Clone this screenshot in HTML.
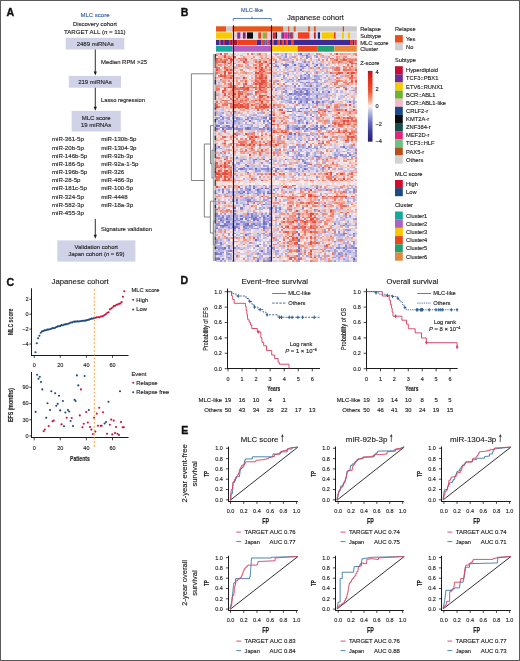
<!DOCTYPE html>
<html><head><meta charset="utf-8"><style>
html,body{margin:0;padding:0;background:#fff;}
svg{display:block;}
text{font-family:"Liberation Sans", sans-serif;stroke-width:0.13px;}
</style></head><body>
<svg width="520" height="661" viewBox="0 0 520 661">
<defs><filter id="gb" x="0" y="0" width="1" height="1"><feGaussianBlur stdDeviation="0.25"/></filter><filter id="hb" x="0" y="0" width="1" height="1"><feGaussianBlur stdDeviation="0.35"/></filter></defs>
<rect width="520" height="661" fill="#fff"/>
<g fill="#222222" filter="url(#gb)">
<text x="6.4" y="15.8" font-size="10.6" font-weight="bold" fill="#111" stroke="#111" style="stroke-width:0.35px">A</text>
<text x="180.8" y="15.6" font-size="10.6" font-weight="bold" fill="#111" stroke="#111" style="stroke-width:0.35px">B</text>
<text x="6.4" y="286.3" font-size="10.6" font-weight="bold" fill="#111" stroke="#111" style="stroke-width:0.35px">C</text>
<text x="180.4" y="283.5" font-size="10.6" font-weight="bold" fill="#111" stroke="#111" style="stroke-width:0.35px">D</text>
<text x="181.2" y="434.2" font-size="10.6" font-weight="bold" fill="#111" stroke="#111" style="stroke-width:0.35px">E</text>
<text x="95.00" y="16.56" font-size="6.0" text-anchor="middle" fill="#2f65a8" stroke="#2f65a8" textLength="29.2" lengthAdjust="spacingAndGlyphs">MLC score</text>
<text x="95.00" y="26.34" font-size="5.95" text-anchor="middle" stroke="#222222" textLength="44" lengthAdjust="spacingAndGlyphs">Discovery cohort</text>
<text x="94.8" y="33.50" font-size="6.1" text-anchor="middle" textLength="61.6" lengthAdjust="spacingAndGlyphs" fill="#222222" stroke="#222222">TARGET ALL (<tspan font-style="italic">n</tspan> = 111)</text>
<rect x="65.70" y="37.80" width="58.60" height="11.70" fill="#d0d2e8"/>
<text x="95.20" y="45.86" font-size="6.0" text-anchor="middle" stroke="#222222" textLength="37" lengthAdjust="spacingAndGlyphs">2489 miRNAs</text>
<line x1="95.30" y1="49.50" x2="95.30" y2="72.40" stroke="#1a1a1a" stroke-width="0.9"/>
<path d="M93.70,71.60 L96.90,71.60 L95.30,75.60 Z" stroke="none" stroke-width="1" fill="#1a1a1a"/>
<text x="101.00" y="64.44" font-size="5.95" stroke="#222222" textLength="46" lengthAdjust="spacingAndGlyphs">Median RPM &gt;25</text>
<rect x="68.80" y="75.90" width="52.20" height="11.80" fill="#d0d2e8"/>
<text x="95.00" y="83.96" font-size="6.0" text-anchor="middle" stroke="#222222">219 miRNAs</text>
<line x1="95.30" y1="87.70" x2="95.30" y2="107.60" stroke="#1a1a1a" stroke-width="0.9"/>
<path d="M93.70,106.80 L96.90,106.80 L95.30,110.80 Z" stroke="none" stroke-width="1" fill="#1a1a1a"/>
<text x="101.00" y="101.79" font-size="5.8" stroke="#222222" textLength="44" lengthAdjust="spacingAndGlyphs">Lasso regression</text>
<rect x="71.60" y="110.80" width="49.20" height="20.70" fill="#d0d2e8"/>
<text x="96.20" y="120.36" font-size="6.0" text-anchor="middle" stroke="#222222">MLC score</text>
<text x="96.20" y="127.46" font-size="6.0" text-anchor="middle" stroke="#222222">19 miRNAs</text>
<text x="52.00" y="141.40" font-size="6.1" stroke="#222222">miR-361-5p</text>
<text x="52.00" y="149.56" font-size="6.1" stroke="#222222">miR-20b-5p</text>
<text x="52.00" y="157.72" font-size="6.1" stroke="#222222">miR-146b-5p</text>
<text x="52.00" y="165.88" font-size="6.1" stroke="#222222">miR-186-5p</text>
<text x="52.00" y="174.04" font-size="6.1" stroke="#222222">miR-196b-5p</text>
<text x="52.00" y="182.20" font-size="6.1" stroke="#222222">miR-28-5p</text>
<text x="52.00" y="190.36" font-size="6.1" stroke="#222222">miR-181c-5p</text>
<text x="52.00" y="198.52" font-size="6.1" stroke="#222222">miR-324-5p</text>
<text x="52.00" y="206.68" font-size="6.1" stroke="#222222">miR-582-3p</text>
<text x="52.00" y="214.84" font-size="6.1" stroke="#222222">miR-455-3p</text>
<text x="101.20" y="141.40" font-size="6.1" stroke="#222222">miR-130b-5p</text>
<text x="101.20" y="149.56" font-size="6.1" stroke="#222222">miR-1304-3p</text>
<text x="101.20" y="157.72" font-size="6.1" stroke="#222222">miR-92b-3p</text>
<text x="101.20" y="165.88" font-size="6.1" stroke="#222222">miR-92a-1-5p</text>
<text x="101.20" y="174.04" font-size="6.1" stroke="#222222">miR-326</text>
<text x="101.20" y="182.20" font-size="6.1" stroke="#222222">miR-486-3p</text>
<text x="101.20" y="190.36" font-size="6.1" stroke="#222222">miR-100-5p</text>
<text x="101.20" y="198.52" font-size="6.1" stroke="#222222">miR-4448</text>
<text x="101.20" y="206.68" font-size="6.1" stroke="#222222">miR-18a-3p</text>
<line x1="95.30" y1="218.90" x2="95.30" y2="235.60" stroke="#1a1a1a" stroke-width="0.9"/>
<path d="M93.70,234.80 L96.90,234.80 L95.30,238.80 Z" stroke="none" stroke-width="1" fill="#1a1a1a"/>
<text x="101.00" y="231.39" font-size="5.8" stroke="#222222" textLength="51" lengthAdjust="spacingAndGlyphs">Signature validation</text>
<rect x="57.30" y="240.40" width="78.10" height="21.20" fill="#d0d2e8"/>
<text x="96.30" y="249.42" font-size="5.9" text-anchor="middle" stroke="#222222">Validation cohort</text>
<text x="96.3" y="256.32" font-size="5.9" text-anchor="middle" fill="#222222" stroke="#222222">Japan cohort (<tspan font-style="italic">n</tspan> = 69)</text>
<text x="80.10" y="283.77" font-size="7.7" text-anchor="middle" stroke="#222222" textLength="57.1" lengthAdjust="spacingAndGlyphs">Japanese cohort</text>
<line x1="31.50" y1="288.30" x2="31.50" y2="356.00" stroke="#1a1a1a" stroke-width="1"/>
<line x1="31.00" y1="355.50" x2="128.50" y2="355.50" stroke="#1a1a1a" stroke-width="1"/>
<line x1="29.30" y1="299.30" x2="31.30" y2="299.30" stroke="#1a1a1a" stroke-width="0.8"/>
<text x="28.60" y="301.28" font-size="5.5" text-anchor="end" stroke="#222222">2</text>
<line x1="29.30" y1="314.20" x2="31.30" y2="314.20" stroke="#1a1a1a" stroke-width="0.8"/>
<text x="28.60" y="316.18" font-size="5.5" text-anchor="end" stroke="#222222">0</text>
<line x1="29.30" y1="329.10" x2="31.30" y2="329.10" stroke="#1a1a1a" stroke-width="0.8"/>
<text x="28.60" y="331.08" font-size="5.5" text-anchor="end" stroke="#222222">−2</text>
<line x1="29.30" y1="344.00" x2="31.30" y2="344.00" stroke="#1a1a1a" stroke-width="0.8"/>
<text x="28.60" y="345.98" font-size="5.5" text-anchor="end" stroke="#222222">−4</text>
<line x1="34.20" y1="355.60" x2="34.20" y2="357.80" stroke="#1a1a1a" stroke-width="0.8"/>
<text x="34.20" y="366.58" font-size="5.5" text-anchor="middle" stroke="#222222">0</text>
<line x1="60.30" y1="355.60" x2="60.30" y2="357.80" stroke="#1a1a1a" stroke-width="0.8"/>
<text x="60.30" y="366.58" font-size="5.5" text-anchor="middle" stroke="#222222">20</text>
<line x1="86.40" y1="355.60" x2="86.40" y2="357.80" stroke="#1a1a1a" stroke-width="0.8"/>
<text x="86.40" y="366.58" font-size="5.5" text-anchor="middle" stroke="#222222">40</text>
<line x1="112.50" y1="355.60" x2="112.50" y2="357.80" stroke="#1a1a1a" stroke-width="0.8"/>
<text x="112.50" y="366.58" font-size="5.5" text-anchor="middle" stroke="#222222">60</text>
<text x="10.60" y="324.61" font-size="7.8" text-anchor="middle" stroke="#222222" font-weight="bold" textLength="26.5" lengthAdjust="spacingAndGlyphs" transform="rotate(-90 10.60 321.80)">MLC score</text>
<circle cx="35.51" cy="352.30" r="1.05" fill="#1f4a80"/>
<circle cx="36.81" cy="343.24" r="1.05" fill="#1f4a80"/>
<circle cx="38.12" cy="338.32" r="1.05" fill="#1f4a80"/>
<circle cx="39.42" cy="335.69" r="1.05" fill="#1f4a80"/>
<circle cx="40.73" cy="332.80" r="1.05" fill="#1f4a80"/>
<circle cx="42.03" cy="331.42" r="1.05" fill="#1f4a80"/>
<circle cx="43.34" cy="331.00" r="1.05" fill="#1f4a80"/>
<circle cx="44.64" cy="330.36" r="1.05" fill="#1f4a80"/>
<circle cx="45.95" cy="330.27" r="1.05" fill="#1f4a80"/>
<circle cx="47.25" cy="329.66" r="1.05" fill="#1f4a80"/>
<circle cx="48.55" cy="329.55" r="1.05" fill="#1f4a80"/>
<circle cx="49.86" cy="329.21" r="1.05" fill="#1f4a80"/>
<circle cx="51.17" cy="328.68" r="1.05" fill="#1f4a80"/>
<circle cx="52.47" cy="328.12" r="1.05" fill="#1f4a80"/>
<circle cx="53.78" cy="328.21" r="1.05" fill="#1f4a80"/>
<circle cx="55.08" cy="327.72" r="1.05" fill="#1f4a80"/>
<circle cx="56.39" cy="327.04" r="1.05" fill="#1f4a80"/>
<circle cx="57.69" cy="326.42" r="1.05" fill="#1f4a80"/>
<circle cx="59.00" cy="326.21" r="1.05" fill="#1f4a80"/>
<circle cx="60.30" cy="325.88" r="1.05" fill="#1f4a80"/>
<circle cx="61.61" cy="325.15" r="1.05" fill="#1f4a80"/>
<circle cx="62.91" cy="325.32" r="1.05" fill="#1f4a80"/>
<circle cx="64.22" cy="324.45" r="1.05" fill="#1f4a80"/>
<circle cx="65.52" cy="324.40" r="1.05" fill="#1f4a80"/>
<circle cx="66.83" cy="324.10" r="1.05" fill="#1f4a80"/>
<circle cx="68.13" cy="323.71" r="1.05" fill="#1f4a80"/>
<circle cx="69.44" cy="323.19" r="1.05" fill="#1f4a80"/>
<circle cx="70.74" cy="322.49" r="1.05" fill="#1f4a80"/>
<circle cx="72.05" cy="322.47" r="1.05" fill="#1f4a80"/>
<circle cx="73.35" cy="321.82" r="1.05" fill="#1f4a80"/>
<circle cx="74.66" cy="321.63" r="1.05" fill="#1f4a80"/>
<circle cx="75.96" cy="321.62" r="1.05" fill="#1f4a80"/>
<circle cx="77.27" cy="321.35" r="1.05" fill="#1f4a80"/>
<circle cx="78.57" cy="321.48" r="1.05" fill="#1f4a80"/>
<circle cx="79.88" cy="321.32" r="1.05" fill="#1f4a80"/>
<circle cx="81.18" cy="321.10" r="1.05" fill="#1f4a80"/>
<circle cx="82.48" cy="320.68" r="1.05" fill="#1f4a80"/>
<circle cx="83.79" cy="320.69" r="1.05" fill="#1f4a80"/>
<circle cx="85.09" cy="320.63" r="1.05" fill="#1f4a80"/>
<circle cx="86.40" cy="320.33" r="1.05" fill="#1f4a80"/>
<circle cx="87.70" cy="319.99" r="1.05" fill="#1f4a80"/>
<circle cx="89.01" cy="319.66" r="1.05" fill="#1f4a80"/>
<circle cx="90.31" cy="318.94" r="1.05" fill="#1f4a80"/>
<circle cx="91.62" cy="318.65" r="1.05" fill="#1f4a80"/>
<circle cx="92.92" cy="318.57" r="1.05" fill="#1f4a80"/>
<circle cx="94.23" cy="318.03" r="1.05" fill="#1f4a80"/>
<circle cx="95.53" cy="317.76" r="1.05" fill="#c8143c"/>
<circle cx="96.84" cy="317.33" r="1.05" fill="#c8143c"/>
<circle cx="98.15" cy="317.19" r="1.05" fill="#c8143c"/>
<circle cx="99.45" cy="317.19" r="1.05" fill="#c8143c"/>
<circle cx="100.75" cy="316.52" r="1.05" fill="#c8143c"/>
<circle cx="102.06" cy="316.48" r="1.05" fill="#c8143c"/>
<circle cx="103.36" cy="315.74" r="1.05" fill="#c8143c"/>
<circle cx="104.67" cy="315.02" r="1.05" fill="#c8143c"/>
<circle cx="105.97" cy="314.03" r="1.05" fill="#c8143c"/>
<circle cx="107.28" cy="312.72" r="1.05" fill="#c8143c"/>
<circle cx="108.58" cy="312.24" r="1.05" fill="#c8143c"/>
<circle cx="109.89" cy="309.33" r="1.05" fill="#c8143c"/>
<circle cx="111.19" cy="308.45" r="1.05" fill="#c8143c"/>
<circle cx="112.50" cy="307.45" r="1.05" fill="#c8143c"/>
<circle cx="113.80" cy="306.15" r="1.05" fill="#c8143c"/>
<circle cx="115.11" cy="305.74" r="1.05" fill="#c8143c"/>
<circle cx="116.41" cy="304.77" r="1.05" fill="#c8143c"/>
<circle cx="117.72" cy="304.46" r="1.05" fill="#c8143c"/>
<circle cx="119.03" cy="303.87" r="1.05" fill="#c8143c"/>
<circle cx="120.33" cy="303.42" r="1.05" fill="#c8143c"/>
<circle cx="121.64" cy="302.08" r="1.05" fill="#c8143c"/>
<circle cx="122.94" cy="296.80" r="1.05" fill="#c8143c"/>
<circle cx="124.25" cy="291.27" r="1.05" fill="#c8143c"/>
<text x="131.50" y="292.29" font-size="5.8" stroke="#222222">MLC score</text>
<circle cx="133.20" cy="299.80" r="1.0" fill="#c8143c"/>
<text x="136.30" y="301.89" font-size="5.8" stroke="#222222">High</text>
<circle cx="133.20" cy="309.40" r="1.0" fill="#1f4a80"/>
<text x="136.30" y="311.49" font-size="5.8" stroke="#222222">Low</text>
<line x1="31.50" y1="372.00" x2="31.50" y2="438.00" stroke="#1a1a1a" stroke-width="1"/>
<line x1="31.00" y1="437.50" x2="128.50" y2="437.50" stroke="#1a1a1a" stroke-width="1"/>
<line x1="29.30" y1="387.25" x2="31.30" y2="387.25" stroke="#1a1a1a" stroke-width="0.8"/>
<text x="28.60" y="389.23" font-size="5.5" text-anchor="end" stroke="#222222">90</text>
<line x1="29.30" y1="403.50" x2="31.30" y2="403.50" stroke="#1a1a1a" stroke-width="0.8"/>
<text x="28.60" y="405.48" font-size="5.5" text-anchor="end" stroke="#222222">60</text>
<line x1="29.30" y1="419.75" x2="31.30" y2="419.75" stroke="#1a1a1a" stroke-width="0.8"/>
<text x="28.60" y="421.73" font-size="5.5" text-anchor="end" stroke="#222222">30</text>
<line x1="29.30" y1="436.00" x2="31.30" y2="436.00" stroke="#1a1a1a" stroke-width="0.8"/>
<text x="28.60" y="437.98" font-size="5.5" text-anchor="end" stroke="#222222">0</text>
<line x1="34.20" y1="438.00" x2="34.20" y2="440.30" stroke="#1a1a1a" stroke-width="0.8"/>
<text x="34.20" y="449.58" font-size="5.5" text-anchor="middle" stroke="#222222">0</text>
<line x1="60.30" y1="438.00" x2="60.30" y2="440.30" stroke="#1a1a1a" stroke-width="0.8"/>
<text x="60.30" y="449.58" font-size="5.5" text-anchor="middle" stroke="#222222">20</text>
<line x1="86.40" y1="438.00" x2="86.40" y2="440.30" stroke="#1a1a1a" stroke-width="0.8"/>
<text x="86.40" y="449.58" font-size="5.5" text-anchor="middle" stroke="#222222">40</text>
<line x1="112.50" y1="438.00" x2="112.50" y2="440.30" stroke="#1a1a1a" stroke-width="0.8"/>
<text x="112.50" y="449.58" font-size="5.5" text-anchor="middle" stroke="#222222">60</text>
<text x="10.60" y="407.81" font-size="7.8" text-anchor="middle" stroke="#222222" font-weight="bold" textLength="34.0" lengthAdjust="spacingAndGlyphs" transform="rotate(-90 10.60 405.00)">EFS (months)</text>
<text x="79.90" y="461.31" font-size="7.8" text-anchor="middle" stroke="#222222" font-weight="bold" textLength="19.7" lengthAdjust="spacingAndGlyphs">Patients</text>
<circle cx="43.70" cy="431.20" r="1.05" fill="#c8143c"/>
<circle cx="44.80" cy="429.60" r="1.05" fill="#c8143c"/>
<circle cx="48.70" cy="426.00" r="1.05" fill="#c8143c"/>
<circle cx="52.50" cy="421.20" r="1.05" fill="#c8143c"/>
<circle cx="53.80" cy="420.60" r="1.05" fill="#c8143c"/>
<circle cx="61.50" cy="424.40" r="1.05" fill="#c8143c"/>
<circle cx="66.70" cy="417.70" r="1.05" fill="#c8143c"/>
<circle cx="71.70" cy="418.00" r="1.05" fill="#c8143c"/>
<circle cx="79.80" cy="415.40" r="1.05" fill="#c8143c"/>
<circle cx="80.90" cy="389.40" r="1.05" fill="#c8143c"/>
<circle cx="82.40" cy="427.30" r="1.05" fill="#c8143c"/>
<circle cx="83.70" cy="423.80" r="1.05" fill="#c8143c"/>
<circle cx="86.20" cy="412.00" r="1.05" fill="#c8143c"/>
<circle cx="87.80" cy="422.50" r="1.05" fill="#c8143c"/>
<circle cx="90.00" cy="427.00" r="1.05" fill="#c8143c"/>
<circle cx="91.40" cy="429.60" r="1.05" fill="#c8143c"/>
<circle cx="92.90" cy="434.00" r="1.05" fill="#c8143c"/>
<circle cx="94.10" cy="417.70" r="1.05" fill="#c8143c"/>
<circle cx="96.80" cy="413.60" r="1.05" fill="#c8143c"/>
<circle cx="97.90" cy="425.80" r="1.05" fill="#c8143c"/>
<circle cx="99.20" cy="407.70" r="1.05" fill="#c8143c"/>
<circle cx="100.60" cy="425.80" r="1.05" fill="#c8143c"/>
<circle cx="101.70" cy="425.80" r="1.05" fill="#c8143c"/>
<circle cx="103.00" cy="412.30" r="1.05" fill="#c8143c"/>
<circle cx="107.00" cy="433.70" r="1.05" fill="#c8143c"/>
<circle cx="109.80" cy="424.80" r="1.05" fill="#c8143c"/>
<circle cx="111.20" cy="419.60" r="1.05" fill="#c8143c"/>
<circle cx="112.30" cy="434.40" r="1.05" fill="#c8143c"/>
<circle cx="113.70" cy="420.60" r="1.05" fill="#c8143c"/>
<circle cx="115.00" cy="433.00" r="1.05" fill="#c8143c"/>
<circle cx="116.00" cy="427.00" r="1.05" fill="#c8143c"/>
<circle cx="117.50" cy="433.70" r="1.05" fill="#c8143c"/>
<circle cx="119.00" cy="435.00" r="1.05" fill="#c8143c"/>
<circle cx="121.00" cy="422.00" r="1.05" fill="#c8143c"/>
<circle cx="122.70" cy="427.30" r="1.05" fill="#c8143c"/>
<circle cx="123.80" cy="427.30" r="1.05" fill="#c8143c"/>
<circle cx="35.60" cy="411.90" r="1.05" fill="#1f4a80"/>
<circle cx="37.10" cy="374.80" r="1.05" fill="#1f4a80"/>
<circle cx="38.50" cy="378.70" r="1.05" fill="#1f4a80"/>
<circle cx="39.80" cy="376.70" r="1.05" fill="#1f4a80"/>
<circle cx="41.00" cy="382.00" r="1.05" fill="#1f4a80"/>
<circle cx="42.30" cy="389.40" r="1.05" fill="#1f4a80"/>
<circle cx="46.20" cy="417.70" r="1.05" fill="#1f4a80"/>
<circle cx="47.50" cy="403.30" r="1.05" fill="#1f4a80"/>
<circle cx="50.00" cy="410.00" r="1.05" fill="#1f4a80"/>
<circle cx="51.30" cy="391.30" r="1.05" fill="#1f4a80"/>
<circle cx="55.20" cy="393.30" r="1.05" fill="#1f4a80"/>
<circle cx="56.30" cy="405.80" r="1.05" fill="#1f4a80"/>
<circle cx="57.70" cy="403.80" r="1.05" fill="#1f4a80"/>
<circle cx="59.00" cy="395.80" r="1.05" fill="#1f4a80"/>
<circle cx="60.20" cy="410.40" r="1.05" fill="#1f4a80"/>
<circle cx="62.90" cy="401.00" r="1.05" fill="#1f4a80"/>
<circle cx="64.00" cy="426.30" r="1.05" fill="#1f4a80"/>
<circle cx="65.40" cy="412.50" r="1.05" fill="#1f4a80"/>
<circle cx="67.90" cy="410.00" r="1.05" fill="#1f4a80"/>
<circle cx="69.20" cy="411.50" r="1.05" fill="#1f4a80"/>
<circle cx="70.60" cy="421.00" r="1.05" fill="#1f4a80"/>
<circle cx="73.00" cy="426.00" r="1.05" fill="#1f4a80"/>
<circle cx="74.60" cy="399.80" r="1.05" fill="#1f4a80"/>
<circle cx="75.60" cy="401.00" r="1.05" fill="#1f4a80"/>
<circle cx="76.90" cy="375.40" r="1.05" fill="#1f4a80"/>
<circle cx="78.30" cy="385.40" r="1.05" fill="#1f4a80"/>
<circle cx="84.60" cy="376.00" r="1.05" fill="#1f4a80"/>
<circle cx="88.80" cy="410.00" r="1.05" fill="#1f4a80"/>
<circle cx="95.30" cy="431.60" r="1.05" fill="#1f4a80"/>
<circle cx="104.60" cy="423.50" r="1.05" fill="#1f4a80"/>
<circle cx="106.00" cy="422.00" r="1.05" fill="#1f4a80"/>
<circle cx="108.50" cy="401.70" r="1.05" fill="#1f4a80"/>
<circle cx="120.00" cy="391.30" r="1.05" fill="#1f4a80"/>
<text x="131.50" y="375.59" font-size="5.8" stroke="#222222">Event</text>
<circle cx="133.20" cy="382.70" r="1.0" fill="#c8143c"/>
<text x="136.30" y="384.79" font-size="5.8" stroke="#222222">Relapse</text>
<circle cx="133.20" cy="392.30" r="1.0" fill="#1f4a80"/>
<text x="136.30" y="394.39" font-size="5.8" stroke="#222222">Relapse free</text>
<line x1="94.30" y1="288.90" x2="94.30" y2="448.50" stroke="#f0a040" stroke-width="0.9" stroke-dasharray="2.2 1.6"/>
<line x1="227.50" y1="288.50" x2="227.50" y2="369.00" stroke="#1a1a1a" stroke-width="1"/>
<line x1="227.00" y1="368.50" x2="320.03" y2="368.50" stroke="#1a1a1a" stroke-width="1"/>
<line x1="224.70" y1="368.70" x2="227.50" y2="368.70" stroke="#1a1a1a" stroke-width="0.8"/>
<text x="221.90" y="370.68" font-size="5.5" text-anchor="end" stroke="#222222">0.0</text>
<line x1="224.70" y1="353.30" x2="227.50" y2="353.30" stroke="#1a1a1a" stroke-width="0.8"/>
<text x="221.90" y="355.28" font-size="5.5" text-anchor="end" stroke="#222222">0.2</text>
<line x1="224.70" y1="337.90" x2="227.50" y2="337.90" stroke="#1a1a1a" stroke-width="0.8"/>
<text x="221.90" y="339.88" font-size="5.5" text-anchor="end" stroke="#222222">0.4</text>
<line x1="224.70" y1="322.50" x2="227.50" y2="322.50" stroke="#1a1a1a" stroke-width="0.8"/>
<text x="221.90" y="324.48" font-size="5.5" text-anchor="end" stroke="#222222">0.6</text>
<line x1="224.70" y1="307.10" x2="227.50" y2="307.10" stroke="#1a1a1a" stroke-width="0.8"/>
<text x="221.90" y="309.08" font-size="5.5" text-anchor="end" stroke="#222222">0.8</text>
<line x1="224.70" y1="291.70" x2="227.50" y2="291.70" stroke="#1a1a1a" stroke-width="0.8"/>
<text x="221.90" y="293.68" font-size="5.5" text-anchor="end" stroke="#222222">1.0</text>
<line x1="228.00" y1="368.70" x2="228.00" y2="371.30" stroke="#1a1a1a" stroke-width="0.8"/>
<text x="228.00" y="380.68" font-size="5.5" text-anchor="middle" stroke="#222222">0</text>
<line x1="242.05" y1="368.70" x2="242.05" y2="371.30" stroke="#1a1a1a" stroke-width="0.8"/>
<text x="242.05" y="380.68" font-size="5.5" text-anchor="middle" stroke="#222222">1</text>
<line x1="256.10" y1="368.70" x2="256.10" y2="371.30" stroke="#1a1a1a" stroke-width="0.8"/>
<text x="256.10" y="380.68" font-size="5.5" text-anchor="middle" stroke="#222222">2</text>
<line x1="270.15" y1="368.70" x2="270.15" y2="371.30" stroke="#1a1a1a" stroke-width="0.8"/>
<text x="270.15" y="380.68" font-size="5.5" text-anchor="middle" stroke="#222222">3</text>
<line x1="284.20" y1="368.70" x2="284.20" y2="371.30" stroke="#1a1a1a" stroke-width="0.8"/>
<text x="284.20" y="380.68" font-size="5.5" text-anchor="middle" stroke="#222222">4</text>
<line x1="298.25" y1="368.70" x2="298.25" y2="371.30" stroke="#1a1a1a" stroke-width="0.8"/>
<text x="298.25" y="380.68" font-size="5.5" text-anchor="middle" stroke="#222222">5</text>
<line x1="312.30" y1="368.70" x2="312.30" y2="371.30" stroke="#1a1a1a" stroke-width="0.8"/>
<text x="312.30" y="380.68" font-size="5.5" text-anchor="middle" stroke="#222222">6</text>
<text x="241.50" y="283.94" font-size="7.6" stroke="#222222" textLength="66.6" lengthAdjust="spacingAndGlyphs">Event−free survival</text>
<text x="205.80" y="331.45" font-size="6.8" text-anchor="middle" stroke="#222222" textLength="43.6" lengthAdjust="spacingAndGlyphs" transform="rotate(-90 205.80 329.00)">Probability of EFS</text>
<text x="273.80" y="391.48" font-size="8.0" text-anchor="middle" stroke="#222222" font-weight="bold" textLength="13.1" lengthAdjust="spacingAndGlyphs">Years</text>
<path d="M228,291.7 H231.5 V295.8 H232.7 V299.5 H234.2 V303.3 H245.5 V306.5 H246.2 V310.5 H246.9 V314.5 H247.5 V318 H247.8 V319.8 H249.2 V322.1 H250.4 V325 H251.8 V328.5 H257.3 V331.9 H260.8 V337.7 H261.9 V342.3 H263.7 V345.8 H266.5 V350.4 H271.7 V355 H274.6 V358.5 H278.1 V362 H279.2 V364.2 H289 V368.7" stroke="#d43a5a" stroke-width="0.9" fill="none"/>
<line x1="258.30" y1="330.20" x2="258.30" y2="333.60" stroke="#d43a5a" stroke-width="1.0"/>
<line x1="257.10" y1="331.90" x2="259.50" y2="331.90" stroke="#d43a5a" stroke-width="1.0"/>
<path d="M228,291.7 H232 V293.7 H236 V296 H246 V298.5 H249 V301.5 H252 V304.5 H254 V307.1 H258 V309.6 H263 V312 H266 V314.8 H278 V317.3 H320" stroke="#2f5f8f" stroke-width="0.9" fill="none" stroke-dasharray="2 1.2"/>
<line x1="238.30" y1="294.30" x2="238.30" y2="297.70" stroke="#2f5f8f" stroke-width="1.0"/>
<line x1="237.10" y1="296.00" x2="239.50" y2="296.00" stroke="#2f5f8f" stroke-width="1.0"/>
<line x1="249.80" y1="299.80" x2="249.80" y2="303.20" stroke="#2f5f8f" stroke-width="1.0"/>
<line x1="248.60" y1="301.50" x2="251.00" y2="301.50" stroke="#2f5f8f" stroke-width="1.0"/>
<line x1="254.40" y1="305.40" x2="254.40" y2="308.80" stroke="#2f5f8f" stroke-width="1.0"/>
<line x1="253.20" y1="307.10" x2="255.60" y2="307.10" stroke="#2f5f8f" stroke-width="1.0"/>
<line x1="260.20" y1="307.90" x2="260.20" y2="311.30" stroke="#2f5f8f" stroke-width="1.0"/>
<line x1="259.00" y1="309.60" x2="261.40" y2="309.60" stroke="#2f5f8f" stroke-width="1.0"/>
<line x1="267.10" y1="313.10" x2="267.10" y2="316.50" stroke="#2f5f8f" stroke-width="1.0"/>
<line x1="265.90" y1="314.80" x2="268.30" y2="314.80" stroke="#2f5f8f" stroke-width="1.0"/>
<line x1="279.60" y1="315.60" x2="279.60" y2="319.00" stroke="#2f5f8f" stroke-width="1.0"/>
<line x1="278.40" y1="317.30" x2="280.80" y2="317.30" stroke="#2f5f8f" stroke-width="1.0"/>
<line x1="281.50" y1="315.60" x2="281.50" y2="319.00" stroke="#2f5f8f" stroke-width="1.0"/>
<line x1="280.30" y1="317.30" x2="282.70" y2="317.30" stroke="#2f5f8f" stroke-width="1.0"/>
<line x1="289.20" y1="315.60" x2="289.20" y2="319.00" stroke="#2f5f8f" stroke-width="1.0"/>
<line x1="288.00" y1="317.30" x2="290.40" y2="317.30" stroke="#2f5f8f" stroke-width="1.0"/>
<line x1="292.10" y1="315.60" x2="292.10" y2="319.00" stroke="#2f5f8f" stroke-width="1.0"/>
<line x1="290.90" y1="317.30" x2="293.30" y2="317.30" stroke="#2f5f8f" stroke-width="1.0"/>
<line x1="297.90" y1="315.60" x2="297.90" y2="319.00" stroke="#2f5f8f" stroke-width="1.0"/>
<line x1="296.70" y1="317.30" x2="299.10" y2="317.30" stroke="#2f5f8f" stroke-width="1.0"/>
<line x1="302.70" y1="315.60" x2="302.70" y2="319.00" stroke="#2f5f8f" stroke-width="1.0"/>
<line x1="301.50" y1="317.30" x2="303.90" y2="317.30" stroke="#2f5f8f" stroke-width="1.0"/>
<line x1="314.20" y1="315.60" x2="314.20" y2="319.00" stroke="#2f5f8f" stroke-width="1.0"/>
<line x1="313.00" y1="317.30" x2="315.40" y2="317.30" stroke="#2f5f8f" stroke-width="1.0"/>
<line x1="272.20" y1="293.50" x2="286.00" y2="293.50" stroke="#d43a5a" stroke-width="0.9"/>
<text x="288.20" y="295.39" font-size="5.8" stroke="#222222" textLength="22.5" lengthAdjust="spacingAndGlyphs">MLC-like</text>
<line x1="272.20" y1="303.10" x2="286.00" y2="303.10" stroke="#2f5f8f" stroke-width="0.9" stroke-dasharray="2.4 1.2"/>
<text x="288.20" y="305.19" font-size="5.8" stroke="#222222" textLength="17.3" lengthAdjust="spacingAndGlyphs">Others</text>
<text x="301.10" y="346.32" font-size="5.9" text-anchor="middle" stroke="#222222" textLength="22.5" lengthAdjust="spacingAndGlyphs">Log rank</text>
<text x="285.3" y="353.42" font-size="5.9" fill="#222222" stroke="#222222"><tspan font-style="italic">P</tspan> = 1 × 10<tspan font-size="3.9" dy="-2.3">−6</tspan></text>
<text x="222.20" y="401.96" font-size="6.0" text-anchor="end" stroke="#222222">MLC-like</text>
<text x="222.20" y="411.86" font-size="6.0" text-anchor="end" stroke="#222222">Others</text>
<text x="228.00" y="401.92" font-size="5.9" text-anchor="middle" stroke="#222222">19</text>
<text x="242.05" y="401.92" font-size="5.9" text-anchor="middle" stroke="#222222">16</text>
<text x="256.10" y="401.92" font-size="5.9" text-anchor="middle" stroke="#222222">10</text>
<text x="270.15" y="401.92" font-size="5.9" text-anchor="middle" stroke="#222222">4</text>
<text x="284.20" y="401.92" font-size="5.9" text-anchor="middle" stroke="#222222">1</text>
<text x="228.00" y="411.82" font-size="5.9" text-anchor="middle" stroke="#222222">50</text>
<text x="242.05" y="411.82" font-size="5.9" text-anchor="middle" stroke="#222222">43</text>
<text x="256.10" y="411.82" font-size="5.9" text-anchor="middle" stroke="#222222">34</text>
<text x="270.15" y="411.82" font-size="5.9" text-anchor="middle" stroke="#222222">28</text>
<text x="284.20" y="411.82" font-size="5.9" text-anchor="middle" stroke="#222222">22</text>
<text x="298.25" y="411.82" font-size="5.9" text-anchor="middle" stroke="#222222">17</text>
<text x="312.30" y="411.82" font-size="5.9" text-anchor="middle" stroke="#222222">13</text>
<line x1="366.50" y1="288.50" x2="366.50" y2="369.00" stroke="#1a1a1a" stroke-width="1"/>
<line x1="366.00" y1="368.50" x2="457.65" y2="368.50" stroke="#1a1a1a" stroke-width="1"/>
<line x1="363.70" y1="368.70" x2="366.50" y2="368.70" stroke="#1a1a1a" stroke-width="0.8"/>
<text x="360.90" y="370.68" font-size="5.5" text-anchor="end" stroke="#222222">0.0</text>
<line x1="363.70" y1="353.30" x2="366.50" y2="353.30" stroke="#1a1a1a" stroke-width="0.8"/>
<text x="360.90" y="355.28" font-size="5.5" text-anchor="end" stroke="#222222">0.2</text>
<line x1="363.70" y1="337.90" x2="366.50" y2="337.90" stroke="#1a1a1a" stroke-width="0.8"/>
<text x="360.90" y="339.88" font-size="5.5" text-anchor="end" stroke="#222222">0.4</text>
<line x1="363.70" y1="322.50" x2="366.50" y2="322.50" stroke="#1a1a1a" stroke-width="0.8"/>
<text x="360.90" y="324.48" font-size="5.5" text-anchor="end" stroke="#222222">0.6</text>
<line x1="363.70" y1="307.10" x2="366.50" y2="307.10" stroke="#1a1a1a" stroke-width="0.8"/>
<text x="360.90" y="309.08" font-size="5.5" text-anchor="end" stroke="#222222">0.8</text>
<line x1="363.70" y1="291.70" x2="366.50" y2="291.70" stroke="#1a1a1a" stroke-width="0.8"/>
<text x="360.90" y="293.68" font-size="5.5" text-anchor="end" stroke="#222222">1.0</text>
<line x1="366.60" y1="368.70" x2="366.60" y2="371.30" stroke="#1a1a1a" stroke-width="0.8"/>
<text x="366.60" y="380.68" font-size="5.5" text-anchor="middle" stroke="#222222">0</text>
<line x1="380.50" y1="368.70" x2="380.50" y2="371.30" stroke="#1a1a1a" stroke-width="0.8"/>
<text x="380.50" y="380.68" font-size="5.5" text-anchor="middle" stroke="#222222">1</text>
<line x1="394.40" y1="368.70" x2="394.40" y2="371.30" stroke="#1a1a1a" stroke-width="0.8"/>
<text x="394.40" y="380.68" font-size="5.5" text-anchor="middle" stroke="#222222">2</text>
<line x1="408.30" y1="368.70" x2="408.30" y2="371.30" stroke="#1a1a1a" stroke-width="0.8"/>
<text x="408.30" y="380.68" font-size="5.5" text-anchor="middle" stroke="#222222">3</text>
<line x1="422.20" y1="368.70" x2="422.20" y2="371.30" stroke="#1a1a1a" stroke-width="0.8"/>
<text x="422.20" y="380.68" font-size="5.5" text-anchor="middle" stroke="#222222">4</text>
<line x1="436.10" y1="368.70" x2="436.10" y2="371.30" stroke="#1a1a1a" stroke-width="0.8"/>
<text x="436.10" y="380.68" font-size="5.5" text-anchor="middle" stroke="#222222">5</text>
<line x1="450.00" y1="368.70" x2="450.00" y2="371.30" stroke="#1a1a1a" stroke-width="0.8"/>
<text x="450.00" y="380.68" font-size="5.5" text-anchor="middle" stroke="#222222">6</text>
<text x="386.60" y="283.94" font-size="7.6" stroke="#222222" textLength="51.7" lengthAdjust="spacingAndGlyphs">Overall survival</text>
<text x="343.70" y="331.45" font-size="6.8" text-anchor="middle" stroke="#222222" textLength="42.0" lengthAdjust="spacingAndGlyphs" transform="rotate(-90 343.70 329.00)">Probability of OS</text>
<text x="411.91" y="391.48" font-size="8.0" text-anchor="middle" stroke="#222222" font-weight="bold" textLength="13.1" lengthAdjust="spacingAndGlyphs">Years</text>
<path d="M366.5,291.6 H382.3 V296 H389.2 V300 H390.4 V304.6 H391.4 V308.1 H392.2 V312.1 H393 V316.2 H401.9 V320.2 H406.5 V324.2 H408.3 V328.8 H415.2 V332.9 H421.5 V338 H426.3 V342.7 H457.1 V348.5" stroke="#d43a5a" stroke-width="0.9" fill="none"/>
<line x1="395.60" y1="314.50" x2="395.60" y2="317.90" stroke="#d43a5a" stroke-width="1.0"/>
<line x1="394.40" y1="316.20" x2="396.80" y2="316.20" stroke="#d43a5a" stroke-width="1.0"/>
<line x1="426.30" y1="341.00" x2="426.30" y2="344.40" stroke="#d43a5a" stroke-width="1.0"/>
<line x1="425.10" y1="342.70" x2="427.50" y2="342.70" stroke="#d43a5a" stroke-width="1.0"/>
<line x1="457.10" y1="345.30" x2="457.10" y2="348.70" stroke="#d43a5a" stroke-width="1.0"/>
<line x1="455.90" y1="347.00" x2="458.30" y2="347.00" stroke="#d43a5a" stroke-width="1.0"/>
<path d="M366.5,291.6 H375 V292.8 H379 V294.2 H386 V295.4 H392 V296.5 H397 V298.3 H399 V300.6 H401 V302.5 H402.5 V304.5 H404 V307 H406 V309.8 H458" stroke="#2f5f8f" stroke-width="0.9" fill="none" stroke-dasharray="1.2 1"/>
<line x1="416.70" y1="308.10" x2="416.70" y2="311.50" stroke="#2f5f8f" stroke-width="1.0"/>
<line x1="415.50" y1="309.80" x2="417.90" y2="309.80" stroke="#2f5f8f" stroke-width="1.0"/>
<line x1="417.70" y1="308.10" x2="417.70" y2="311.50" stroke="#2f5f8f" stroke-width="1.0"/>
<line x1="416.50" y1="309.80" x2="418.90" y2="309.80" stroke="#2f5f8f" stroke-width="1.0"/>
<line x1="420.60" y1="308.10" x2="420.60" y2="311.50" stroke="#2f5f8f" stroke-width="1.0"/>
<line x1="419.40" y1="309.80" x2="421.80" y2="309.80" stroke="#2f5f8f" stroke-width="1.0"/>
<line x1="421.50" y1="308.10" x2="421.50" y2="311.50" stroke="#2f5f8f" stroke-width="1.0"/>
<line x1="420.30" y1="309.80" x2="422.70" y2="309.80" stroke="#2f5f8f" stroke-width="1.0"/>
<line x1="422.50" y1="308.10" x2="422.50" y2="311.50" stroke="#2f5f8f" stroke-width="1.0"/>
<line x1="421.30" y1="309.80" x2="423.70" y2="309.80" stroke="#2f5f8f" stroke-width="1.0"/>
<line x1="429.20" y1="308.10" x2="429.20" y2="311.50" stroke="#2f5f8f" stroke-width="1.0"/>
<line x1="428.00" y1="309.80" x2="430.40" y2="309.80" stroke="#2f5f8f" stroke-width="1.0"/>
<line x1="436.00" y1="308.10" x2="436.00" y2="311.50" stroke="#2f5f8f" stroke-width="1.0"/>
<line x1="434.80" y1="309.80" x2="437.20" y2="309.80" stroke="#2f5f8f" stroke-width="1.0"/>
<line x1="438.80" y1="308.10" x2="438.80" y2="311.50" stroke="#2f5f8f" stroke-width="1.0"/>
<line x1="437.60" y1="309.80" x2="440.00" y2="309.80" stroke="#2f5f8f" stroke-width="1.0"/>
<line x1="440.80" y1="308.10" x2="440.80" y2="311.50" stroke="#2f5f8f" stroke-width="1.0"/>
<line x1="439.60" y1="309.80" x2="442.00" y2="309.80" stroke="#2f5f8f" stroke-width="1.0"/>
<line x1="442.70" y1="308.10" x2="442.70" y2="311.50" stroke="#2f5f8f" stroke-width="1.0"/>
<line x1="441.50" y1="309.80" x2="443.90" y2="309.80" stroke="#2f5f8f" stroke-width="1.0"/>
<line x1="451.30" y1="308.10" x2="451.30" y2="311.50" stroke="#2f5f8f" stroke-width="1.0"/>
<line x1="450.10" y1="309.80" x2="452.50" y2="309.80" stroke="#2f5f8f" stroke-width="1.0"/>
<line x1="457.10" y1="308.10" x2="457.10" y2="311.50" stroke="#2f5f8f" stroke-width="1.0"/>
<line x1="455.90" y1="309.80" x2="458.30" y2="309.80" stroke="#2f5f8f" stroke-width="1.0"/>
<line x1="376.00" y1="291.10" x2="376.00" y2="294.50" stroke="#2f5f8f" stroke-width="1.0"/>
<line x1="374.80" y1="292.80" x2="377.20" y2="292.80" stroke="#2f5f8f" stroke-width="1.0"/>
<line x1="387.50" y1="293.70" x2="387.50" y2="297.10" stroke="#2f5f8f" stroke-width="1.0"/>
<line x1="386.30" y1="295.40" x2="388.70" y2="295.40" stroke="#2f5f8f" stroke-width="1.0"/>
<line x1="392.70" y1="294.80" x2="392.70" y2="298.20" stroke="#2f5f8f" stroke-width="1.0"/>
<line x1="391.50" y1="296.50" x2="393.90" y2="296.50" stroke="#2f5f8f" stroke-width="1.0"/>
<line x1="397.90" y1="296.60" x2="397.90" y2="300.00" stroke="#2f5f8f" stroke-width="1.0"/>
<line x1="396.70" y1="298.30" x2="399.10" y2="298.30" stroke="#2f5f8f" stroke-width="1.0"/>
<line x1="404.80" y1="305.80" x2="404.80" y2="309.20" stroke="#2f5f8f" stroke-width="1.0"/>
<line x1="403.60" y1="307.50" x2="406.00" y2="307.50" stroke="#2f5f8f" stroke-width="1.0"/>
<line x1="417.20" y1="293.50" x2="431.00" y2="293.50" stroke="#d43a5a" stroke-width="0.9"/>
<text x="433.20" y="295.39" font-size="5.8" stroke="#222222" textLength="22.5" lengthAdjust="spacingAndGlyphs">MLC-like</text>
<line x1="417.20" y1="303.10" x2="431.00" y2="303.10" stroke="#2f5f8f" stroke-width="0.9" stroke-dasharray="1.2 1"/>
<text x="433.20" y="305.19" font-size="5.8" stroke="#222222" textLength="17.3" lengthAdjust="spacingAndGlyphs">Others</text>
<text x="444.90" y="323.62" font-size="5.9" text-anchor="middle" stroke="#222222" textLength="22.4" lengthAdjust="spacingAndGlyphs">Log rank</text>
<text x="428.9" y="330.92" font-size="5.9" fill="#222222" stroke="#222222"><tspan font-style="italic">P</tspan> = 8 × 10<tspan font-size="3.9" dy="-2.3">−4</tspan></text>
<text x="360.30" y="401.96" font-size="6.0" text-anchor="end" stroke="#222222">MLC-like</text>
<text x="360.30" y="411.86" font-size="6.0" text-anchor="end" stroke="#222222">Others</text>
<text x="366.60" y="401.92" font-size="5.9" text-anchor="middle" stroke="#222222">19</text>
<text x="380.50" y="401.92" font-size="5.9" text-anchor="middle" stroke="#222222">19</text>
<text x="394.40" y="401.92" font-size="5.9" text-anchor="middle" stroke="#222222">14</text>
<text x="408.30" y="401.92" font-size="5.9" text-anchor="middle" stroke="#222222">10</text>
<text x="422.20" y="401.92" font-size="5.9" text-anchor="middle" stroke="#222222">8</text>
<text x="436.10" y="401.92" font-size="5.9" text-anchor="middle" stroke="#222222">5</text>
<text x="450.00" y="401.92" font-size="5.9" text-anchor="middle" stroke="#222222">5</text>
<text x="366.60" y="411.82" font-size="5.9" text-anchor="middle" stroke="#222222">50</text>
<text x="380.50" y="411.82" font-size="5.9" text-anchor="middle" stroke="#222222">46</text>
<text x="394.40" y="411.82" font-size="5.9" text-anchor="middle" stroke="#222222">41</text>
<text x="408.30" y="411.82" font-size="5.9" text-anchor="middle" stroke="#222222">30</text>
<text x="422.20" y="411.82" font-size="5.9" text-anchor="middle" stroke="#222222">24</text>
<text x="436.10" y="411.82" font-size="5.9" text-anchor="middle" stroke="#222222">19</text>
<text x="450.00" y="411.82" font-size="5.9" text-anchor="middle" stroke="#222222">15</text>
<line x1="228.50" y1="446.50" x2="228.50" y2="502.00" stroke="#1a1a1a" stroke-width="1"/>
<line x1="228.00" y1="501.50" x2="297.80" y2="501.50" stroke="#1a1a1a" stroke-width="1"/>
<line x1="225.90" y1="499.80" x2="228.50" y2="499.80" stroke="#1a1a1a" stroke-width="0.8"/>
<text x="222.90" y="501.78" font-size="5.5" text-anchor="end" stroke="#222222">0.0</text>
<line x1="230.50" y1="501.50" x2="230.50" y2="503.90" stroke="#1a1a1a" stroke-width="0.8"/>
<text x="230.50" y="512.68" font-size="5.5" text-anchor="middle" stroke="#222222">0.0</text>
<line x1="225.90" y1="489.50" x2="228.50" y2="489.50" stroke="#1a1a1a" stroke-width="0.8"/>
<text x="222.90" y="491.48" font-size="5.5" text-anchor="end" stroke="#222222">0.2</text>
<line x1="243.72" y1="501.50" x2="243.72" y2="503.90" stroke="#1a1a1a" stroke-width="0.8"/>
<text x="243.72" y="512.68" font-size="5.5" text-anchor="middle" stroke="#222222">0.2</text>
<line x1="225.90" y1="479.20" x2="228.50" y2="479.20" stroke="#1a1a1a" stroke-width="0.8"/>
<text x="222.90" y="481.18" font-size="5.5" text-anchor="end" stroke="#222222">0.4</text>
<line x1="256.94" y1="501.50" x2="256.94" y2="503.90" stroke="#1a1a1a" stroke-width="0.8"/>
<text x="256.94" y="512.68" font-size="5.5" text-anchor="middle" stroke="#222222">0.4</text>
<line x1="225.90" y1="468.90" x2="228.50" y2="468.90" stroke="#1a1a1a" stroke-width="0.8"/>
<text x="222.90" y="470.88" font-size="5.5" text-anchor="end" stroke="#222222">0.6</text>
<line x1="270.16" y1="501.50" x2="270.16" y2="503.90" stroke="#1a1a1a" stroke-width="0.8"/>
<text x="270.16" y="512.68" font-size="5.5" text-anchor="middle" stroke="#222222">0.6</text>
<line x1="225.90" y1="458.60" x2="228.50" y2="458.60" stroke="#1a1a1a" stroke-width="0.8"/>
<text x="222.90" y="460.58" font-size="5.5" text-anchor="end" stroke="#222222">0.8</text>
<line x1="283.38" y1="501.50" x2="283.38" y2="503.90" stroke="#1a1a1a" stroke-width="0.8"/>
<text x="283.38" y="512.68" font-size="5.5" text-anchor="middle" stroke="#222222">0.8</text>
<line x1="225.90" y1="448.30" x2="228.50" y2="448.30" stroke="#1a1a1a" stroke-width="0.8"/>
<text x="222.90" y="450.28" font-size="5.5" text-anchor="end" stroke="#222222">1.0</text>
<line x1="296.60" y1="501.50" x2="296.60" y2="503.90" stroke="#1a1a1a" stroke-width="0.8"/>
<text x="296.60" y="512.68" font-size="5.5" text-anchor="middle" stroke="#222222">1.0</text>
<text x="205.80" y="476.67" font-size="8.1" text-anchor="middle" stroke="#222222" font-weight="bold" textLength="6.0" lengthAdjust="spacingAndGlyphs" transform="rotate(-90 205.80 473.75)">TP</text>
<text x="265.55" y="524.05" font-size="8.2" text-anchor="middle" stroke="#222222" font-weight="bold" textLength="6.8" lengthAdjust="spacingAndGlyphs">FP</text>
<polyline points="230.27,500.21 297.87,447.13" fill="none" stroke="#1a1a1a" stroke-width="0.9"/>
<polyline points="230.27,500.21 230.27,499.50 230.98,499.50 230.98,493.81 232.40,493.81 232.40,491.96 232.55,491.96 232.55,490.11 232.69,490.11 232.69,488.26 232.83,488.26 232.83,486.41 232.97,486.41 232.97,484.56 233.12,484.56 233.12,482.42 234.54,482.42 234.54,480.53 235.49,480.53 235.49,478.63 236.44,478.63 236.44,476.73 237.38,476.73 239.52,476.73 239.52,474.83 239.76,474.83 239.76,472.94 239.99,472.94 239.99,471.04 240.23,471.04 240.23,468.90 241.65,468.90 241.65,467.84 242.72,467.84 242.72,466.77 243.79,466.77 243.79,464.63 244.14,464.63 244.14,462.50 244.50,462.50 244.50,460.72 245.21,460.72 245.21,458.94 245.92,458.94 252.33,458.94 252.33,456.81 272.96,456.81 272.96,453.96 280.08,453.96 280.08,451.83 287.19,451.83 287.19,448.98 292.17,448.98 292.17,447.98 292.17,447.70 294.07,447.70 294.07,447.42 295.97,447.42 295.97,447.13 297.87,447.13" fill="none" stroke="#3a78a8" stroke-width="0.9"/>
<polyline points="230.27,500.21 230.70,496.65 230.70,494.88 230.87,494.88 230.87,493.10 231.05,493.10 231.05,491.32 231.23,491.32 231.23,489.54 231.41,489.54 232.40,489.25 232.83,483.85 232.83,482.42 233.68,482.42 233.68,481.00 234.54,481.00 234.54,479.22 235.61,479.22 235.61,477.44 236.67,477.44 236.67,476.02 237.60,476.02 237.60,474.60 238.52,474.60 238.52,472.94 239.09,472.94 239.09,471.28 239.66,471.28 239.66,469.62 240.23,469.62 240.23,468.05 241.08,468.05 241.08,466.48 241.94,466.48 241.94,465.06 244.50,465.06 244.50,463.43 245.57,463.43 245.57,461.79 246.63,461.79 255.88,461.79 255.88,460.37 256.60,460.37 256.60,460.19 258.55,460.19 258.55,460.01 260.51,460.01 260.51,459.83 262.47,459.83 262.47,459.65 264.42,459.65 264.42,459.16 266.56,459.16 266.56,458.66 268.69,458.66 268.69,457.52 270.83,457.52 270.83,457.02 272.61,457.02 272.61,456.52 274.38,456.52 274.38,454.67 275.10,454.67 275.10,454.44 276.76,454.44 276.76,454.20 278.42,454.20 278.42,453.96 280.08,453.96 280.08,452.54 281.50,452.54 281.50,451.12 282.92,451.12 282.92,450.76 285.06,450.76 285.06,450.40 287.19,450.40 287.19,448.98 288.62,448.98 288.62,448.27 290.75,448.27 290.75,447.56 292.88,447.56 297.87,447.13" fill="none" stroke="#d8405c" stroke-width="0.9"/>
<text x="240.80" y="441.5" font-size="7.6" stroke="#222" textLength="37.6" lengthAdjust="spacingAndGlyphs">MLC score</text>
<line x1="282.40" y1="442.00" x2="282.40" y2="435.60" stroke="#333" stroke-width="0.75"/>
<path d="M281.10,436.8 L282.40,434.0 L283.70,436.8 Z" stroke="none" stroke-width="1" fill="#333"/>
<line x1="236.30" y1="532.10" x2="241.20" y2="532.10" stroke="#d8405c" stroke-width="0.9"/>
<text x="244.60" y="534.12" font-size="5.6" stroke="#222222" textLength="51" lengthAdjust="spacingAndGlyphs">TARGET AUC 0.76</text>
<line x1="236.30" y1="541.60" x2="241.20" y2="541.60" stroke="#3a78a8" stroke-width="0.9"/>
<text x="244.60" y="543.62" font-size="5.6" stroke="#222222">Japan</text>
<text x="269.60" y="543.62" font-size="5.6" stroke="#222222" textLength="26" lengthAdjust="spacingAndGlyphs">AUC 0.77</text>
<line x1="335.50" y1="446.50" x2="335.50" y2="502.00" stroke="#1a1a1a" stroke-width="1"/>
<line x1="335.00" y1="501.50" x2="403.80" y2="501.50" stroke="#1a1a1a" stroke-width="1"/>
<line x1="332.90" y1="499.80" x2="335.50" y2="499.80" stroke="#1a1a1a" stroke-width="0.8"/>
<text x="329.90" y="501.78" font-size="5.5" text-anchor="end" stroke="#222222">0.0</text>
<line x1="338.20" y1="501.50" x2="338.20" y2="503.90" stroke="#1a1a1a" stroke-width="0.8"/>
<text x="338.20" y="512.68" font-size="5.5" text-anchor="middle" stroke="#222222">0.0</text>
<line x1="332.90" y1="489.50" x2="335.50" y2="489.50" stroke="#1a1a1a" stroke-width="0.8"/>
<text x="329.90" y="491.48" font-size="5.5" text-anchor="end" stroke="#222222">0.2</text>
<line x1="351.08" y1="501.50" x2="351.08" y2="503.90" stroke="#1a1a1a" stroke-width="0.8"/>
<text x="351.08" y="512.68" font-size="5.5" text-anchor="middle" stroke="#222222">0.2</text>
<line x1="332.90" y1="479.20" x2="335.50" y2="479.20" stroke="#1a1a1a" stroke-width="0.8"/>
<text x="329.90" y="481.18" font-size="5.5" text-anchor="end" stroke="#222222">0.4</text>
<line x1="363.96" y1="501.50" x2="363.96" y2="503.90" stroke="#1a1a1a" stroke-width="0.8"/>
<text x="363.96" y="512.68" font-size="5.5" text-anchor="middle" stroke="#222222">0.4</text>
<line x1="332.90" y1="468.90" x2="335.50" y2="468.90" stroke="#1a1a1a" stroke-width="0.8"/>
<text x="329.90" y="470.88" font-size="5.5" text-anchor="end" stroke="#222222">0.6</text>
<line x1="376.84" y1="501.50" x2="376.84" y2="503.90" stroke="#1a1a1a" stroke-width="0.8"/>
<text x="376.84" y="512.68" font-size="5.5" text-anchor="middle" stroke="#222222">0.6</text>
<line x1="332.90" y1="458.60" x2="335.50" y2="458.60" stroke="#1a1a1a" stroke-width="0.8"/>
<text x="329.90" y="460.58" font-size="5.5" text-anchor="end" stroke="#222222">0.8</text>
<line x1="389.72" y1="501.50" x2="389.72" y2="503.90" stroke="#1a1a1a" stroke-width="0.8"/>
<text x="389.72" y="512.68" font-size="5.5" text-anchor="middle" stroke="#222222">0.8</text>
<line x1="332.90" y1="448.30" x2="335.50" y2="448.30" stroke="#1a1a1a" stroke-width="0.8"/>
<text x="329.90" y="450.28" font-size="5.5" text-anchor="end" stroke="#222222">1.0</text>
<line x1="402.60" y1="501.50" x2="402.60" y2="503.90" stroke="#1a1a1a" stroke-width="0.8"/>
<text x="402.60" y="512.68" font-size="5.5" text-anchor="middle" stroke="#222222">1.0</text>
<text x="312.80" y="476.67" font-size="8.1" text-anchor="middle" stroke="#222222" font-weight="bold" textLength="6.0" lengthAdjust="spacingAndGlyphs" transform="rotate(-90 312.80 473.75)">TP</text>
<text x="370.40" y="524.05" font-size="8.2" text-anchor="middle" stroke="#222222" font-weight="bold" textLength="6.8" lengthAdjust="spacingAndGlyphs">FP</text>
<polyline points="336.98,500.21 404.15,447.13" fill="none" stroke="#1a1a1a" stroke-width="0.9"/>
<polyline points="336.98,500.21 336.98,498.79 337.48,498.79 337.48,497.37 337.98,497.37 337.98,495.71 338.22,495.71 338.22,494.05 338.46,494.05 338.46,492.38 338.69,492.38 338.69,490.96 340.12,490.96 340.12,488.83 340.47,488.83 340.47,486.69 340.83,486.69 340.83,485.98 342.96,485.98 342.96,483.85 343.67,483.85 343.67,482.42 345.10,482.42 345.10,480.53 345.57,480.53 345.57,478.63 346.04,478.63 346.04,476.73 346.52,476.73 346.52,474.60 346.88,474.60 346.88,472.46 347.23,472.46 347.23,471.04 348.65,471.04 348.65,470.33 350.08,470.33 350.08,468.19 350.43,468.19 350.43,466.06 350.79,466.06 350.79,465.35 352.21,465.35 352.21,463.92 354.35,463.92 354.35,462.50 355.77,462.50 355.77,461.08 356.84,461.08 356.84,459.65 357.90,459.65 357.90,458.94 359.33,458.94 362.17,458.94 362.17,457.52 362.88,457.52 362.88,457.40 364.78,457.40 364.78,457.28 366.68,457.28 366.68,457.16 368.58,457.16 368.58,457.04 370.47,457.04 370.47,456.93 372.37,456.93 372.37,456.81 374.27,456.81 374.27,454.67 375.69,454.67 375.69,453.61 376.76,453.61 376.76,452.54 377.83,452.54 377.83,451.12 394.19,450.83 394.19,449.69 395.62,449.69 395.62,449.46 397.51,449.46 397.51,449.22 399.41,449.22 399.41,448.98 401.31,448.98 401.31,448.06 402.73,448.06 402.73,447.13 404.15,447.13" fill="none" stroke="#3a78a8" stroke-width="0.9"/>
<polyline points="336.98,500.21 336.98,498.55 337.32,498.55 337.32,496.89 337.65,496.89 337.65,495.23 337.98,495.23 337.98,493.45 338.69,493.45 338.69,491.67 339.40,491.67 339.40,490.25 340.12,490.25 340.12,488.83 340.83,488.83 340.83,487.76 341.89,487.76 341.89,486.69 342.96,486.69 342.96,484.91 343.67,484.91 343.67,483.13 344.38,483.13 344.38,481.36 345.10,481.36 345.10,479.58 345.81,479.58 345.81,477.44 346.28,477.44 346.28,475.31 346.76,475.31 346.76,473.17 347.23,473.17 347.23,471.04 348.65,471.04 348.65,470.68 350.43,470.68 350.43,470.33 352.21,470.33 352.21,468.55 352.57,468.55 352.57,466.77 352.92,466.77 352.92,465.35 353.99,465.35 353.99,463.92 355.06,463.92 355.06,461.79 356.48,461.79 356.48,460.72 357.55,460.72 357.55,459.65 358.62,459.65 358.62,458.94 360.04,458.94 360.04,458.59 361.82,458.59 361.82,458.23 363.60,458.23 363.60,456.81 364.31,456.81 372.85,456.81 372.85,455.38 374.98,455.38 374.98,453.96 375.69,453.96 375.69,454.32 377.83,454.32 377.83,454.67 379.96,454.67 379.96,454.50 381.74,454.50 381.74,454.32 383.52,454.32 383.52,454.14 385.30,454.14 385.30,453.96 387.08,453.96 387.08,451.83 387.79,451.83 387.79,451.65 389.75,451.65 389.75,451.47 391.70,451.47 391.70,451.29 393.66,451.29 393.66,451.12 395.62,451.12 395.62,448.98 396.33,448.98 396.33,448.74 397.99,448.74 397.99,448.51 399.65,448.51 399.65,448.27 401.31,448.27 401.31,447.70 402.73,447.70 402.73,447.13 404.15,447.13" fill="none" stroke="#d8405c" stroke-width="0.9"/>
<text x="345.80" y="441.5" font-size="7.6" stroke="#222" textLength="41.5" lengthAdjust="spacingAndGlyphs">miR-92b-3p</text>
<line x1="391.30" y1="442.00" x2="391.30" y2="435.60" stroke="#333" stroke-width="0.75"/>
<path d="M390.00,436.8 L391.30,434.0 L392.60,436.8 Z" stroke="none" stroke-width="1" fill="#333"/>
<line x1="340.60" y1="532.10" x2="345.50" y2="532.10" stroke="#d8405c" stroke-width="0.9"/>
<text x="348.90" y="534.12" font-size="5.6" stroke="#222222" textLength="51" lengthAdjust="spacingAndGlyphs">TARGET AUC 0.74</text>
<line x1="340.60" y1="541.60" x2="345.50" y2="541.60" stroke="#3a78a8" stroke-width="0.9"/>
<text x="348.90" y="543.62" font-size="5.6" stroke="#222222">Japan</text>
<text x="373.90" y="543.62" font-size="5.6" stroke="#222222" textLength="26" lengthAdjust="spacingAndGlyphs">AUC 0.75</text>
<line x1="441.50" y1="446.50" x2="441.50" y2="502.00" stroke="#1a1a1a" stroke-width="1"/>
<line x1="441.00" y1="501.50" x2="510.80" y2="501.50" stroke="#1a1a1a" stroke-width="1"/>
<line x1="438.90" y1="499.80" x2="441.50" y2="499.80" stroke="#1a1a1a" stroke-width="0.8"/>
<text x="435.90" y="501.78" font-size="5.5" text-anchor="end" stroke="#222222">0.0</text>
<line x1="443.90" y1="501.50" x2="443.90" y2="503.90" stroke="#1a1a1a" stroke-width="0.8"/>
<text x="443.90" y="512.68" font-size="5.5" text-anchor="middle" stroke="#222222">0.0</text>
<line x1="438.90" y1="489.50" x2="441.50" y2="489.50" stroke="#1a1a1a" stroke-width="0.8"/>
<text x="435.90" y="491.48" font-size="5.5" text-anchor="end" stroke="#222222">0.2</text>
<line x1="457.04" y1="501.50" x2="457.04" y2="503.90" stroke="#1a1a1a" stroke-width="0.8"/>
<text x="457.04" y="512.68" font-size="5.5" text-anchor="middle" stroke="#222222">0.2</text>
<line x1="438.90" y1="479.20" x2="441.50" y2="479.20" stroke="#1a1a1a" stroke-width="0.8"/>
<text x="435.90" y="481.18" font-size="5.5" text-anchor="end" stroke="#222222">0.4</text>
<line x1="470.18" y1="501.50" x2="470.18" y2="503.90" stroke="#1a1a1a" stroke-width="0.8"/>
<text x="470.18" y="512.68" font-size="5.5" text-anchor="middle" stroke="#222222">0.4</text>
<line x1="438.90" y1="468.90" x2="441.50" y2="468.90" stroke="#1a1a1a" stroke-width="0.8"/>
<text x="435.90" y="470.88" font-size="5.5" text-anchor="end" stroke="#222222">0.6</text>
<line x1="483.32" y1="501.50" x2="483.32" y2="503.90" stroke="#1a1a1a" stroke-width="0.8"/>
<text x="483.32" y="512.68" font-size="5.5" text-anchor="middle" stroke="#222222">0.6</text>
<line x1="438.90" y1="458.60" x2="441.50" y2="458.60" stroke="#1a1a1a" stroke-width="0.8"/>
<text x="435.90" y="460.58" font-size="5.5" text-anchor="end" stroke="#222222">0.8</text>
<line x1="496.46" y1="501.50" x2="496.46" y2="503.90" stroke="#1a1a1a" stroke-width="0.8"/>
<text x="496.46" y="512.68" font-size="5.5" text-anchor="middle" stroke="#222222">0.8</text>
<line x1="438.90" y1="448.30" x2="441.50" y2="448.30" stroke="#1a1a1a" stroke-width="0.8"/>
<text x="435.90" y="450.28" font-size="5.5" text-anchor="end" stroke="#222222">1.0</text>
<line x1="509.60" y1="501.50" x2="509.60" y2="503.90" stroke="#1a1a1a" stroke-width="0.8"/>
<text x="509.60" y="512.68" font-size="5.5" text-anchor="middle" stroke="#222222">1.0</text>
<text x="418.80" y="476.67" font-size="8.1" text-anchor="middle" stroke="#222222" font-weight="bold" textLength="6.0" lengthAdjust="spacingAndGlyphs" transform="rotate(-90 418.80 473.75)">TP</text>
<text x="476.75" y="524.05" font-size="8.2" text-anchor="middle" stroke="#222222" font-weight="bold" textLength="6.8" lengthAdjust="spacingAndGlyphs">FP</text>
<polyline points="443.27,499.78 510.87,447.13" fill="none" stroke="#1a1a1a" stroke-width="0.9"/>
<polyline points="443.27,499.78 443.27,497.56 443.51,497.56 443.51,495.33 443.74,495.33 443.74,493.10 443.98,493.10 443.98,491.32 444.69,491.32 444.69,489.54 445.40,489.54 447.54,489.54 447.54,486.69 448.25,486.69 448.25,484.56 449.67,484.56 449.67,482.42 450.38,482.42 452.52,482.42 452.52,481.00 453.23,481.00 453.23,479.58 454.65,479.58 454.65,476.73 455.37,476.73 455.37,475.31 456.08,475.31 456.08,473.88 456.79,473.88 456.79,471.75 457.50,471.75 457.50,471.04 459.63,471.04 459.63,468.90 461.06,468.90 461.06,466.77 462.48,466.77 462.48,465.35 464.62,465.35 464.62,463.92 465.33,463.92 465.33,462.50 466.04,462.50 466.04,461.79 467.46,461.79 471.73,461.79 471.73,461.08 472.44,461.08 472.44,459.65 473.87,459.65 476.71,459.65 476.71,458.23 477.42,458.23 484.54,458.23 484.54,456.81 484.54,456.57 486.20,456.57 486.20,456.33 487.86,456.33 487.86,456.10 489.52,456.10 489.52,453.96 490.23,453.96 492.37,453.96 492.37,452.18 493.08,452.18 493.08,450.40 493.79,450.40 493.79,448.98 495.21,448.98 495.21,448.75 497.17,448.75 497.17,448.52 499.13,448.52 499.13,448.29 501.08,448.29 501.08,448.06 503.04,448.06 503.04,447.82 505.00,447.82 505.00,447.59 506.95,447.59 506.95,447.36 508.91,447.36 508.91,447.13 510.87,447.13" fill="none" stroke="#3a78a8" stroke-width="0.9"/>
<polyline points="443.27,499.78 443.27,497.51 443.98,497.51 443.98,495.23 444.69,495.23 444.69,493.45 445.05,493.45 445.05,491.67 445.40,491.67 445.40,490.96 446.83,490.96 446.83,488.83 447.54,488.83 447.54,486.69 448.25,486.69 448.25,485.03 448.49,485.03 448.49,483.37 448.72,483.37 448.72,481.71 448.96,481.71 448.96,480.29 450.38,480.29 450.38,478.65 451.10,478.65 451.10,477.02 451.81,477.02 456.08,476.73 456.08,474.60 456.79,474.60 456.79,473.17 458.21,473.17 458.21,472.46 460.35,472.46 460.35,470.33 461.77,470.33 461.77,467.48 462.48,467.48 462.48,465.35 463.90,465.35 463.90,463.92 465.33,463.92 465.33,462.22 467.46,462.22 472.44,461.79 472.44,458.94 473.15,458.94 473.15,458.23 476.00,458.23 476.00,456.81 477.07,456.81 477.07,455.38 478.13,455.38 478.13,453.61 479.20,453.61 479.20,451.83 480.27,451.83 480.27,451.65 482.05,451.65 482.05,451.47 483.83,451.47 483.83,451.29 485.61,451.29 485.61,451.12 487.38,451.12 487.38,450.40 490.23,450.40 490.23,449.41 491.65,449.41 494.50,449.41 494.50,447.98 495.92,447.98 495.92,447.88 497.79,447.88 497.79,447.77 499.66,447.77 499.66,447.66 501.53,447.66 501.53,447.56 503.39,447.56 503.39,447.45 505.26,447.45 505.26,447.34 507.13,447.34 507.13,447.24 509.00,447.24 509.00,447.13 510.87,447.13" fill="none" stroke="#d8405c" stroke-width="0.9"/>
<text x="450.00" y="441.5" font-size="7.6" stroke="#222" textLength="46.3" lengthAdjust="spacingAndGlyphs">miR-1304-3p</text>
<line x1="500.30" y1="442.00" x2="500.30" y2="435.60" stroke="#333" stroke-width="0.75"/>
<path d="M499.00,436.8 L500.30,434.0 L501.60,436.8 Z" stroke="none" stroke-width="1" fill="#333"/>
<line x1="447.40" y1="532.10" x2="452.30" y2="532.10" stroke="#d8405c" stroke-width="0.9"/>
<text x="455.70" y="534.12" font-size="5.6" stroke="#222222" textLength="51" lengthAdjust="spacingAndGlyphs">TARGET AUC 0.74</text>
<line x1="447.40" y1="541.60" x2="452.30" y2="541.60" stroke="#3a78a8" stroke-width="0.9"/>
<text x="455.70" y="543.62" font-size="5.6" stroke="#222222">Japan</text>
<text x="480.70" y="543.62" font-size="5.6" stroke="#222222" textLength="26" lengthAdjust="spacingAndGlyphs">AUC 0.71</text>
<line x1="228.50" y1="555.80" x2="228.50" y2="611.00" stroke="#1a1a1a" stroke-width="1"/>
<line x1="228.00" y1="610.50" x2="297.80" y2="610.50" stroke="#1a1a1a" stroke-width="1"/>
<line x1="225.90" y1="609.10" x2="228.50" y2="609.10" stroke="#1a1a1a" stroke-width="0.8"/>
<text x="222.90" y="611.08" font-size="5.5" text-anchor="end" stroke="#222222">0.0</text>
<line x1="230.50" y1="610.50" x2="230.50" y2="612.90" stroke="#1a1a1a" stroke-width="0.8"/>
<text x="230.50" y="621.68" font-size="5.5" text-anchor="middle" stroke="#222222">0.0</text>
<line x1="225.90" y1="598.80" x2="228.50" y2="598.80" stroke="#1a1a1a" stroke-width="0.8"/>
<text x="222.90" y="600.78" font-size="5.5" text-anchor="end" stroke="#222222">0.2</text>
<line x1="243.72" y1="610.50" x2="243.72" y2="612.90" stroke="#1a1a1a" stroke-width="0.8"/>
<text x="243.72" y="621.68" font-size="5.5" text-anchor="middle" stroke="#222222">0.2</text>
<line x1="225.90" y1="588.50" x2="228.50" y2="588.50" stroke="#1a1a1a" stroke-width="0.8"/>
<text x="222.90" y="590.48" font-size="5.5" text-anchor="end" stroke="#222222">0.4</text>
<line x1="256.94" y1="610.50" x2="256.94" y2="612.90" stroke="#1a1a1a" stroke-width="0.8"/>
<text x="256.94" y="621.68" font-size="5.5" text-anchor="middle" stroke="#222222">0.4</text>
<line x1="225.90" y1="578.20" x2="228.50" y2="578.20" stroke="#1a1a1a" stroke-width="0.8"/>
<text x="222.90" y="580.18" font-size="5.5" text-anchor="end" stroke="#222222">0.6</text>
<line x1="270.16" y1="610.50" x2="270.16" y2="612.90" stroke="#1a1a1a" stroke-width="0.8"/>
<text x="270.16" y="621.68" font-size="5.5" text-anchor="middle" stroke="#222222">0.6</text>
<line x1="225.90" y1="567.90" x2="228.50" y2="567.90" stroke="#1a1a1a" stroke-width="0.8"/>
<text x="222.90" y="569.88" font-size="5.5" text-anchor="end" stroke="#222222">0.8</text>
<line x1="283.38" y1="610.50" x2="283.38" y2="612.90" stroke="#1a1a1a" stroke-width="0.8"/>
<text x="283.38" y="621.68" font-size="5.5" text-anchor="middle" stroke="#222222">0.8</text>
<line x1="225.90" y1="557.60" x2="228.50" y2="557.60" stroke="#1a1a1a" stroke-width="0.8"/>
<text x="222.90" y="559.58" font-size="5.5" text-anchor="end" stroke="#222222">1.0</text>
<line x1="296.60" y1="610.50" x2="296.60" y2="612.90" stroke="#1a1a1a" stroke-width="0.8"/>
<text x="296.60" y="621.68" font-size="5.5" text-anchor="middle" stroke="#222222">1.0</text>
<text x="205.80" y="585.97" font-size="8.1" text-anchor="middle" stroke="#222222" font-weight="bold" textLength="6.0" lengthAdjust="spacingAndGlyphs" transform="rotate(-90 205.80 583.05)">TP</text>
<text x="265.55" y="633.05" font-size="8.2" text-anchor="middle" stroke="#222222" font-weight="bold" textLength="6.8" lengthAdjust="spacingAndGlyphs">FP</text>
<polyline points="230.27,609.21 297.87,556.56" fill="none" stroke="#1a1a1a" stroke-width="0.9"/>
<polyline points="230.27,609.21 230.27,607.08 230.74,607.08 230.74,604.94 231.22,604.94 231.22,602.81 231.69,602.81 231.69,600.91 231.93,600.91 231.93,599.01 232.17,599.01 232.17,597.12 232.40,597.12 232.40,595.34 232.58,595.34 232.58,593.56 232.76,593.56 232.76,591.78 232.94,591.78 232.94,590.00 233.12,590.00 233.12,588.10 233.35,588.10 233.35,586.21 233.59,586.21 233.59,584.31 233.83,584.31 233.83,582.88 235.25,582.88 235.68,578.62 249.48,578.62 249.48,577.19 250.19,577.19 250.19,575.27 250.33,575.27 250.33,573.35 250.48,573.35 250.48,571.43 250.62,571.43 250.62,569.51 250.76,569.51 250.76,567.59 250.90,567.59 250.90,565.67 251.05,565.67 251.05,563.74 251.19,563.74 251.19,561.82 251.33,561.82 251.33,559.90 251.47,559.90 251.47,557.98 251.62,557.98 271.54,557.98 271.54,557.27 271.54,557.21 273.56,557.21 273.56,557.16 275.59,557.16 275.59,557.11 277.61,557.11 277.61,557.05 279.64,557.05 279.64,557.00 281.66,557.00 281.66,556.94 283.69,556.94 283.69,556.89 285.71,556.89 285.71,556.83 287.74,556.83 287.74,556.78 289.77,556.78 289.77,556.72 291.79,556.72 291.79,556.67 293.82,556.67 293.82,556.61 295.84,556.61 295.84,556.56 297.87,556.56" fill="none" stroke="#3a78a8" stroke-width="0.9"/>
<polyline points="230.27,609.21 230.27,607.43 230.98,607.43 230.98,605.65 231.69,605.65 231.69,603.52 231.87,603.52 231.87,601.38 232.05,601.38 232.05,599.25 232.23,599.25 232.23,597.12 232.40,597.12 232.40,595.69 233.83,595.69 233.83,593.91 234.00,593.91 234.00,592.13 234.18,592.13 234.18,590.36 234.36,590.36 234.36,588.58 234.54,588.58 234.54,586.68 235.01,586.68 235.01,584.78 235.49,584.78 235.49,582.88 235.96,582.88 235.96,580.75 237.38,580.75 237.38,579.68 238.81,579.68 238.81,578.62 240.23,578.62 240.23,577.19 241.65,577.19 241.65,575.29 242.37,575.29 242.37,573.40 243.08,573.40 243.08,571.50 243.79,571.50 243.79,569.72 244.86,569.72 244.86,567.94 245.92,567.94 245.92,566.88 246.99,566.88 246.99,565.81 248.06,565.81 248.06,565.10 248.77,565.10 257.31,565.10 257.31,563.32 258.02,563.32 258.02,561.54 258.73,561.54 258.73,561.45 260.78,561.45 260.78,561.36 262.82,561.36 262.82,561.27 264.87,561.27 264.87,561.18 266.91,561.18 266.91,561.09 268.96,561.09 268.96,561.00 271.00,561.00 271.00,560.92 273.05,560.92 273.05,560.83 275.10,560.83 275.10,557.98 275.10,557.85 277.17,557.85 277.17,557.72 279.24,557.72 279.24,557.59 281.31,557.59 281.31,557.46 283.38,557.46 283.38,557.33 285.45,557.33 285.45,557.20 287.52,557.20 287.52,557.08 289.59,557.08 289.59,556.95 291.66,556.95 291.66,556.82 293.73,556.82 293.73,556.69 295.80,556.69 295.80,556.56 297.87,556.56" fill="none" stroke="#d8405c" stroke-width="0.9"/>
<line x1="236.30" y1="641.10" x2="241.20" y2="641.10" stroke="#d8405c" stroke-width="0.9"/>
<text x="244.60" y="643.12" font-size="5.6" stroke="#222222" textLength="51" lengthAdjust="spacingAndGlyphs">TARGET AUC 0.83</text>
<line x1="236.30" y1="650.60" x2="241.20" y2="650.60" stroke="#3a78a8" stroke-width="0.9"/>
<text x="244.60" y="652.62" font-size="5.6" stroke="#222222">Japan</text>
<text x="269.60" y="652.62" font-size="5.6" stroke="#222222" textLength="26" lengthAdjust="spacingAndGlyphs">AUC 0.84</text>
<line x1="335.50" y1="555.80" x2="335.50" y2="611.00" stroke="#1a1a1a" stroke-width="1"/>
<line x1="335.00" y1="610.50" x2="403.80" y2="610.50" stroke="#1a1a1a" stroke-width="1"/>
<line x1="332.90" y1="609.10" x2="335.50" y2="609.10" stroke="#1a1a1a" stroke-width="0.8"/>
<text x="329.90" y="611.08" font-size="5.5" text-anchor="end" stroke="#222222">0.0</text>
<line x1="338.20" y1="610.50" x2="338.20" y2="612.90" stroke="#1a1a1a" stroke-width="0.8"/>
<text x="338.20" y="621.68" font-size="5.5" text-anchor="middle" stroke="#222222">0.0</text>
<line x1="332.90" y1="598.80" x2="335.50" y2="598.80" stroke="#1a1a1a" stroke-width="0.8"/>
<text x="329.90" y="600.78" font-size="5.5" text-anchor="end" stroke="#222222">0.2</text>
<line x1="351.08" y1="610.50" x2="351.08" y2="612.90" stroke="#1a1a1a" stroke-width="0.8"/>
<text x="351.08" y="621.68" font-size="5.5" text-anchor="middle" stroke="#222222">0.2</text>
<line x1="332.90" y1="588.50" x2="335.50" y2="588.50" stroke="#1a1a1a" stroke-width="0.8"/>
<text x="329.90" y="590.48" font-size="5.5" text-anchor="end" stroke="#222222">0.4</text>
<line x1="363.96" y1="610.50" x2="363.96" y2="612.90" stroke="#1a1a1a" stroke-width="0.8"/>
<text x="363.96" y="621.68" font-size="5.5" text-anchor="middle" stroke="#222222">0.4</text>
<line x1="332.90" y1="578.20" x2="335.50" y2="578.20" stroke="#1a1a1a" stroke-width="0.8"/>
<text x="329.90" y="580.18" font-size="5.5" text-anchor="end" stroke="#222222">0.6</text>
<line x1="376.84" y1="610.50" x2="376.84" y2="612.90" stroke="#1a1a1a" stroke-width="0.8"/>
<text x="376.84" y="621.68" font-size="5.5" text-anchor="middle" stroke="#222222">0.6</text>
<line x1="332.90" y1="567.90" x2="335.50" y2="567.90" stroke="#1a1a1a" stroke-width="0.8"/>
<text x="329.90" y="569.88" font-size="5.5" text-anchor="end" stroke="#222222">0.8</text>
<line x1="389.72" y1="610.50" x2="389.72" y2="612.90" stroke="#1a1a1a" stroke-width="0.8"/>
<text x="389.72" y="621.68" font-size="5.5" text-anchor="middle" stroke="#222222">0.8</text>
<line x1="332.90" y1="557.60" x2="335.50" y2="557.60" stroke="#1a1a1a" stroke-width="0.8"/>
<text x="329.90" y="559.58" font-size="5.5" text-anchor="end" stroke="#222222">1.0</text>
<line x1="402.60" y1="610.50" x2="402.60" y2="612.90" stroke="#1a1a1a" stroke-width="0.8"/>
<text x="402.60" y="621.68" font-size="5.5" text-anchor="middle" stroke="#222222">1.0</text>
<text x="312.80" y="585.97" font-size="8.1" text-anchor="middle" stroke="#222222" font-weight="bold" textLength="6.0" lengthAdjust="spacingAndGlyphs" transform="rotate(-90 312.80 583.05)">TP</text>
<text x="370.40" y="633.05" font-size="8.2" text-anchor="middle" stroke="#222222" font-weight="bold" textLength="6.8" lengthAdjust="spacingAndGlyphs">FP</text>
<polyline points="337.27,608.78 404.15,556.56" fill="none" stroke="#1a1a1a" stroke-width="0.9"/>
<polyline points="337.27,608.78 337.27,606.56 337.65,606.56 337.65,604.33 338.03,604.33 338.03,602.10 338.41,602.10 340.12,602.10 340.12,578.62 342.25,578.62 342.25,572.21 353.63,572.21 353.63,570.31 353.87,570.31 353.87,568.42 354.11,568.42 354.11,566.52 354.35,566.52 359.33,566.52 359.33,565.10 360.39,565.10 360.39,563.67 361.46,563.67 361.46,561.54 361.82,561.54 361.82,559.40 362.17,559.40 362.17,558.69 364.31,558.69 364.31,558.34 366.44,558.34 366.44,557.98 368.58,557.98 368.58,557.63 370.71,557.63 370.71,557.27 372.85,557.27 372.85,557.22 374.80,557.22 374.80,557.18 376.76,557.18 376.76,557.14 378.72,557.14 378.72,557.09 380.67,557.09 380.67,557.05 382.63,557.05 382.63,557.00 384.59,557.00 384.59,556.96 386.54,556.96 386.54,556.91 388.50,556.91 388.50,556.87 390.46,556.87 390.46,556.82 392.41,556.82 392.41,556.78 394.37,556.78 394.37,556.74 396.33,556.74 396.33,556.69 398.28,556.69 398.28,556.65 400.24,556.65 400.24,556.60 402.20,556.60 402.20,556.56 404.15,556.56" fill="none" stroke="#3a78a8" stroke-width="0.9"/>
<polyline points="337.27,608.78 337.27,607.58 338.34,607.58 338.34,606.37 339.40,606.37 339.40,604.94 341.54,604.94 341.54,603.88 342.96,603.88 342.96,602.81 344.38,602.81 344.38,600.67 345.45,600.67 345.45,598.54 346.52,598.54 346.52,596.64 346.99,596.64 346.99,594.74 347.47,594.74 347.47,592.85 347.94,592.85 347.94,590.71 348.30,590.71 348.30,588.58 348.65,588.58 348.65,586.44 349.01,586.44 349.01,584.31 349.37,584.31 349.37,582.88 350.79,582.88 350.79,581.46 351.50,581.46 351.50,580.04 352.21,580.04 352.21,578.62 353.63,578.62 353.63,577.19 354.70,577.19 354.70,575.77 355.77,575.77 355.77,573.63 356.84,573.63 356.84,571.50 357.90,571.50 357.90,569.37 358.26,569.37 358.26,567.23 358.62,567.23 358.62,566.52 360.04,566.52 360.04,565.81 361.46,565.81 361.46,563.67 362.17,563.67 362.17,562.96 363.60,562.96 363.60,563.67 366.44,563.67 366.44,561.54 366.80,561.54 366.80,559.40 367.15,559.40 367.15,559.17 369.05,559.17 369.05,558.93 370.95,558.93 370.95,558.69 372.85,558.69 372.85,558.93 374.74,558.93 374.74,559.17 376.64,559.17 376.64,559.40 378.54,559.40 378.54,557.98 378.54,557.87 380.51,557.87 380.51,557.76 382.48,557.76 382.48,557.65 384.45,557.65 384.45,557.54 386.42,557.54 386.42,557.43 388.39,557.43 388.39,557.32 390.36,557.32 390.36,557.21 392.33,557.21 392.33,557.11 394.30,557.11 394.30,557.00 396.27,557.00 396.27,556.89 398.24,556.89 398.24,556.78 400.21,556.78 400.21,556.67 402.18,556.67 402.18,556.56 404.15,556.56" fill="none" stroke="#d8405c" stroke-width="0.9"/>
<line x1="340.60" y1="641.10" x2="345.50" y2="641.10" stroke="#d8405c" stroke-width="0.9"/>
<text x="348.90" y="643.12" font-size="5.6" stroke="#222222" textLength="51" lengthAdjust="spacingAndGlyphs">TARGET AUC 0.76</text>
<line x1="340.60" y1="650.60" x2="345.50" y2="650.60" stroke="#3a78a8" stroke-width="0.9"/>
<text x="348.90" y="652.62" font-size="5.6" stroke="#222222">Japan</text>
<text x="373.90" y="652.62" font-size="5.6" stroke="#222222" textLength="26" lengthAdjust="spacingAndGlyphs">AUC 0.88</text>
<line x1="441.50" y1="555.80" x2="441.50" y2="611.00" stroke="#1a1a1a" stroke-width="1"/>
<line x1="441.00" y1="610.50" x2="510.80" y2="610.50" stroke="#1a1a1a" stroke-width="1"/>
<line x1="438.90" y1="609.10" x2="441.50" y2="609.10" stroke="#1a1a1a" stroke-width="0.8"/>
<text x="435.90" y="611.08" font-size="5.5" text-anchor="end" stroke="#222222">0.0</text>
<line x1="443.90" y1="610.50" x2="443.90" y2="612.90" stroke="#1a1a1a" stroke-width="0.8"/>
<text x="443.90" y="621.68" font-size="5.5" text-anchor="middle" stroke="#222222">0.0</text>
<line x1="438.90" y1="598.80" x2="441.50" y2="598.80" stroke="#1a1a1a" stroke-width="0.8"/>
<text x="435.90" y="600.78" font-size="5.5" text-anchor="end" stroke="#222222">0.2</text>
<line x1="457.04" y1="610.50" x2="457.04" y2="612.90" stroke="#1a1a1a" stroke-width="0.8"/>
<text x="457.04" y="621.68" font-size="5.5" text-anchor="middle" stroke="#222222">0.2</text>
<line x1="438.90" y1="588.50" x2="441.50" y2="588.50" stroke="#1a1a1a" stroke-width="0.8"/>
<text x="435.90" y="590.48" font-size="5.5" text-anchor="end" stroke="#222222">0.4</text>
<line x1="470.18" y1="610.50" x2="470.18" y2="612.90" stroke="#1a1a1a" stroke-width="0.8"/>
<text x="470.18" y="621.68" font-size="5.5" text-anchor="middle" stroke="#222222">0.4</text>
<line x1="438.90" y1="578.20" x2="441.50" y2="578.20" stroke="#1a1a1a" stroke-width="0.8"/>
<text x="435.90" y="580.18" font-size="5.5" text-anchor="end" stroke="#222222">0.6</text>
<line x1="483.32" y1="610.50" x2="483.32" y2="612.90" stroke="#1a1a1a" stroke-width="0.8"/>
<text x="483.32" y="621.68" font-size="5.5" text-anchor="middle" stroke="#222222">0.6</text>
<line x1="438.90" y1="567.90" x2="441.50" y2="567.90" stroke="#1a1a1a" stroke-width="0.8"/>
<text x="435.90" y="569.88" font-size="5.5" text-anchor="end" stroke="#222222">0.8</text>
<line x1="496.46" y1="610.50" x2="496.46" y2="612.90" stroke="#1a1a1a" stroke-width="0.8"/>
<text x="496.46" y="621.68" font-size="5.5" text-anchor="middle" stroke="#222222">0.8</text>
<line x1="438.90" y1="557.60" x2="441.50" y2="557.60" stroke="#1a1a1a" stroke-width="0.8"/>
<text x="435.90" y="559.58" font-size="5.5" text-anchor="end" stroke="#222222">1.0</text>
<line x1="509.60" y1="610.50" x2="509.60" y2="612.90" stroke="#1a1a1a" stroke-width="0.8"/>
<text x="509.60" y="621.68" font-size="5.5" text-anchor="middle" stroke="#222222">1.0</text>
<text x="418.80" y="585.97" font-size="8.1" text-anchor="middle" stroke="#222222" font-weight="bold" textLength="6.0" lengthAdjust="spacingAndGlyphs" transform="rotate(-90 418.80 583.05)">TP</text>
<text x="476.75" y="633.05" font-size="8.2" text-anchor="middle" stroke="#222222" font-weight="bold" textLength="6.8" lengthAdjust="spacingAndGlyphs">FP</text>
<polyline points="443.27,608.78 510.87,556.56" fill="none" stroke="#1a1a1a" stroke-width="0.9"/>
<polyline points="443.27,608.78 443.27,606.93 443.63,606.93 443.63,605.08 443.98,605.08 443.98,603.23 444.34,603.23 444.34,601.38 444.69,601.38 444.69,599.49 444.93,599.49 444.93,597.59 445.17,597.59 445.17,595.69 445.40,595.69 445.40,593.89 445.64,593.89 445.64,592.09 445.88,592.09 445.88,590.28 446.12,590.28 451.10,590.28 451.10,591.42 451.10,590.00 452.88,590.00 452.88,588.58 454.65,588.58 454.65,587.87 455.37,587.87 459.63,587.87 459.63,585.97 459.87,585.97 459.87,584.07 460.11,584.07 460.11,582.17 460.35,582.17 463.19,582.17 463.19,580.39 463.55,580.39 463.55,578.62 463.90,578.62 463.90,576.84 464.26,576.84 464.26,575.06 464.62,575.06 464.62,573.40 464.85,573.40 464.85,571.74 465.09,571.74 465.09,570.08 465.33,570.08 465.33,567.23 466.04,567.23 469.60,567.23 469.60,564.38 469.60,563.67 471.02,563.67 471.02,563.62 473.04,563.62 473.04,563.56 475.07,563.56 475.07,563.51 477.09,563.51 477.09,563.45 479.12,563.45 479.12,563.40 481.15,563.40 481.15,563.34 483.17,563.34 483.17,563.29 485.20,563.29 485.20,563.24 487.22,563.24 487.22,563.18 489.25,563.18 489.25,563.13 491.27,563.13 491.27,563.07 493.30,563.07 493.30,563.02 495.32,563.02 495.32,562.96 497.35,562.96 497.35,561.30 497.58,561.30 497.58,559.64 497.82,559.64 497.82,557.98 498.06,557.98 498.06,557.74 500.19,557.74 500.19,557.51 502.33,557.51 502.33,557.27 504.46,557.27 504.46,557.03 506.60,557.03 506.60,556.79 508.73,556.79 508.73,556.56 510.87,556.56" fill="none" stroke="#3a78a8" stroke-width="0.9"/>
<polyline points="443.27,608.78 443.27,607.22 444.69,607.22 444.69,605.65 446.12,605.65 446.12,603.52 446.47,603.52 446.47,601.38 446.83,601.38 449.67,601.38 449.67,592.85 449.67,591.78 450.74,591.78 450.74,590.71 451.81,590.71 451.81,589.64 452.88,589.64 452.88,588.58 453.94,588.58 453.94,586.44 454.18,586.44 454.18,584.31 454.42,584.31 454.42,582.17 454.65,582.17 460.35,582.17 460.35,580.39 460.70,580.39 460.70,578.62 461.06,578.62 463.90,578.62 463.90,576.84 464.08,576.84 464.08,575.06 464.26,575.06 464.26,573.28 464.44,573.28 464.44,571.50 464.62,571.50 464.62,569.60 465.09,569.60 465.09,567.71 465.56,567.71 465.56,565.81 466.04,565.81 466.04,565.10 468.88,565.10 468.88,563.67 470.66,563.67 470.66,562.25 472.44,562.25 472.44,560.83 473.15,560.83 473.15,559.40 473.87,559.40 493.08,559.40 493.08,558.69 493.79,558.69 493.79,558.34 495.57,558.34 495.57,557.98 497.35,557.98 497.35,557.27 498.77,557.27 498.77,557.15 500.79,557.15 500.79,557.03 502.80,557.03 502.80,556.91 504.82,556.91 504.82,556.79 506.83,556.79 506.83,556.68 508.85,556.68 508.85,556.56 510.87,556.56" fill="none" stroke="#d8405c" stroke-width="0.9"/>
<line x1="447.40" y1="641.10" x2="452.30" y2="641.10" stroke="#d8405c" stroke-width="0.9"/>
<text x="455.70" y="643.12" font-size="5.6" stroke="#222222" textLength="51" lengthAdjust="spacingAndGlyphs">TARGET AUC 0.77</text>
<line x1="447.40" y1="650.60" x2="452.30" y2="650.60" stroke="#3a78a8" stroke-width="0.9"/>
<text x="455.70" y="652.62" font-size="5.6" stroke="#222222">Japan</text>
<text x="480.70" y="652.62" font-size="5.6" stroke="#222222" textLength="26" lengthAdjust="spacingAndGlyphs">AUC 0.73</text>
<text x="184.20" y="476.10" font-size="7.5" text-anchor="middle" stroke="#222222" textLength="58.3" lengthAdjust="spacingAndGlyphs" transform="rotate(-90 184.20 473.40)">2-year event-free</text>
<text x="194.30" y="476.60" font-size="7.5" text-anchor="middle" stroke="#222222" textLength="25.4" lengthAdjust="spacingAndGlyphs" transform="rotate(-90 194.30 473.90)">survival</text>
<text x="184.00" y="585.60" font-size="7.5" text-anchor="middle" stroke="#222222" textLength="45.8" lengthAdjust="spacingAndGlyphs" transform="rotate(-90 184.00 582.90)">2-year overall</text>
<text x="194.40" y="585.80" font-size="7.5" text-anchor="middle" stroke="#222222" textLength="25.4" lengthAdjust="spacingAndGlyphs" transform="rotate(-90 194.40 583.10)">survival</text>
<g transform="translate(216.0 53.0) scale(2.04058 1.60385)" shape-rendering="crispEdges" filter="url(#hb)">
<path fill="#706ec6" d="M41 0h1v1h-1zM44 1h1v1h-1zM38 7h1v1h-1zM44 7h1v1h-1zM49 7h1v1h-1zM41 8h1v1h-1zM40 16h1v1h-1zM44 18h1v1h-1zM44 23h1v1h-1zM55 24h1v1h-1zM36 25h1v1h-1zM44 25h1v1h-1zM41 30h1v1h-1zM47 30h1v1h-1zM49 31h1v1h-1zM41 34h1v1h-1zM44 34h1v1h-1zM36 36h1v1h-1zM40 36h1v1h-1zM49 36h1v1h-1zM55 36h1v1h-1zM2 39h1v1h-1zM26 41h1v1h-1zM44 43h1v1h-1zM0 45h1v1h-1zM49 45h1v1h-1zM6 46h1v1h-1zM8 46h1v1h-1zM15 46h1v1h-1zM23 46h1v1h-1zM35 46h1v1h-1zM51 46h1v1h-1zM53 46h1v1h-1zM3 47h1v1h-1zM15 47h1v1h-1zM25 47h1v1h-1zM39 47h1v1h-1zM44 47h1v1h-1zM49 47h1v1h-1zM36 50h1v1h-1zM38 50h1v1h-1zM62 58h1v1h-1zM49 64h1v1h-1zM19 66h1v1h-1zM23 66h1v1h-1zM26 66h1v1h-1zM40 66h1v1h-1zM15 70h1v1h-1zM12 72h1v1h-1zM19 72h1v1h-1zM34 72h1v1h-1zM43 72h1v1h-1zM18 84h1v1h-1zM24 84h1v1h-1zM38 84h1v1h-1zM44 84h1v1h-1zM49 84h1v1h-1zM20 85h1v1h-1zM13 86h1v1h-1zM25 87h2v1h-2zM29 90h1v1h-1zM10 91h1v1h-1zM15 92h1v1h-1zM23 94h1v1h-1zM9 96h1v1h-1zM40 100h1v1h-1zM25 101h1v1h-1zM3 102h1v1h-1zM19 102h1v1h-1zM23 102h1v1h-1zM40 102h1v1h-1zM5 103h1v1h-1zM12 103h1v1h-1zM18 103h1v1h-1zM2 104h1v1h-1zM18 104h1v1h-1zM20 104h1v1h-1zM26 104h1v1h-1zM6 105h1v1h-1zM23 105h1v1h-1zM10 106h1v1h-1zM15 106h1v1h-1zM23 106h1v1h-1zM2 107h4v1h-4zM14 107h2v1h-2zM19 107h1v1h-1zM26 107h1v1h-1zM23 108h1v1h-1zM0 109h1v1h-1zM9 109h1v1h-1zM40 112h1v1h-1zM14 113h1v1h-1zM40 113h1v1h-1zM19 116h1v1h-1zM40 116h1v1h-1zM40 117h1v1h-1zM20 120h1v1h-1zM4 121h1v1h-1zM40 121h1v1h-1zM63 122h1v1h-1zM22 123h1v1h-1zM40 123h1v1h-1zM26 127h1v1h-1zM1 128h1v1h-1zM67 128h1v1h-1z"/>
<path fill="#7c7acb" d="M33 7h3v1h-3zM34 8h1v1h-1zM48 8h1v1h-1zM41 10h1v1h-1zM43 15h1v1h-1zM46 20h1v1h-1zM49 22h1v1h-1zM49 23h1v1h-1zM39 24h1v1h-1zM41 24h1v1h-1zM43 25h1v1h-1zM49 26h1v1h-1zM39 28h1v1h-1zM44 28h1v1h-1zM44 30h1v1h-1zM49 30h1v1h-1zM57 30h1v1h-1zM65 30h1v1h-1zM40 31h1v1h-1zM9 36h1v1h-1zM35 36h1v1h-1zM41 36h1v1h-1zM26 38h1v1h-1zM47 39h1v1h-1zM14 41h1v1h-1zM16 42h1v1h-1zM23 42h1v1h-1zM40 42h1v1h-1zM1 45h1v1h-1zM5 45h1v1h-1zM8 45h1v1h-1zM43 45h1v1h-1zM2 46h1v1h-1zM40 46h1v1h-1zM0 47h1v1h-1zM40 47h1v1h-1zM47 47h1v1h-1zM44 55h1v1h-1zM1 58h1v1h-1zM45 58h1v1h-1zM65 63h1v1h-1zM34 66h1v1h-1zM43 68h1v1h-1zM25 72h1v1h-1zM30 72h1v1h-1zM29 73h1v1h-1zM15 74h1v1h-1zM37 82h1v1h-1zM22 84h1v1h-1zM25 84h1v1h-1zM16 85h1v1h-1zM12 87h1v1h-1zM15 87h1v1h-1zM23 87h1v1h-1zM16 92h1v1h-1zM15 94h1v1h-1zM12 96h1v1h-1zM31 97h1v1h-1zM9 100h1v1h-1zM15 100h1v1h-1zM26 100h1v1h-1zM17 101h1v1h-1zM14 103h1v1h-1zM19 103h1v1h-1zM9 104h1v1h-1zM5 105h1v1h-1zM4 106h1v1h-1zM18 106h1v1h-1zM24 106h1v1h-1zM26 106h1v1h-1zM8 108h2v1h-2zM13 108h1v1h-1zM14 109h1v1h-1zM23 109h1v1h-1zM40 109h1v1h-1zM62 112h2v1h-2zM67 112h1v1h-1zM2 118h1v1h-1zM40 119h1v1h-1zM26 120h1v1h-1zM7 123h1v1h-1zM0 125h1v1h-1zM0 128h1v1h-1zM40 128h1v1h-1zM20 129h1v1h-1zM26 129h1v1h-1z"/>
<path fill="#8986d0" d="M44 2h1v1h-1zM43 5h1v1h-1zM29 8h2v1h-2zM43 8h1v1h-1zM43 13h1v1h-1zM45 13h1v1h-1zM2 16h1v1h-1zM32 16h1v1h-1zM41 16h3v1h-3zM48 16h1v1h-1zM49 18h1v1h-1zM38 20h1v1h-1zM29 23h1v1h-1zM34 23h1v1h-1zM38 23h1v1h-1zM41 23h1v1h-1zM44 24h1v1h-1zM38 25h1v1h-1zM40 25h1v1h-1zM49 27h1v1h-1zM38 30h1v1h-1zM50 30h1v1h-1zM52 30h1v1h-1zM40 39h1v1h-1zM3 40h1v1h-1zM10 40h1v1h-1zM15 40h1v1h-1zM17 40h1v1h-1zM23 40h2v1h-2zM26 40h1v1h-1zM0 41h1v1h-1zM25 42h1v1h-1zM3 43h1v1h-1zM35 45h1v1h-1zM55 45h1v1h-1zM3 46h1v1h-1zM7 46h1v1h-1zM10 46h1v1h-1zM16 46h1v1h-1zM25 46h1v1h-1zM38 46h1v1h-1zM42 46h2v1h-2zM45 46h1v1h-1zM48 46h1v1h-1zM6 47h1v1h-1zM10 47h2v1h-2zM14 47h1v1h-1zM16 47h1v1h-1zM21 47h1v1h-1zM35 47h1v1h-1zM57 47h1v1h-1zM40 50h1v1h-1zM44 51h1v1h-1zM35 53h1v1h-1zM49 53h1v1h-1zM44 59h1v1h-1zM49 59h1v1h-1zM63 59h1v1h-1zM35 62h1v1h-1zM44 63h1v1h-1zM61 63h1v1h-1zM44 64h1v1h-1zM59 64h1v1h-1zM62 64h1v1h-1zM10 65h1v1h-1zM13 66h1v1h-1zM54 66h1v1h-1zM42 67h1v1h-1zM14 69h1v1h-1zM45 69h1v1h-1zM36 72h1v1h-1zM38 72h1v1h-1zM38 82h1v1h-1zM18 83h1v1h-1zM30 84h1v1h-1zM3 85h1v1h-1zM54 85h1v1h-1zM67 85h1v1h-1zM3 86h1v1h-1zM6 86h1v1h-1zM11 86h1v1h-1zM25 86h1v1h-1zM15 91h2v1h-2zM8 92h1v1h-1zM10 93h1v1h-1zM26 96h2v1h-2zM31 96h1v1h-1zM42 96h1v1h-1zM9 98h1v1h-1zM0 100h1v1h-1zM17 100h1v1h-1zM1 101h1v1h-1zM6 101h1v1h-1zM12 101h1v1h-1zM16 102h2v1h-2zM21 102h1v1h-1zM2 103h1v1h-1zM10 103h1v1h-1zM23 103h1v1h-1zM11 104h1v1h-1zM23 104h1v1h-1zM11 106h1v1h-1zM14 106h1v1h-1zM58 106h1v1h-1zM63 106h1v1h-1zM1 107h1v1h-1zM17 107h1v1h-1zM21 107h1v1h-1zM62 107h1v1h-1zM3 108h1v1h-1zM10 108h1v1h-1zM11 109h1v1h-1zM20 112h1v1h-1zM26 112h1v1h-1zM67 114h1v1h-1zM58 117h1v1h-1zM2 119h1v1h-1zM6 120h1v1h-1zM63 120h1v1h-1zM0 121h1v1h-1zM6 121h1v1h-1zM9 121h1v1h-1zM27 121h1v1h-1zM59 121h2v1h-2zM62 121h1v1h-1zM67 121h2v1h-2zM3 122h1v1h-1zM3 124h1v1h-1zM1 125h2v1h-2zM6 125h1v1h-1zM60 125h1v1h-1zM10 126h1v1h-1zM6 127h1v1h-1zM30 127h1v1h-1zM3 128h1v1h-1zM23 129h1v1h-1z"/>
<path fill="#9592d6" d="M34 0h1v1h-1zM34 2h1v1h-1zM49 2h1v1h-1zM44 3h1v1h-1zM29 5h1v1h-1zM37 5h1v1h-1zM47 6h1v1h-1zM51 7h1v1h-1zM42 9h1v1h-1zM42 11h1v1h-1zM49 12h1v1h-1zM35 13h1v1h-1zM33 14h1v1h-1zM41 14h1v1h-1zM45 14h1v1h-1zM48 14h1v1h-1zM41 15h1v1h-1zM45 15h1v1h-1zM36 16h1v1h-1zM47 16h1v1h-1zM34 18h1v1h-1zM41 18h1v1h-1zM45 18h1v1h-1zM40 20h1v1h-1zM44 20h1v1h-1zM49 20h1v1h-1zM40 22h1v1h-1zM42 22h2v1h-2zM67 23h1v1h-1zM33 24h1v1h-1zM38 24h1v1h-1zM45 24h1v1h-1zM52 24h1v1h-1zM41 25h1v1h-1zM45 25h1v1h-1zM35 26h1v1h-1zM40 26h2v1h-2zM44 26h1v1h-1zM32 28h1v1h-1zM38 28h1v1h-1zM41 29h1v1h-1zM44 29h1v1h-1zM36 30h1v1h-1zM67 31h1v1h-1zM49 32h1v1h-1zM38 34h1v1h-1zM25 35h1v1h-1zM6 36h1v1h-1zM44 37h1v1h-1zM46 38h1v1h-1zM0 40h1v1h-1zM3 41h1v1h-1zM6 41h1v1h-1zM10 41h2v1h-2zM15 41h1v1h-1zM9 42h1v1h-1zM5 43h1v1h-1zM40 43h1v1h-1zM49 43h1v1h-1zM24 44h1v1h-1zM6 45h1v1h-1zM52 45h1v1h-1zM4 46h1v1h-1zM14 46h1v1h-1zM5 47h1v1h-1zM7 47h1v1h-1zM12 47h1v1h-1zM22 47h2v1h-2zM38 47h1v1h-1zM42 47h1v1h-1zM46 47h1v1h-1zM48 47h1v1h-1zM43 48h1v1h-1zM51 50h2v1h-2zM40 51h1v1h-1zM45 51h1v1h-1zM47 53h1v1h-1zM41 54h1v1h-1zM38 58h1v1h-1zM51 58h1v1h-1zM3 61h1v1h-1zM20 61h1v1h-1zM40 62h1v1h-1zM64 62h1v1h-1zM68 62h1v1h-1zM40 63h1v1h-1zM58 63h1v1h-1zM5 64h1v1h-1zM41 64h1v1h-1zM48 64h1v1h-1zM50 64h1v1h-1zM64 64h1v1h-1zM67 64h1v1h-1zM18 66h1v1h-1zM38 66h1v1h-1zM42 66h1v1h-1zM44 66h1v1h-1zM49 66h1v1h-1zM52 66h1v1h-1zM12 67h1v1h-1zM18 67h1v1h-1zM22 68h1v1h-1zM43 70h1v1h-1zM41 71h1v1h-1zM11 72h1v1h-1zM13 72h1v1h-1zM16 72h1v1h-1zM22 72h3v1h-3zM40 72h1v1h-1zM44 72h1v1h-1zM52 72h1v1h-1zM25 73h1v1h-1zM40 75h1v1h-1zM10 76h1v1h-1zM49 77h1v1h-1zM16 82h1v1h-1zM23 82h1v1h-1zM49 83h1v1h-1zM12 84h1v1h-1zM14 84h1v1h-1zM29 84h1v1h-1zM1 85h1v1h-1zM15 85h1v1h-1zM28 85h1v1h-1zM8 86h1v1h-1zM15 86h1v1h-1zM20 86h2v1h-2zM63 86h1v1h-1zM67 86h1v1h-1zM19 87h1v1h-1zM8 88h1v1h-1zM20 88h1v1h-1zM17 90h1v1h-1zM26 90h1v1h-1zM63 90h1v1h-1zM8 91h1v1h-1zM40 91h1v1h-1zM19 92h2v1h-2zM13 94h1v1h-1zM20 94h1v1h-1zM29 96h1v1h-1zM12 97h1v1h-1zM29 97h1v1h-1zM29 98h1v1h-1zM29 99h1v1h-1zM22 100h1v1h-1zM0 101h1v1h-1zM3 101h1v1h-1zM23 101h1v1h-1zM40 101h1v1h-1zM65 101h1v1h-1zM5 102h2v1h-2zM18 102h1v1h-1zM26 102h1v1h-1zM29 102h1v1h-1zM1 103h1v1h-1zM20 103h1v1h-1zM25 103h1v1h-1zM40 103h1v1h-1zM68 103h1v1h-1zM3 104h1v1h-1zM15 104h1v1h-1zM3 105h1v1h-1zM12 105h1v1h-1zM24 105h1v1h-1zM0 106h2v1h-2zM5 106h1v1h-1zM8 106h1v1h-1zM13 106h1v1h-1zM17 106h1v1h-1zM31 106h1v1h-1zM0 107h1v1h-1zM16 107h1v1h-1zM40 107h1v1h-1zM64 107h1v1h-1zM6 108h1v1h-1zM16 108h1v1h-1zM22 108h1v1h-1zM17 109h1v1h-1zM20 109h1v1h-1zM23 110h1v1h-1zM64 110h1v1h-1zM60 111h1v1h-1zM6 112h1v1h-1zM9 112h1v1h-1zM23 112h1v1h-1zM26 113h1v1h-1zM62 113h1v1h-1zM5 115h1v1h-1zM6 116h1v1h-1zM0 117h1v1h-1zM16 118h1v1h-1zM67 118h1v1h-1zM40 120h1v1h-1zM53 120h1v1h-1zM66 120h1v1h-1zM2 121h2v1h-2zM25 121h1v1h-1zM6 123h1v1h-1zM68 123h1v1h-1zM0 124h1v1h-1zM2 124h1v1h-1zM25 124h1v1h-1zM65 124h1v1h-1zM20 125h1v1h-1zM40 125h2v1h-2zM63 125h1v1h-1zM68 126h1v1h-1zM19 127h1v1h-1zM60 127h1v1h-1zM20 128h1v1h-1zM26 128h1v1h-1zM2 129h1v1h-1zM25 129h1v1h-1zM67 129h1v1h-1z"/>
<path fill="#a29edb" d="M45 0h1v1h-1zM49 0h1v1h-1zM34 1h1v1h-1zM42 1h1v1h-1zM48 1h1v1h-1zM52 1h1v1h-1zM45 2h1v1h-1zM50 4h1v1h-1zM45 5h1v1h-1zM37 6h1v1h-1zM40 6h1v1h-1zM29 7h1v1h-1zM42 8h1v1h-1zM45 8h1v1h-1zM38 10h1v1h-1zM44 12h1v1h-1zM31 13h1v1h-1zM49 14h1v1h-1zM44 16h1v1h-1zM50 16h1v1h-1zM48 17h1v1h-1zM42 18h1v1h-1zM37 19h1v1h-1zM43 19h1v1h-1zM51 19h1v1h-1zM32 20h1v1h-1zM34 20h1v1h-1zM54 20h1v1h-1zM33 22h1v1h-1zM45 22h1v1h-1zM34 24h1v1h-1zM42 24h1v1h-1zM47 24h1v1h-1zM16 25h1v1h-1zM37 25h1v1h-1zM39 25h1v1h-1zM42 25h1v1h-1zM29 26h1v1h-1zM45 26h1v1h-1zM56 26h1v1h-1zM63 26h1v1h-1zM38 27h1v1h-1zM42 27h2v1h-2zM36 28h1v1h-1zM41 28h1v1h-1zM45 28h2v1h-2zM51 28h1v1h-1zM35 29h1v1h-1zM43 29h1v1h-1zM45 29h1v1h-1zM54 29h1v1h-1zM57 29h1v1h-1zM37 31h1v1h-1zM42 32h1v1h-1zM27 34h1v1h-1zM35 34h1v1h-1zM42 34h1v1h-1zM50 34h1v1h-1zM54 34h1v1h-1zM37 35h2v1h-2zM43 36h1v1h-1zM45 36h1v1h-1zM47 36h2v1h-2zM3 37h1v1h-1zM8 38h1v1h-1zM44 38h1v1h-1zM41 39h1v1h-1zM57 39h1v1h-1zM1 40h1v1h-1zM5 40h2v1h-2zM8 40h1v1h-1zM11 40h1v1h-1zM43 40h1v1h-1zM49 40h1v1h-1zM2 41h1v1h-1zM19 41h2v1h-2zM38 41h1v1h-1zM41 41h1v1h-1zM43 41h1v1h-1zM2 43h1v1h-1zM11 43h1v1h-1zM18 43h1v1h-1zM26 43h1v1h-1zM2 44h1v1h-1zM8 44h1v1h-1zM17 45h1v1h-1zM39 45h1v1h-1zM42 45h1v1h-1zM51 45h1v1h-1zM19 46h2v1h-2zM39 46h1v1h-1zM41 46h1v1h-1zM49 46h1v1h-1zM67 46h1v1h-1zM1 47h1v1h-1zM9 47h1v1h-1zM26 47h1v1h-1zM51 47h1v1h-1zM53 47h1v1h-1zM60 47h1v1h-1zM11 48h1v1h-1zM10 50h1v1h-1zM49 50h1v1h-1zM47 51h1v1h-1zM56 53h1v1h-1zM45 54h1v1h-1zM64 55h1v1h-1zM40 57h1v1h-1zM36 58h2v1h-2zM40 58h1v1h-1zM42 58h1v1h-1zM48 58h1v1h-1zM61 58h1v1h-1zM66 58h1v1h-1zM2 59h1v1h-1zM29 60h1v1h-1zM41 60h1v1h-1zM59 60h1v1h-1zM59 61h1v1h-1zM2 62h1v1h-1zM44 62h2v1h-2zM51 62h1v1h-1zM41 63h1v1h-1zM63 63h1v1h-1zM37 64h1v1h-1zM39 64h1v1h-1zM51 64h1v1h-1zM56 64h1v1h-1zM63 64h1v1h-1zM39 65h1v1h-1zM21 66h1v1h-1zM25 67h1v1h-1zM8 68h1v1h-1zM10 68h2v1h-2zM44 68h1v1h-1zM44 69h1v1h-1zM49 69h1v1h-1zM9 70h1v1h-1zM23 70h1v1h-1zM34 70h1v1h-1zM40 70h1v1h-1zM48 70h1v1h-1zM10 71h1v1h-1zM25 71h1v1h-1zM9 72h1v1h-1zM14 72h1v1h-1zM17 72h1v1h-1zM29 72h1v1h-1zM35 72h1v1h-1zM55 72h1v1h-1zM10 73h1v1h-1zM19 73h3v1h-3zM42 73h1v1h-1zM49 73h1v1h-1zM39 74h1v1h-1zM20 75h1v1h-1zM29 76h1v1h-1zM43 76h1v1h-1zM64 76h1v1h-1zM57 77h1v1h-1zM49 82h1v1h-1zM62 82h1v1h-1zM65 82h1v1h-1zM14 83h1v1h-1zM16 83h1v1h-1zM15 84h2v1h-2zM41 84h2v1h-2zM53 84h1v1h-1zM64 84h1v1h-1zM67 84h1v1h-1zM14 85h1v1h-1zM21 85h1v1h-1zM23 86h1v1h-1zM34 86h1v1h-1zM65 86h1v1h-1zM0 87h1v1h-1zM5 87h1v1h-1zM20 87h2v1h-2zM14 90h1v1h-1zM25 90h1v1h-1zM54 90h1v1h-1zM23 91h2v1h-2zM50 91h1v1h-1zM17 92h1v1h-1zM23 92h1v1h-1zM26 92h1v1h-1zM64 92h1v1h-1zM25 94h1v1h-1zM52 94h1v1h-1zM21 96h1v1h-1zM23 96h1v1h-1zM48 98h1v1h-1zM4 100h1v1h-1zM19 100h1v1h-1zM5 101h1v1h-1zM9 101h2v1h-2zM14 101h2v1h-2zM18 101h3v1h-3zM22 101h1v1h-1zM63 101h1v1h-1zM9 102h2v1h-2zM13 102h3v1h-3zM24 102h1v1h-1zM30 102h1v1h-1zM63 102h1v1h-1zM6 103h1v1h-1zM17 103h1v1h-1zM24 103h1v1h-1zM26 103h1v1h-1zM67 103h1v1h-1zM6 104h1v1h-1zM40 104h1v1h-1zM1 105h1v1h-1zM13 105h1v1h-1zM25 105h1v1h-1zM6 106h2v1h-2zM20 106h2v1h-2zM40 106h1v1h-1zM68 106h1v1h-1zM8 107h1v1h-1zM10 107h1v1h-1zM13 107h1v1h-1zM23 107h1v1h-1zM61 107h1v1h-1zM2 108h1v1h-1zM14 108h1v1h-1zM17 108h1v1h-1zM21 108h1v1h-1zM24 108h1v1h-1zM15 109h1v1h-1zM19 109h1v1h-1zM24 109h1v1h-1zM9 110h1v1h-1zM13 110h1v1h-1zM53 110h1v1h-1zM63 110h1v1h-1zM65 110h1v1h-1zM12 112h1v1h-1zM16 112h1v1h-1zM22 112h1v1h-1zM27 112h1v1h-1zM6 113h1v1h-1zM8 113h1v1h-1zM21 113h1v1h-1zM61 113h1v1h-1zM67 113h1v1h-1zM20 115h1v1h-1zM0 116h1v1h-1zM60 116h1v1h-1zM9 117h1v1h-1zM0 118h1v1h-1zM21 119h1v1h-1zM29 119h1v1h-1zM60 119h1v1h-1zM65 119h1v1h-1zM19 120h1v1h-1zM1 121h1v1h-1zM28 121h1v1h-1zM56 121h1v1h-1zM63 121h1v1h-1zM65 121h2v1h-2zM12 122h1v1h-1zM40 122h1v1h-1zM51 122h1v1h-1zM58 122h1v1h-1zM30 123h1v1h-1zM43 123h1v1h-1zM55 123h1v1h-1zM58 123h1v1h-1zM62 123h1v1h-1zM64 123h1v1h-1zM5 124h1v1h-1zM58 124h1v1h-1zM61 124h1v1h-1zM5 125h1v1h-1zM23 125h1v1h-1zM34 125h1v1h-1zM61 125h1v1h-1zM22 126h1v1h-1zM40 126h1v1h-1zM44 126h1v1h-1zM50 126h1v1h-1zM1 127h1v1h-1zM5 127h1v1h-1zM58 127h1v1h-1zM66 127h1v1h-1zM6 128h1v1h-1zM25 128h1v1h-1zM62 128h1v1h-1zM24 129h1v1h-1zM40 129h1v1h-1zM58 129h1v1h-1z"/>
<path fill="#aeaae0" d="M29 0h2v1h-2zM40 0h1v1h-1zM32 1h1v1h-1zM43 1h1v1h-1zM57 1h1v1h-1zM37 2h1v1h-1zM54 3h1v1h-1zM13 4h1v1h-1zM34 4h2v1h-2zM39 4h1v1h-1zM32 6h1v1h-1zM34 6h1v1h-1zM41 6h1v1h-1zM15 7h1v1h-1zM41 7h1v1h-1zM54 7h1v1h-1zM34 9h1v1h-1zM52 9h1v1h-1zM37 11h1v1h-1zM45 11h1v1h-1zM49 11h1v1h-1zM54 11h1v1h-1zM34 12h1v1h-1zM30 14h1v1h-1zM44 14h1v1h-1zM54 14h1v1h-1zM57 14h1v1h-1zM33 15h1v1h-1zM44 15h1v1h-1zM49 15h2v1h-2zM49 16h1v1h-1zM51 16h1v1h-1zM55 16h1v1h-1zM29 17h1v1h-1zM35 17h1v1h-1zM37 17h1v1h-1zM40 17h1v1h-1zM49 17h1v1h-1zM1 18h1v1h-1zM47 18h2v1h-2zM53 18h1v1h-1zM39 19h1v1h-1zM45 20h1v1h-1zM50 20h1v1h-1zM29 22h1v1h-1zM39 22h1v1h-1zM44 22h1v1h-1zM47 22h1v1h-1zM43 23h1v1h-1zM54 23h1v1h-1zM59 23h1v1h-1zM40 24h1v1h-1zM59 24h1v1h-1zM46 25h1v1h-1zM50 25h1v1h-1zM54 25h1v1h-1zM39 26h1v1h-1zM18 27h1v1h-1zM31 27h1v1h-1zM45 27h1v1h-1zM54 27h1v1h-1zM40 28h1v1h-1zM43 28h1v1h-1zM49 28h1v1h-1zM55 28h1v1h-1zM60 28h1v1h-1zM34 29h1v1h-1zM42 29h1v1h-1zM49 29h1v1h-1zM67 29h1v1h-1zM40 30h1v1h-1zM43 30h1v1h-1zM56 30h1v1h-1zM67 30h1v1h-1zM48 31h1v1h-1zM52 31h1v1h-1zM52 32h1v1h-1zM61 32h1v1h-1zM38 33h1v1h-1zM45 33h1v1h-1zM47 33h1v1h-1zM34 34h1v1h-1zM36 34h2v1h-2zM59 34h1v1h-1zM40 35h1v1h-1zM22 36h1v1h-1zM26 36h1v1h-1zM33 36h1v1h-1zM44 36h1v1h-1zM56 36h1v1h-1zM9 37h1v1h-1zM22 37h1v1h-1zM18 38h2v1h-2zM38 38h1v1h-1zM16 39h1v1h-1zM20 39h1v1h-1zM9 40h1v1h-1zM22 40h1v1h-1zM35 40h1v1h-1zM37 40h1v1h-1zM46 40h1v1h-1zM12 41h1v1h-1zM21 41h1v1h-1zM24 41h1v1h-1zM49 41h1v1h-1zM1 42h1v1h-1zM10 42h1v1h-1zM13 42h1v1h-1zM21 42h1v1h-1zM38 42h1v1h-1zM41 42h1v1h-1zM47 42h1v1h-1zM55 42h1v1h-1zM1 43h1v1h-1zM9 43h1v1h-1zM14 43h1v1h-1zM23 43h1v1h-1zM42 43h1v1h-1zM0 44h1v1h-1zM15 44h1v1h-1zM25 44h1v1h-1zM12 45h1v1h-1zM25 45h1v1h-1zM37 45h2v1h-2zM47 45h1v1h-1zM5 46h1v1h-1zM18 46h1v1h-1zM26 46h1v1h-1zM37 46h1v1h-1zM50 46h1v1h-1zM19 47h1v1h-1zM27 47h1v1h-1zM34 47h1v1h-1zM37 47h1v1h-1zM52 47h1v1h-1zM68 47h1v1h-1zM3 48h1v1h-1zM23 48h1v1h-1zM26 48h1v1h-1zM55 48h1v1h-1zM35 50h1v1h-1zM46 50h1v1h-1zM35 51h1v1h-1zM38 51h1v1h-1zM41 51h1v1h-1zM35 52h2v1h-2zM30 53h1v1h-1zM40 53h1v1h-1zM45 53h1v1h-1zM39 54h1v1h-1zM43 57h1v1h-1zM21 58h1v1h-1zM46 58h1v1h-1zM49 58h1v1h-1zM0 59h1v1h-1zM31 59h1v1h-1zM36 59h1v1h-1zM53 59h1v1h-1zM65 59h1v1h-1zM64 60h1v1h-1zM35 61h1v1h-1zM37 61h1v1h-1zM49 61h1v1h-1zM51 61h1v1h-1zM62 61h1v1h-1zM6 62h1v1h-1zM29 62h1v1h-1zM34 62h1v1h-1zM38 62h1v1h-1zM48 62h1v1h-1zM60 62h1v1h-1zM39 63h1v1h-1zM48 63h1v1h-1zM59 63h1v1h-1zM3 64h1v1h-1zM23 64h1v1h-1zM55 64h1v1h-1zM58 64h1v1h-1zM66 64h1v1h-1zM16 65h1v1h-1zM49 65h1v1h-1zM12 66h1v1h-1zM14 66h1v1h-1zM41 66h1v1h-1zM29 67h1v1h-1zM43 67h1v1h-1zM49 67h1v1h-1zM18 68h1v1h-1zM26 68h1v1h-1zM39 68h1v1h-1zM45 68h1v1h-1zM53 68h1v1h-1zM9 69h1v1h-1zM11 69h1v1h-1zM34 69h1v1h-1zM14 70h1v1h-1zM24 70h2v1h-2zM51 70h1v1h-1zM26 72h2v1h-2zM37 72h1v1h-1zM58 72h1v1h-1zM60 72h2v1h-2zM68 72h1v1h-1zM9 73h1v1h-1zM14 73h1v1h-1zM37 73h1v1h-1zM38 76h1v1h-1zM40 76h1v1h-1zM45 76h1v1h-1zM37 77h1v1h-1zM13 78h1v1h-1zM18 78h1v1h-1zM10 79h1v1h-1zM26 83h1v1h-1zM3 84h1v1h-1zM21 84h1v1h-1zM35 84h1v1h-1zM45 84h1v1h-1zM58 84h1v1h-1zM60 84h1v1h-1zM65 84h1v1h-1zM6 85h1v1h-1zM8 85h1v1h-1zM12 85h1v1h-1zM19 85h1v1h-1zM26 85h1v1h-1zM63 85h1v1h-1zM12 86h1v1h-1zM17 86h1v1h-1zM26 86h1v1h-1zM68 86h1v1h-1zM8 87h1v1h-1zM16 87h1v1h-1zM51 87h1v1h-1zM67 87h1v1h-1zM1 88h1v1h-1zM4 88h1v1h-1zM23 88h1v1h-1zM51 88h1v1h-1zM6 89h1v1h-1zM10 90h1v1h-1zM15 90h1v1h-1zM67 90h1v1h-1zM1 91h1v1h-1zM14 91h1v1h-1zM18 91h1v1h-1zM29 91h1v1h-1zM67 91h1v1h-1zM2 92h2v1h-2zM9 92h2v1h-2zM18 92h1v1h-1zM22 92h1v1h-1zM31 92h1v1h-1zM67 92h1v1h-1zM24 93h1v1h-1zM0 94h1v1h-1zM14 94h1v1h-1zM22 94h1v1h-1zM26 94h1v1h-1zM55 94h1v1h-1zM13 95h1v1h-1zM19 96h1v1h-1zM25 96h1v1h-1zM59 96h1v1h-1zM19 97h1v1h-1zM26 98h1v1h-1zM34 98h1v1h-1zM18 99h2v1h-2zM51 99h1v1h-1zM2 100h1v1h-1zM24 100h1v1h-1zM1 102h2v1h-2zM44 102h1v1h-1zM61 102h1v1h-1zM3 103h1v1h-1zM7 103h1v1h-1zM15 103h1v1h-1zM50 103h1v1h-1zM62 103h1v1h-1zM0 104h1v1h-1zM10 104h1v1h-1zM16 104h1v1h-1zM25 104h1v1h-1zM51 104h1v1h-1zM8 105h2v1h-2zM15 105h1v1h-1zM21 105h1v1h-1zM64 105h1v1h-1zM19 106h1v1h-1zM60 106h1v1h-1zM6 107h1v1h-1zM9 107h1v1h-1zM20 107h1v1h-1zM31 107h1v1h-1zM34 107h1v1h-1zM67 107h1v1h-1zM0 108h1v1h-1zM4 108h1v1h-1zM11 108h1v1h-1zM64 108h1v1h-1zM6 109h2v1h-2zM13 109h1v1h-1zM18 109h1v1h-1zM1 110h1v1h-1zM58 110h1v1h-1zM57 112h2v1h-2zM60 112h1v1h-1zM3 113h1v1h-1zM15 113h1v1h-1zM24 113h1v1h-1zM58 113h2v1h-2zM65 113h1v1h-1zM25 114h1v1h-1zM27 114h1v1h-1zM60 114h1v1h-1zM64 114h1v1h-1zM2 116h1v1h-1zM20 116h1v1h-1zM29 116h1v1h-1zM26 117h1v1h-1zM64 117h1v1h-1zM66 117h1v1h-1zM1 118h1v1h-1zM45 118h1v1h-1zM62 118h1v1h-1zM3 119h1v1h-1zM8 119h1v1h-1zM23 119h1v1h-1zM63 119h1v1h-1zM67 119h1v1h-1zM1 120h2v1h-2zM10 120h1v1h-1zM60 120h1v1h-1zM67 120h1v1h-1zM11 121h1v1h-1zM18 121h1v1h-1zM54 121h1v1h-1zM61 121h1v1h-1zM64 121h1v1h-1zM25 122h1v1h-1zM1 123h1v1h-1zM5 123h1v1h-1zM21 123h1v1h-1zM25 123h2v1h-2zM29 123h1v1h-1zM59 123h1v1h-1zM65 123h1v1h-1zM20 124h1v1h-1zM26 124h1v1h-1zM29 124h1v1h-1zM60 124h1v1h-1zM67 124h2v1h-2zM21 125h1v1h-1zM24 125h3v1h-3zM29 125h1v1h-1zM58 125h1v1h-1zM68 125h1v1h-1zM7 126h1v1h-1zM15 126h1v1h-1zM54 126h1v1h-1zM59 126h1v1h-1zM63 126h1v1h-1zM21 127h1v1h-1zM40 127h1v1h-1zM7 128h1v1h-1zM21 128h1v1h-1zM23 128h1v1h-1zM51 128h1v1h-1zM60 128h1v1h-1zM4 129h1v1h-1zM8 129h1v1h-1zM64 129h1v1h-1z"/>
<path fill="#bbb7e3" d="M44 0h1v1h-1zM41 1h1v1h-1zM49 1h1v1h-1zM51 1h1v1h-1zM31 2h1v1h-1zM52 2h1v1h-1zM33 3h1v1h-1zM36 3h1v1h-1zM10 4h1v1h-1zM32 4h1v1h-1zM42 5h1v1h-1zM44 6h1v1h-1zM50 6h1v1h-1zM10 7h1v1h-1zM42 7h1v1h-1zM45 7h1v1h-1zM52 7h1v1h-1zM51 8h1v1h-1zM57 8h1v1h-1zM30 9h1v1h-1zM49 9h1v1h-1zM54 9h1v1h-1zM48 10h1v1h-1zM27 11h1v1h-1zM36 11h1v1h-1zM52 11h1v1h-1zM35 12h1v1h-1zM53 12h2v1h-2zM29 13h1v1h-1zM60 13h1v1h-1zM28 14h1v1h-1zM50 14h2v1h-2zM61 14h1v1h-1zM34 15h1v1h-1zM37 15h1v1h-1zM42 15h1v1h-1zM53 15h1v1h-1zM2 17h1v1h-1zM39 17h1v1h-1zM53 17h2v1h-2zM29 18h1v1h-1zM45 19h1v1h-1zM49 19h1v1h-1zM2 20h1v1h-1zM27 20h1v1h-1zM35 20h1v1h-1zM43 20h1v1h-1zM58 20h1v1h-1zM62 20h1v1h-1zM49 21h1v1h-1zM41 22h1v1h-1zM52 22h1v1h-1zM40 23h1v1h-1zM45 23h1v1h-1zM68 23h1v1h-1zM32 24h1v1h-1zM50 24h1v1h-1zM61 24h1v1h-1zM1 25h1v1h-1zM32 25h1v1h-1zM34 25h1v1h-1zM48 25h2v1h-2zM51 25h2v1h-2zM32 26h1v1h-1zM37 26h1v1h-1zM53 26h1v1h-1zM34 27h1v1h-1zM36 27h1v1h-1zM40 27h1v1h-1zM52 27h1v1h-1zM30 28h1v1h-1zM33 28h1v1h-1zM42 28h1v1h-1zM47 28h1v1h-1zM67 28h1v1h-1zM33 29h1v1h-1zM36 29h1v1h-1zM40 29h1v1h-1zM46 29h1v1h-1zM53 29h1v1h-1zM63 29h1v1h-1zM32 30h1v1h-1zM35 30h1v1h-1zM53 30h1v1h-1zM55 30h1v1h-1zM64 30h1v1h-1zM68 30h1v1h-1zM36 31h1v1h-1zM41 31h1v1h-1zM43 31h1v1h-1zM45 31h1v1h-1zM47 31h1v1h-1zM43 32h1v1h-1zM45 32h1v1h-1zM3 34h1v1h-1zM29 34h1v1h-1zM55 34h1v1h-1zM0 36h1v1h-1zM8 36h1v1h-1zM15 36h1v1h-1zM37 36h1v1h-1zM39 36h1v1h-1zM0 37h1v1h-1zM2 37h1v1h-1zM20 37h2v1h-2zM48 37h1v1h-1zM1 38h2v1h-2zM5 38h1v1h-1zM36 38h1v1h-1zM49 38h1v1h-1zM3 39h1v1h-1zM9 39h1v1h-1zM14 39h1v1h-1zM21 39h3v1h-3zM25 39h2v1h-2zM39 39h1v1h-1zM42 39h1v1h-1zM49 39h1v1h-1zM16 40h1v1h-1zM18 40h2v1h-2zM8 41h1v1h-1zM18 41h1v1h-1zM46 41h1v1h-1zM64 41h1v1h-1zM2 42h1v1h-1zM5 42h1v1h-1zM11 42h1v1h-1zM42 42h1v1h-1zM44 42h1v1h-1zM57 42h1v1h-1zM6 43h1v1h-1zM8 43h1v1h-1zM25 43h1v1h-1zM55 43h1v1h-1zM11 44h1v1h-1zM14 44h1v1h-1zM16 44h2v1h-2zM35 44h1v1h-1zM44 44h1v1h-1zM3 45h2v1h-2zM34 45h1v1h-1zM58 45h1v1h-1zM9 46h1v1h-1zM17 46h1v1h-1zM30 46h1v1h-1zM36 46h1v1h-1zM52 46h1v1h-1zM54 46h1v1h-1zM4 47h1v1h-1zM17 47h2v1h-2zM20 47h1v1h-1zM24 47h1v1h-1zM20 48h1v1h-1zM40 48h1v1h-1zM44 48h1v1h-1zM49 48h1v1h-1zM54 48h1v1h-1zM16 49h1v1h-1zM41 50h4v1h-4zM47 50h2v1h-2zM52 51h1v1h-1zM38 52h1v1h-1zM41 52h1v1h-1zM48 52h1v1h-1zM38 53h1v1h-1zM31 54h1v1h-1zM40 55h1v1h-1zM50 55h1v1h-1zM43 56h1v1h-1zM67 56h1v1h-1zM0 58h1v1h-1zM6 58h1v1h-1zM41 58h1v1h-1zM43 58h1v1h-1zM64 58h1v1h-1zM37 59h1v1h-1zM42 59h1v1h-1zM47 59h2v1h-2zM58 59h1v1h-1zM66 59h1v1h-1zM68 59h1v1h-1zM40 60h1v1h-1zM46 60h1v1h-1zM49 60h1v1h-1zM38 61h1v1h-1zM41 61h1v1h-1zM44 61h1v1h-1zM68 61h1v1h-1zM58 62h1v1h-1zM65 62h1v1h-1zM67 62h1v1h-1zM35 63h1v1h-1zM42 63h1v1h-1zM45 63h1v1h-1zM51 63h1v1h-1zM60 63h1v1h-1zM62 63h1v1h-1zM68 63h1v1h-1zM36 64h1v1h-1zM42 64h1v1h-1zM47 64h1v1h-1zM61 64h1v1h-1zM20 65h1v1h-1zM23 65h1v1h-1zM22 66h1v1h-1zM27 66h1v1h-1zM39 66h1v1h-1zM46 66h2v1h-2zM28 67h1v1h-1zM31 67h1v1h-1zM53 67h1v1h-1zM16 68h1v1h-1zM36 68h1v1h-1zM41 69h1v1h-1zM48 69h1v1h-1zM18 70h1v1h-1zM31 70h1v1h-1zM41 70h2v1h-2zM44 70h1v1h-1zM15 71h1v1h-1zM45 71h1v1h-1zM53 71h1v1h-1zM20 72h2v1h-2zM42 72h1v1h-1zM46 72h2v1h-2zM51 72h1v1h-1zM53 72h1v1h-1zM24 73h1v1h-1zM26 73h1v1h-1zM32 73h1v1h-1zM36 73h1v1h-1zM38 73h1v1h-1zM40 73h1v1h-1zM45 73h1v1h-1zM19 74h1v1h-1zM34 74h1v1h-1zM22 76h1v1h-1zM28 76h1v1h-1zM33 76h1v1h-1zM29 78h1v1h-1zM3 82h1v1h-1zM26 82h1v1h-1zM29 82h1v1h-1zM19 83h1v1h-1zM66 83h1v1h-1zM5 84h1v1h-1zM8 84h1v1h-1zM20 84h1v1h-1zM36 84h1v1h-1zM43 84h1v1h-1zM47 84h1v1h-1zM59 84h1v1h-1zM61 84h1v1h-1zM5 85h1v1h-1zM10 85h1v1h-1zM44 85h1v1h-1zM48 85h1v1h-1zM52 85h2v1h-2zM64 85h1v1h-1zM7 86h1v1h-1zM9 86h2v1h-2zM22 86h1v1h-1zM6 87h1v1h-1zM10 87h2v1h-2zM18 87h1v1h-1zM54 87h1v1h-1zM9 88h1v1h-1zM13 88h1v1h-1zM13 90h1v1h-1zM21 90h1v1h-1zM23 90h1v1h-1zM64 90h1v1h-1zM6 91h1v1h-1zM12 91h2v1h-2zM25 91h1v1h-1zM33 91h2v1h-2zM64 91h1v1h-1zM0 92h1v1h-1zM7 92h1v1h-1zM21 92h1v1h-1zM25 92h1v1h-1zM33 92h1v1h-1zM65 92h1v1h-1zM3 93h1v1h-1zM12 93h1v1h-1zM64 93h1v1h-1zM24 94h1v1h-1zM22 95h1v1h-1zM29 95h1v1h-1zM4 96h1v1h-1zM30 96h1v1h-1zM36 96h1v1h-1zM38 96h1v1h-1zM61 97h1v1h-1zM15 98h1v1h-1zM30 98h2v1h-2zM40 98h1v1h-1zM8 99h1v1h-1zM15 99h1v1h-1zM24 99h1v1h-1zM31 99h1v1h-1zM34 99h1v1h-1zM16 100h1v1h-1zM18 100h1v1h-1zM7 101h2v1h-2zM13 101h1v1h-1zM26 101h1v1h-1zM52 101h1v1h-1zM62 101h1v1h-1zM0 102h1v1h-1zM7 102h1v1h-1zM27 102h1v1h-1zM49 102h1v1h-1zM65 102h1v1h-1zM0 103h1v1h-1zM4 103h1v1h-1zM8 103h2v1h-2zM21 103h1v1h-1zM29 103h1v1h-1zM36 103h1v1h-1zM59 103h1v1h-1zM4 104h2v1h-2zM7 104h1v1h-1zM61 104h1v1h-1zM2 105h1v1h-1zM10 105h1v1h-1zM14 105h1v1h-1zM18 105h1v1h-1zM20 105h1v1h-1zM58 105h1v1h-1zM60 105h1v1h-1zM22 106h1v1h-1zM29 106h1v1h-1zM65 106h1v1h-1zM7 107h1v1h-1zM11 107h1v1h-1zM18 107h1v1h-1zM30 107h1v1h-1zM63 107h1v1h-1zM65 107h2v1h-2zM68 107h1v1h-1zM5 108h1v1h-1zM15 108h1v1h-1zM26 108h1v1h-1zM40 108h1v1h-1zM63 108h1v1h-1zM8 109h1v1h-1zM26 109h1v1h-1zM15 110h2v1h-2zM29 110h2v1h-2zM62 110h1v1h-1zM54 111h1v1h-1zM61 112h1v1h-1zM68 112h1v1h-1zM0 113h1v1h-1zM10 113h1v1h-1zM23 113h1v1h-1zM25 113h1v1h-1zM48 113h1v1h-1zM50 113h1v1h-1zM60 113h1v1h-1zM9 114h1v1h-1zM12 114h1v1h-1zM19 114h2v1h-2zM31 114h1v1h-1zM23 115h1v1h-1zM29 115h1v1h-1zM1 116h1v1h-1zM30 116h1v1h-1zM49 116h1v1h-1zM62 116h1v1h-1zM21 117h1v1h-1zM25 117h1v1h-1zM57 117h1v1h-1zM60 117h2v1h-2zM8 118h1v1h-1zM23 118h1v1h-1zM25 118h1v1h-1zM52 118h1v1h-1zM63 118h1v1h-1zM61 119h1v1h-1zM0 120h1v1h-1zM5 120h1v1h-1zM15 120h2v1h-2zM23 120h2v1h-2zM31 120h1v1h-1zM65 120h1v1h-1zM13 121h1v1h-1zM21 121h1v1h-1zM2 122h1v1h-1zM23 122h1v1h-1zM26 122h1v1h-1zM68 122h1v1h-1zM0 123h1v1h-1zM2 123h1v1h-1zM34 123h1v1h-1zM54 123h1v1h-1zM23 124h1v1h-1zM40 124h1v1h-1zM64 124h1v1h-1zM7 125h1v1h-1zM17 125h1v1h-1zM19 125h1v1h-1zM30 125h1v1h-1zM32 125h1v1h-1zM2 126h1v1h-1zM5 126h1v1h-1zM16 126h1v1h-1zM21 126h1v1h-1zM45 126h1v1h-1zM52 126h1v1h-1zM60 126h1v1h-1zM0 127h1v1h-1zM7 127h1v1h-1zM10 127h1v1h-1zM25 127h1v1h-1zM67 127h1v1h-1zM15 128h1v1h-1zM68 128h1v1h-1zM19 129h1v1h-1zM63 129h1v1h-1zM68 129h1v1h-1z"/>
<path fill="#c8c3e7" d="M18 0h1v1h-1zM32 0h1v1h-1zM38 0h1v1h-1zM20 1h1v1h-1zM29 1h1v1h-1zM39 1h1v1h-1zM45 1h1v1h-1zM33 2h1v1h-1zM36 2h1v1h-1zM41 2h2v1h-2zM46 2h1v1h-1zM48 2h1v1h-1zM54 2h1v1h-1zM34 3h1v1h-1zM41 4h2v1h-2zM49 4h1v1h-1zM30 5h1v1h-1zM35 5h1v1h-1zM44 5h1v1h-1zM47 5h1v1h-1zM49 5h1v1h-1zM51 5h1v1h-1zM27 6h1v1h-1zM29 6h1v1h-1zM45 6h1v1h-1zM3 7h1v1h-1zM27 7h1v1h-1zM32 7h1v1h-1zM37 7h1v1h-1zM40 7h1v1h-1zM48 7h1v1h-1zM8 8h1v1h-1zM10 8h1v1h-1zM15 8h1v1h-1zM36 8h2v1h-2zM52 8h1v1h-1zM14 9h1v1h-1zM35 9h2v1h-2zM38 9h1v1h-1zM41 9h1v1h-1zM45 9h1v1h-1zM55 9h1v1h-1zM29 10h1v1h-1zM31 10h1v1h-1zM40 10h1v1h-1zM52 10h1v1h-1zM57 10h1v1h-1zM10 11h1v1h-1zM32 11h1v1h-1zM35 11h1v1h-1zM38 11h1v1h-1zM40 11h1v1h-1zM43 11h2v1h-2zM48 11h1v1h-1zM50 11h1v1h-1zM55 11h1v1h-1zM17 12h1v1h-1zM37 13h2v1h-2zM41 13h1v1h-1zM52 13h1v1h-1zM57 13h1v1h-1zM38 14h1v1h-1zM42 14h1v1h-1zM46 15h1v1h-1zM48 15h1v1h-1zM3 16h1v1h-1zM10 16h1v1h-1zM16 16h1v1h-1zM33 16h3v1h-3zM37 16h2v1h-2zM45 16h2v1h-2zM45 17h1v1h-1zM58 17h1v1h-1zM46 18h1v1h-1zM50 18h1v1h-1zM42 19h1v1h-1zM50 19h1v1h-1zM47 20h1v1h-1zM63 20h1v1h-1zM37 21h1v1h-1zM46 21h1v1h-1zM30 22h2v1h-2zM34 22h1v1h-1zM38 22h1v1h-1zM56 22h1v1h-1zM67 22h1v1h-1zM46 23h1v1h-1zM48 23h1v1h-1zM52 23h1v1h-1zM61 23h1v1h-1zM63 23h1v1h-1zM17 24h1v1h-1zM53 24h2v1h-2zM3 25h1v1h-1zM35 25h1v1h-1zM47 25h1v1h-1zM53 25h1v1h-1zM58 25h1v1h-1zM68 25h1v1h-1zM16 26h1v1h-1zM33 26h1v1h-1zM47 26h1v1h-1zM50 26h1v1h-1zM27 27h1v1h-1zM39 27h1v1h-1zM48 27h1v1h-1zM51 27h1v1h-1zM55 27h1v1h-1zM61 27h1v1h-1zM37 28h1v1h-1zM48 28h1v1h-1zM47 29h1v1h-1zM52 29h1v1h-1zM34 30h1v1h-1zM42 30h1v1h-1zM51 30h1v1h-1zM66 30h1v1h-1zM26 31h1v1h-1zM29 31h1v1h-1zM34 31h1v1h-1zM42 31h1v1h-1zM50 31h2v1h-2zM40 32h1v1h-1zM47 32h1v1h-1zM67 32h1v1h-1zM43 34h1v1h-1zM45 34h1v1h-1zM2 35h2v1h-2zM18 35h1v1h-1zM35 35h1v1h-1zM44 35h1v1h-1zM5 36h1v1h-1zM10 36h2v1h-2zM34 36h1v1h-1zM38 36h1v1h-1zM67 36h1v1h-1zM1 37h1v1h-1zM10 37h1v1h-1zM45 37h2v1h-2zM49 37h1v1h-1zM6 38h1v1h-1zM12 38h2v1h-2zM16 38h2v1h-2zM24 38h1v1h-1zM37 38h1v1h-1zM7 39h1v1h-1zM37 39h1v1h-1zM4 40h1v1h-1zM12 40h1v1h-1zM20 40h1v1h-1zM38 40h1v1h-1zM40 40h1v1h-1zM5 41h1v1h-1zM37 41h1v1h-1zM3 42h1v1h-1zM7 42h1v1h-1zM12 42h1v1h-1zM17 42h1v1h-1zM20 42h1v1h-1zM24 42h1v1h-1zM35 42h1v1h-1zM39 42h1v1h-1zM10 43h1v1h-1zM12 43h1v1h-1zM41 43h1v1h-1zM45 43h1v1h-1zM9 44h2v1h-2zM13 44h1v1h-1zM26 44h1v1h-1zM16 45h1v1h-1zM20 45h1v1h-1zM26 45h1v1h-1zM36 45h1v1h-1zM48 45h1v1h-1zM56 45h1v1h-1zM0 46h1v1h-1zM12 46h2v1h-2zM24 46h1v1h-1zM36 47h1v1h-1zM43 47h1v1h-1zM45 47h1v1h-1zM18 48h1v1h-1zM25 48h1v1h-1zM37 48h2v1h-2zM45 48h1v1h-1zM12 50h1v1h-1zM20 50h1v1h-1zM37 50h1v1h-1zM36 51h1v1h-1zM42 51h1v1h-1zM49 51h1v1h-1zM57 51h1v1h-1zM40 52h1v1h-1zM44 52h1v1h-1zM60 52h1v1h-1zM37 53h1v1h-1zM41 53h1v1h-1zM36 54h1v1h-1zM49 54h1v1h-1zM52 54h1v1h-1zM20 56h1v1h-1zM36 56h1v1h-1zM41 57h1v1h-1zM58 57h1v1h-1zM62 57h1v1h-1zM65 57h1v1h-1zM26 58h1v1h-1zM34 58h1v1h-1zM58 58h1v1h-1zM67 58h1v1h-1zM1 59h1v1h-1zM29 59h1v1h-1zM38 59h1v1h-1zM40 59h1v1h-1zM45 59h1v1h-1zM52 59h1v1h-1zM55 59h1v1h-1zM60 59h1v1h-1zM67 59h1v1h-1zM25 60h1v1h-1zM60 60h1v1h-1zM42 61h1v1h-1zM50 61h1v1h-1zM66 61h1v1h-1zM49 62h1v1h-1zM3 63h2v1h-2zM18 63h1v1h-1zM22 63h1v1h-1zM31 63h1v1h-1zM38 63h1v1h-1zM0 64h1v1h-1zM4 64h1v1h-1zM10 64h1v1h-1zM40 64h1v1h-1zM43 64h1v1h-1zM53 64h1v1h-1zM68 64h1v1h-1zM12 65h2v1h-2zM17 65h1v1h-1zM41 65h1v1h-1zM43 65h1v1h-1zM45 65h1v1h-1zM11 66h1v1h-1zM16 66h1v1h-1zM20 66h1v1h-1zM29 66h1v1h-1zM31 66h2v1h-2zM35 66h2v1h-2zM58 66h1v1h-1zM62 66h1v1h-1zM16 67h1v1h-1zM20 67h1v1h-1zM33 67h1v1h-1zM25 68h1v1h-1zM49 68h1v1h-1zM59 68h1v1h-1zM10 69h1v1h-1zM21 69h1v1h-1zM23 69h1v1h-1zM29 69h1v1h-1zM32 69h1v1h-1zM40 69h1v1h-1zM16 70h2v1h-2zM20 70h2v1h-2zM47 70h1v1h-1zM49 70h1v1h-1zM21 71h1v1h-1zM40 71h1v1h-1zM58 71h1v1h-1zM61 71h1v1h-1zM15 72h1v1h-1zM18 72h1v1h-1zM31 72h1v1h-1zM33 72h1v1h-1zM49 72h1v1h-1zM64 72h1v1h-1zM23 73h1v1h-1zM62 73h2v1h-2zM65 73h2v1h-2zM11 74h1v1h-1zM25 74h1v1h-1zM38 74h1v1h-1zM41 74h1v1h-1zM45 74h1v1h-1zM23 75h1v1h-1zM36 76h1v1h-1zM41 76h1v1h-1zM44 76h1v1h-1zM49 76h1v1h-1zM52 76h2v1h-2zM60 76h1v1h-1zM67 76h1v1h-1zM8 77h1v1h-1zM10 77h1v1h-1zM18 77h1v1h-1zM30 77h2v1h-2zM9 78h1v1h-1zM21 78h1v1h-1zM30 78h1v1h-1zM44 78h1v1h-1zM49 78h1v1h-1zM20 79h1v1h-1zM40 79h1v1h-1zM20 82h2v1h-2zM28 82h1v1h-1zM35 82h1v1h-1zM46 82h1v1h-1zM66 82h1v1h-1zM22 83h1v1h-1zM43 83h1v1h-1zM6 84h1v1h-1zM23 84h1v1h-1zM28 84h1v1h-1zM32 84h1v1h-1zM39 84h1v1h-1zM51 84h1v1h-1zM55 84h1v1h-1zM57 84h1v1h-1zM66 84h1v1h-1zM22 85h2v1h-2zM30 85h1v1h-1zM33 85h1v1h-1zM37 85h1v1h-1zM1 86h1v1h-1zM16 86h1v1h-1zM18 86h1v1h-1zM29 86h1v1h-1zM37 86h1v1h-1zM49 86h1v1h-1zM56 86h1v1h-1zM7 87h1v1h-1zM14 87h1v1h-1zM37 87h1v1h-1zM55 87h1v1h-1zM63 87h1v1h-1zM65 87h1v1h-1zM2 88h1v1h-1zM5 88h1v1h-1zM11 88h2v1h-2zM15 88h1v1h-1zM18 88h1v1h-1zM19 89h1v1h-1zM21 89h1v1h-1zM0 90h1v1h-1zM8 90h1v1h-1zM11 90h2v1h-2zM16 90h1v1h-1zM18 90h1v1h-1zM65 90h2v1h-2zM19 91h1v1h-1zM21 91h1v1h-1zM37 91h1v1h-1zM41 91h1v1h-1zM49 91h1v1h-1zM68 91h1v1h-1zM13 92h1v1h-1zM29 92h1v1h-1zM50 92h2v1h-2zM56 92h1v1h-1zM13 93h1v1h-1zM17 93h1v1h-1zM20 93h1v1h-1zM26 93h1v1h-1zM57 93h1v1h-1zM65 93h1v1h-1zM31 94h1v1h-1zM10 95h2v1h-2zM51 95h2v1h-2zM3 96h1v1h-1zM16 96h1v1h-1zM22 96h1v1h-1zM49 98h1v1h-1zM0 99h1v1h-1zM4 99h1v1h-1zM22 99h1v1h-1zM27 99h1v1h-1zM30 99h1v1h-1zM53 99h1v1h-1zM7 100h1v1h-1zM21 100h1v1h-1zM23 100h1v1h-1zM60 100h1v1h-1zM62 100h1v1h-1zM2 101h1v1h-1zM11 101h1v1h-1zM16 101h1v1h-1zM24 101h1v1h-1zM29 101h1v1h-1zM60 101h1v1h-1zM12 102h1v1h-1zM51 102h1v1h-1zM64 102h1v1h-1zM11 103h1v1h-1zM27 103h1v1h-1zM61 103h1v1h-1zM8 104h1v1h-1zM12 104h1v1h-1zM24 104h1v1h-1zM59 104h1v1h-1zM64 104h1v1h-1zM67 104h1v1h-1zM17 105h1v1h-1zM29 105h1v1h-1zM59 105h1v1h-1zM68 105h1v1h-1zM9 106h1v1h-1zM12 106h1v1h-1zM25 106h1v1h-1zM49 106h1v1h-1zM62 106h1v1h-1zM12 107h1v1h-1zM24 107h1v1h-1zM27 107h1v1h-1zM29 107h1v1h-1zM49 107h1v1h-1zM52 107h1v1h-1zM55 107h1v1h-1zM7 108h1v1h-1zM18 108h1v1h-1zM20 108h1v1h-1zM25 108h1v1h-1zM29 108h1v1h-1zM68 108h1v1h-1zM1 109h2v1h-2zM5 109h1v1h-1zM66 109h1v1h-1zM11 110h1v1h-1zM14 110h1v1h-1zM25 110h1v1h-1zM60 110h1v1h-1zM28 111h1v1h-1zM55 111h1v1h-1zM64 111h1v1h-1zM3 112h1v1h-1zM13 112h2v1h-2zM64 112h1v1h-1zM11 113h1v1h-1zM13 113h1v1h-1zM20 113h1v1h-1zM32 113h1v1h-1zM51 113h1v1h-1zM54 113h1v1h-1zM56 113h1v1h-1zM66 113h1v1h-1zM18 114h1v1h-1zM21 114h1v1h-1zM61 114h2v1h-2zM0 115h1v1h-1zM3 115h1v1h-1zM6 115h1v1h-1zM9 115h1v1h-1zM24 115h1v1h-1zM40 115h1v1h-1zM50 115h1v1h-1zM59 115h1v1h-1zM61 115h1v1h-1zM64 115h1v1h-1zM5 116h1v1h-1zM18 116h1v1h-1zM21 116h1v1h-1zM26 116h1v1h-1zM56 116h1v1h-1zM3 117h1v1h-1zM13 117h1v1h-1zM19 117h1v1h-1zM23 117h1v1h-1zM27 117h1v1h-1zM59 117h1v1h-1zM62 117h1v1h-1zM6 118h1v1h-1zM12 118h1v1h-1zM18 118h1v1h-1zM34 118h1v1h-1zM58 118h1v1h-1zM18 119h1v1h-1zM50 119h1v1h-1zM58 119h1v1h-1zM7 120h1v1h-1zM10 121h1v1h-1zM15 121h1v1h-1zM32 121h2v1h-2zM41 121h1v1h-1zM57 121h1v1h-1zM6 122h2v1h-2zM10 122h1v1h-1zM21 122h1v1h-1zM45 122h1v1h-1zM3 123h1v1h-1zM16 123h1v1h-1zM19 123h1v1h-1zM23 123h1v1h-1zM35 123h1v1h-1zM53 123h1v1h-1zM56 123h1v1h-1zM63 123h1v1h-1zM66 123h1v1h-1zM10 124h1v1h-1zM14 124h1v1h-1zM22 124h1v1h-1zM30 124h1v1h-1zM63 124h1v1h-1zM66 124h1v1h-1zM3 125h1v1h-1zM9 125h1v1h-1zM50 125h1v1h-1zM64 125h2v1h-2zM67 125h1v1h-1zM3 126h1v1h-1zM26 126h1v1h-1zM36 126h1v1h-1zM58 126h1v1h-1zM62 126h1v1h-1zM67 126h1v1h-1zM20 127h1v1h-1zM22 127h1v1h-1zM24 127h1v1h-1zM31 127h1v1h-1zM54 127h1v1h-1zM61 127h1v1h-1zM63 128h2v1h-2zM0 129h1v1h-1zM6 129h1v1h-1zM9 129h1v1h-1zM15 129h1v1h-1zM44 129h1v1h-1zM54 129h1v1h-1zM57 129h1v1h-1zM60 129h1v1h-1zM62 129h1v1h-1z"/>
<path fill="#d5d0ea" d="M9 0h1v1h-1zM33 0h1v1h-1zM43 0h1v1h-1zM47 0h1v1h-1zM10 1h1v1h-1zM15 1h1v1h-1zM19 1h1v1h-1zM23 1h1v1h-1zM36 1h1v1h-1zM38 1h1v1h-1zM32 2h1v1h-1zM32 3h1v1h-1zM43 3h1v1h-1zM36 4h1v1h-1zM16 5h1v1h-1zM25 5h1v1h-1zM38 5h1v1h-1zM68 5h1v1h-1zM35 6h1v1h-1zM42 6h2v1h-2zM52 6h2v1h-2zM56 6h1v1h-1zM65 6h1v1h-1zM30 7h1v1h-1zM39 7h1v1h-1zM35 8h1v1h-1zM38 8h1v1h-1zM53 8h1v1h-1zM27 9h1v1h-1zM40 9h1v1h-1zM43 9h1v1h-1zM9 10h1v1h-1zM16 10h1v1h-1zM34 10h1v1h-1zM12 11h1v1h-1zM14 11h1v1h-1zM39 11h1v1h-1zM51 11h1v1h-1zM37 12h1v1h-1zM46 12h1v1h-1zM51 12h1v1h-1zM9 13h1v1h-1zM27 13h2v1h-2zM32 13h2v1h-2zM42 13h1v1h-1zM44 13h1v1h-1zM49 13h1v1h-1zM29 14h1v1h-1zM31 14h1v1h-1zM39 14h1v1h-1zM43 14h1v1h-1zM47 14h1v1h-1zM56 14h1v1h-1zM12 15h1v1h-1zM52 15h1v1h-1zM56 15h1v1h-1zM5 16h1v1h-1zM8 16h2v1h-2zM18 16h1v1h-1zM29 16h1v1h-1zM39 16h1v1h-1zM57 16h1v1h-1zM0 17h2v1h-2zM7 17h1v1h-1zM31 17h1v1h-1zM34 17h1v1h-1zM36 17h1v1h-1zM41 17h1v1h-1zM51 17h1v1h-1zM55 17h1v1h-1zM57 17h1v1h-1zM15 18h1v1h-1zM35 18h2v1h-2zM38 18h1v1h-1zM43 18h1v1h-1zM0 19h1v1h-1zM8 19h1v1h-1zM47 19h1v1h-1zM42 20h1v1h-1zM51 20h1v1h-1zM53 20h1v1h-1zM55 20h1v1h-1zM65 20h1v1h-1zM27 21h1v1h-1zM39 21h1v1h-1zM42 21h1v1h-1zM45 21h1v1h-1zM47 21h1v1h-1zM35 22h2v1h-2zM48 22h1v1h-1zM50 22h2v1h-2zM54 22h1v1h-1zM64 22h1v1h-1zM30 23h1v1h-1zM37 23h1v1h-1zM47 23h1v1h-1zM53 23h1v1h-1zM55 23h2v1h-2zM58 23h1v1h-1zM65 23h1v1h-1zM1 24h1v1h-1zM16 24h1v1h-1zM25 24h1v1h-1zM35 24h1v1h-1zM37 24h1v1h-1zM48 24h2v1h-2zM56 24h1v1h-1zM58 24h1v1h-1zM65 24h1v1h-1zM26 25h1v1h-1zM29 25h1v1h-1zM63 25h1v1h-1zM67 25h1v1h-1zM17 26h1v1h-1zM36 26h1v1h-1zM43 26h1v1h-1zM66 26h1v1h-1zM30 27h1v1h-1zM35 27h1v1h-1zM47 27h1v1h-1zM50 27h1v1h-1zM58 27h1v1h-1zM60 27h1v1h-1zM64 27h1v1h-1zM16 28h1v1h-1zM25 28h2v1h-2zM29 28h1v1h-1zM35 28h1v1h-1zM61 28h1v1h-1zM63 28h1v1h-1zM30 29h1v1h-1zM38 29h2v1h-2zM62 29h1v1h-1zM64 29h1v1h-1zM66 29h1v1h-1zM28 30h1v1h-1zM31 30h1v1h-1zM33 30h1v1h-1zM48 30h1v1h-1zM54 30h1v1h-1zM58 30h1v1h-1zM38 31h1v1h-1zM58 31h2v1h-2zM61 31h1v1h-1zM46 32h1v1h-1zM55 32h1v1h-1zM34 33h1v1h-1zM36 33h1v1h-1zM56 33h1v1h-1zM68 33h1v1h-1zM32 34h1v1h-1zM40 34h1v1h-1zM46 34h1v1h-1zM49 34h1v1h-1zM51 34h2v1h-2zM61 34h1v1h-1zM66 34h1v1h-1zM0 35h1v1h-1zM6 35h1v1h-1zM16 35h1v1h-1zM42 35h1v1h-1zM48 35h1v1h-1zM1 36h1v1h-1zM3 36h2v1h-2zM7 36h1v1h-1zM14 36h1v1h-1zM17 36h1v1h-1zM19 36h1v1h-1zM23 36h1v1h-1zM30 36h1v1h-1zM42 36h1v1h-1zM46 36h1v1h-1zM54 36h1v1h-1zM39 37h1v1h-1zM41 37h2v1h-2zM55 37h1v1h-1zM9 38h1v1h-1zM25 38h1v1h-1zM41 38h2v1h-2zM48 38h1v1h-1zM4 39h1v1h-1zM8 39h1v1h-1zM15 39h1v1h-1zM17 39h1v1h-1zM38 39h1v1h-1zM43 39h1v1h-1zM21 40h1v1h-1zM30 40h1v1h-1zM42 40h1v1h-1zM44 40h1v1h-1zM23 41h1v1h-1zM32 41h1v1h-1zM40 41h1v1h-1zM42 41h1v1h-1zM47 41h1v1h-1zM0 42h1v1h-1zM4 42h1v1h-1zM6 42h1v1h-1zM15 42h1v1h-1zM45 42h1v1h-1zM7 43h1v1h-1zM20 43h1v1h-1zM30 43h1v1h-1zM39 43h1v1h-1zM1 44h1v1h-1zM12 44h1v1h-1zM19 44h2v1h-2zM22 44h1v1h-1zM37 44h1v1h-1zM39 44h2v1h-2zM49 44h1v1h-1zM11 45h1v1h-1zM15 45h1v1h-1zM28 45h1v1h-1zM40 45h1v1h-1zM1 46h1v1h-1zM46 46h2v1h-2zM55 46h1v1h-1zM57 46h1v1h-1zM64 46h1v1h-1zM8 47h1v1h-1zM13 47h1v1h-1zM29 47h1v1h-1zM41 47h1v1h-1zM54 47h1v1h-1zM2 48h1v1h-1zM16 48h1v1h-1zM41 48h1v1h-1zM46 48h1v1h-1zM48 48h1v1h-1zM2 49h1v1h-1zM5 49h1v1h-1zM11 49h1v1h-1zM15 49h1v1h-1zM25 49h1v1h-1zM38 49h1v1h-1zM5 50h1v1h-1zM58 50h1v1h-1zM20 51h1v1h-1zM25 51h1v1h-1zM39 51h1v1h-1zM46 51h1v1h-1zM55 51h2v1h-2zM61 51h1v1h-1zM13 53h1v1h-1zM33 53h1v1h-1zM42 53h1v1h-1zM61 53h1v1h-1zM10 54h1v1h-1zM3 55h1v1h-1zM24 55h1v1h-1zM51 55h1v1h-1zM62 55h1v1h-1zM68 55h1v1h-1zM40 56h1v1h-1zM35 57h1v1h-1zM3 58h1v1h-1zM9 58h1v1h-1zM23 58h1v1h-1zM52 58h1v1h-1zM59 58h1v1h-1zM63 58h1v1h-1zM3 59h1v1h-1zM13 59h1v1h-1zM33 59h1v1h-1zM41 59h1v1h-1zM43 59h1v1h-1zM46 59h1v1h-1zM50 59h1v1h-1zM56 59h1v1h-1zM59 59h1v1h-1zM62 59h1v1h-1zM35 60h2v1h-2zM43 60h1v1h-1zM45 60h1v1h-1zM65 60h1v1h-1zM67 60h1v1h-1zM5 61h1v1h-1zM11 61h1v1h-1zM31 61h1v1h-1zM40 61h1v1h-1zM55 61h1v1h-1zM60 61h1v1h-1zM14 62h1v1h-1zM33 62h1v1h-1zM37 62h1v1h-1zM57 62h1v1h-1zM59 62h1v1h-1zM7 63h1v1h-1zM19 63h1v1h-1zM23 63h1v1h-1zM25 63h1v1h-1zM47 63h1v1h-1zM57 63h1v1h-1zM67 63h1v1h-1zM6 64h1v1h-1zM13 64h1v1h-1zM21 64h1v1h-1zM26 64h1v1h-1zM38 64h1v1h-1zM46 64h1v1h-1zM9 65h1v1h-1zM11 65h1v1h-1zM14 65h1v1h-1zM29 65h1v1h-1zM38 65h1v1h-1zM53 65h1v1h-1zM1 66h1v1h-1zM8 66h3v1h-3zM17 66h1v1h-1zM28 66h1v1h-1zM37 66h1v1h-1zM60 66h1v1h-1zM63 66h1v1h-1zM67 66h2v1h-2zM1 67h1v1h-1zM4 67h1v1h-1zM14 67h1v1h-1zM17 67h1v1h-1zM19 67h1v1h-1zM35 67h1v1h-1zM46 67h1v1h-1zM48 67h1v1h-1zM56 67h1v1h-1zM1 68h1v1h-1zM7 68h1v1h-1zM12 68h2v1h-2zM17 68h1v1h-1zM31 68h1v1h-1zM33 68h1v1h-1zM42 68h1v1h-1zM16 69h1v1h-1zM31 69h1v1h-1zM62 69h1v1h-1zM8 70h1v1h-1zM11 70h1v1h-1zM19 70h1v1h-1zM29 70h1v1h-1zM33 70h1v1h-1zM39 70h1v1h-1zM67 70h2v1h-2zM12 71h1v1h-1zM20 71h1v1h-1zM42 71h2v1h-2zM49 71h1v1h-1zM3 72h1v1h-1zM8 72h1v1h-1zM32 72h1v1h-1zM48 72h1v1h-1zM12 73h2v1h-2zM18 73h1v1h-1zM33 73h1v1h-1zM43 73h2v1h-2zM47 73h1v1h-1zM50 73h2v1h-2zM24 74h1v1h-1zM49 74h1v1h-1zM10 75h1v1h-1zM39 75h1v1h-1zM8 76h1v1h-1zM13 76h1v1h-1zM17 76h1v1h-1zM19 76h2v1h-2zM24 76h1v1h-1zM34 76h1v1h-1zM37 76h1v1h-1zM62 76h2v1h-2zM26 77h2v1h-2zM29 77h1v1h-1zM34 77h1v1h-1zM44 77h1v1h-1zM22 78h2v1h-2zM35 78h1v1h-1zM41 78h1v1h-1zM48 79h1v1h-1zM14 82h2v1h-2zM19 82h1v1h-1zM24 82h1v1h-1zM30 82h2v1h-2zM48 82h1v1h-1zM50 82h1v1h-1zM57 82h1v1h-1zM63 82h2v1h-2zM15 83h1v1h-1zM23 83h1v1h-1zM40 83h1v1h-1zM46 83h1v1h-1zM1 84h1v1h-1zM19 84h1v1h-1zM26 84h1v1h-1zM40 84h1v1h-1zM50 84h1v1h-1zM52 84h1v1h-1zM68 84h1v1h-1zM0 85h1v1h-1zM2 85h1v1h-1zM25 85h1v1h-1zM27 85h1v1h-1zM36 85h1v1h-1zM4 87h1v1h-1zM9 87h1v1h-1zM13 87h1v1h-1zM22 87h1v1h-1zM29 87h1v1h-1zM32 87h1v1h-1zM39 87h1v1h-1zM64 87h1v1h-1zM7 88h1v1h-1zM17 88h1v1h-1zM19 88h1v1h-1zM25 88h2v1h-2zM29 88h1v1h-1zM31 88h1v1h-1zM33 88h1v1h-1zM38 88h1v1h-1zM39 90h1v1h-1zM51 90h1v1h-1zM68 90h1v1h-1zM4 91h1v1h-1zM9 91h1v1h-1zM17 91h1v1h-1zM11 92h2v1h-2zM14 92h1v1h-1zM35 92h1v1h-1zM55 92h1v1h-1zM0 93h1v1h-1zM11 93h1v1h-1zM4 94h1v1h-1zM8 94h4v1h-4zM18 94h1v1h-1zM30 94h1v1h-1zM36 94h1v1h-1zM53 94h1v1h-1zM63 94h1v1h-1zM25 95h2v1h-2zM31 95h1v1h-1zM33 95h1v1h-1zM0 96h1v1h-1zM2 96h1v1h-1zM8 96h1v1h-1zM13 96h1v1h-1zM28 96h1v1h-1zM32 96h1v1h-1zM45 96h1v1h-1zM50 96h1v1h-1zM52 96h1v1h-1zM60 96h1v1h-1zM9 97h1v1h-1zM16 97h1v1h-1zM33 97h2v1h-2zM39 97h2v1h-2zM52 97h1v1h-1zM21 98h1v1h-1zM27 98h1v1h-1zM51 98h1v1h-1zM55 98h1v1h-1zM59 98h1v1h-1zM61 98h2v1h-2zM9 99h2v1h-2zM66 99h1v1h-1zM6 100h1v1h-1zM12 100h1v1h-1zM20 100h1v1h-1zM58 100h2v1h-2zM66 100h1v1h-1zM4 101h1v1h-1zM30 101h1v1h-1zM34 101h1v1h-1zM68 101h1v1h-1zM8 102h1v1h-1zM11 102h1v1h-1zM22 102h1v1h-1zM68 102h1v1h-1zM52 103h1v1h-1zM63 103h1v1h-1zM22 104h1v1h-1zM60 104h1v1h-1zM63 104h1v1h-1zM7 105h1v1h-1zM11 105h1v1h-1zM19 105h1v1h-1zM40 105h1v1h-1zM3 106h1v1h-1zM16 106h1v1h-1zM39 106h1v1h-1zM61 106h1v1h-1zM64 106h1v1h-1zM22 107h1v1h-1zM28 107h1v1h-1zM32 107h1v1h-1zM38 107h1v1h-1zM53 107h2v1h-2zM50 108h1v1h-1zM57 108h1v1h-1zM60 108h1v1h-1zM3 109h1v1h-1zM10 109h1v1h-1zM16 109h1v1h-1zM58 109h1v1h-1zM60 109h1v1h-1zM3 110h1v1h-1zM5 110h1v1h-1zM19 110h2v1h-2zM34 110h1v1h-1zM40 110h1v1h-1zM67 110h1v1h-1zM3 111h1v1h-1zM10 111h2v1h-2zM14 111h1v1h-1zM21 111h1v1h-1zM23 111h1v1h-1zM26 111h1v1h-1zM68 111h1v1h-1zM2 112h1v1h-1zM4 112h2v1h-2zM18 112h1v1h-1zM25 112h1v1h-1zM29 112h1v1h-1zM52 112h2v1h-2zM59 112h1v1h-1zM65 112h1v1h-1zM16 113h1v1h-1zM18 113h2v1h-2zM28 113h4v1h-4zM38 113h1v1h-1zM53 113h1v1h-1zM55 113h1v1h-1zM64 113h1v1h-1zM68 113h1v1h-1zM14 114h1v1h-1zM23 114h1v1h-1zM40 114h1v1h-1zM57 114h1v1h-1zM59 114h1v1h-1zM68 114h1v1h-1zM2 115h1v1h-1zM15 115h1v1h-1zM21 115h1v1h-1zM31 115h1v1h-1zM3 116h1v1h-1zM22 116h1v1h-1zM63 116h3v1h-3zM68 116h1v1h-1zM1 117h2v1h-2zM5 117h2v1h-2zM14 117h1v1h-1zM24 117h1v1h-1zM49 117h1v1h-1zM52 117h1v1h-1zM54 117h1v1h-1zM68 117h1v1h-1zM3 118h1v1h-1zM13 118h1v1h-1zM26 118h1v1h-1zM5 119h1v1h-1zM15 119h1v1h-1zM20 119h1v1h-1zM26 119h1v1h-1zM33 119h1v1h-1zM64 119h1v1h-1zM45 120h1v1h-1zM50 120h1v1h-1zM58 120h1v1h-1zM7 121h2v1h-2zM12 121h1v1h-1zM14 121h1v1h-1zM16 121h1v1h-1zM23 121h1v1h-1zM26 121h1v1h-1zM29 121h1v1h-1zM36 121h1v1h-1zM13 122h2v1h-2zM62 122h1v1h-1zM67 122h1v1h-1zM9 123h1v1h-1zM28 123h1v1h-1zM42 123h1v1h-1zM44 123h1v1h-1zM57 123h1v1h-1zM61 123h1v1h-1zM1 124h1v1h-1zM8 124h1v1h-1zM17 124h1v1h-1zM19 124h1v1h-1zM50 124h1v1h-1zM10 125h1v1h-1zM12 125h2v1h-2zM15 125h2v1h-2zM42 125h1v1h-1zM48 125h1v1h-1zM59 125h1v1h-1zM66 125h1v1h-1zM1 126h1v1h-1zM6 126h1v1h-1zM66 126h1v1h-1zM8 127h1v1h-1zM15 127h1v1h-1zM63 127h1v1h-1zM65 127h1v1h-1zM5 128h1v1h-1zM9 128h1v1h-1zM16 128h1v1h-1zM19 128h1v1h-1zM22 128h1v1h-1zM31 128h1v1h-1zM43 128h1v1h-1zM54 128h1v1h-1zM57 128h1v1h-1zM59 128h1v1h-1zM61 128h1v1h-1zM1 129h1v1h-1zM3 129h1v1h-1zM7 129h1v1h-1zM28 129h2v1h-2zM31 129h2v1h-2zM51 129h1v1h-1zM65 129h1v1h-1z"/>
<path fill="#e4ddec" d="M6 0h1v1h-1zM12 0h2v1h-2zM42 0h1v1h-1zM55 0h1v1h-1zM13 1h1v1h-1zM26 1h1v1h-1zM30 1h1v1h-1zM37 1h1v1h-1zM40 1h1v1h-1zM53 1h1v1h-1zM55 1h1v1h-1zM29 2h1v1h-1zM56 2h1v1h-1zM19 3h2v1h-2zM29 3h1v1h-1zM58 3h1v1h-1zM40 4h1v1h-1zM47 4h1v1h-1zM17 5h1v1h-1zM40 5h1v1h-1zM48 5h1v1h-1zM53 5h1v1h-1zM2 6h1v1h-1zM8 6h1v1h-1zM12 6h1v1h-1zM16 6h1v1h-1zM31 6h1v1h-1zM36 6h1v1h-1zM38 6h2v1h-2zM49 6h1v1h-1zM26 7h1v1h-1zM28 7h1v1h-1zM31 7h1v1h-1zM36 7h1v1h-1zM43 7h1v1h-1zM50 7h1v1h-1zM1 8h1v1h-1zM47 8h1v1h-1zM49 8h1v1h-1zM29 9h1v1h-1zM31 9h1v1h-1zM33 9h1v1h-1zM37 9h1v1h-1zM44 9h1v1h-1zM61 9h1v1h-1zM3 10h1v1h-1zM37 10h1v1h-1zM47 10h1v1h-1zM49 10h2v1h-2zM41 11h1v1h-1zM46 11h1v1h-1zM53 11h1v1h-1zM65 11h1v1h-1zM30 12h1v1h-1zM40 12h1v1h-1zM43 12h1v1h-1zM25 13h1v1h-1zM36 13h1v1h-1zM39 13h1v1h-1zM46 13h2v1h-2zM50 13h1v1h-1zM53 13h2v1h-2zM56 13h1v1h-1zM58 13h1v1h-1zM11 14h1v1h-1zM15 14h1v1h-1zM18 14h1v1h-1zM52 14h1v1h-1zM55 14h1v1h-1zM15 15h1v1h-1zM25 15h2v1h-2zM36 15h1v1h-1zM38 15h1v1h-1zM47 15h1v1h-1zM0 16h1v1h-1zM6 16h1v1h-1zM11 16h1v1h-1zM25 16h1v1h-1zM27 16h2v1h-2zM67 16h1v1h-1zM27 17h1v1h-1zM33 17h1v1h-1zM42 17h3v1h-3zM37 18h1v1h-1zM51 18h1v1h-1zM16 19h1v1h-1zM29 19h1v1h-1zM41 19h1v1h-1zM44 19h1v1h-1zM48 19h1v1h-1zM55 19h1v1h-1zM57 19h1v1h-1zM28 20h2v1h-2zM37 20h1v1h-1zM41 20h1v1h-1zM64 20h1v1h-1zM43 21h1v1h-1zM50 21h1v1h-1zM58 21h1v1h-1zM65 21h1v1h-1zM28 22h1v1h-1zM53 22h1v1h-1zM59 22h1v1h-1zM66 22h1v1h-1zM12 23h1v1h-1zM31 23h1v1h-1zM35 23h1v1h-1zM50 23h2v1h-2zM57 23h1v1h-1zM62 23h1v1h-1zM64 23h1v1h-1zM29 24h1v1h-1zM43 24h1v1h-1zM46 24h1v1h-1zM66 24h1v1h-1zM2 25h1v1h-1zM5 25h1v1h-1zM56 25h1v1h-1zM61 25h2v1h-2zM66 25h1v1h-1zM38 26h1v1h-1zM46 26h1v1h-1zM48 26h1v1h-1zM0 27h1v1h-1zM16 27h1v1h-1zM33 27h1v1h-1zM41 27h1v1h-1zM44 27h1v1h-1zM17 28h1v1h-1zM34 28h1v1h-1zM52 28h3v1h-3zM57 28h2v1h-2zM32 29h1v1h-1zM48 29h1v1h-1zM50 29h2v1h-2zM59 29h1v1h-1zM1 30h1v1h-1zM6 30h1v1h-1zM27 30h1v1h-1zM37 30h1v1h-1zM63 30h1v1h-1zM25 31h1v1h-1zM32 31h1v1h-1zM35 31h1v1h-1zM39 31h1v1h-1zM46 31h1v1h-1zM53 31h1v1h-1zM44 32h1v1h-1zM64 32h1v1h-1zM68 32h1v1h-1zM29 33h1v1h-1zM35 33h1v1h-1zM37 33h1v1h-1zM43 33h1v1h-1zM51 33h1v1h-1zM53 33h1v1h-1zM1 34h2v1h-2zM30 34h1v1h-1zM33 34h1v1h-1zM47 34h2v1h-2zM62 34h2v1h-2zM19 35h1v1h-1zM21 35h1v1h-1zM33 35h1v1h-1zM39 35h1v1h-1zM43 35h1v1h-1zM49 35h1v1h-1zM55 35h2v1h-2zM64 35h1v1h-1zM2 36h1v1h-1zM13 36h1v1h-1zM60 36h1v1h-1zM4 37h1v1h-1zM6 37h1v1h-1zM14 37h1v1h-1zM17 37h1v1h-1zM26 37h1v1h-1zM30 37h1v1h-1zM38 37h1v1h-1zM54 37h1v1h-1zM3 38h1v1h-1zM20 38h1v1h-1zM22 38h1v1h-1zM35 38h1v1h-1zM40 38h1v1h-1zM1 39h1v1h-1zM5 39h1v1h-1zM10 39h1v1h-1zM13 39h1v1h-1zM19 39h1v1h-1zM27 39h1v1h-1zM32 39h1v1h-1zM54 39h2v1h-2zM58 39h1v1h-1zM64 39h1v1h-1zM2 40h1v1h-1zM45 40h1v1h-1zM57 40h1v1h-1zM1 41h1v1h-1zM13 41h1v1h-1zM25 41h1v1h-1zM34 41h1v1h-1zM39 41h1v1h-1zM45 41h1v1h-1zM48 41h1v1h-1zM67 41h1v1h-1zM18 42h1v1h-1zM37 42h1v1h-1zM56 42h1v1h-1zM0 43h1v1h-1zM15 43h1v1h-1zM32 43h1v1h-1zM3 44h1v1h-1zM6 44h2v1h-2zM36 44h1v1h-1zM45 44h1v1h-1zM48 44h1v1h-1zM54 44h1v1h-1zM57 44h1v1h-1zM9 45h1v1h-1zM13 45h2v1h-2zM18 45h2v1h-2zM21 45h3v1h-3zM27 45h1v1h-1zM31 45h1v1h-1zM44 45h1v1h-1zM11 46h1v1h-1zM33 46h1v1h-1zM62 46h1v1h-1zM68 46h1v1h-1zM33 47h1v1h-1zM7 48h1v1h-1zM6 49h1v1h-1zM19 49h1v1h-1zM21 49h1v1h-1zM48 49h1v1h-1zM3 50h2v1h-2zM29 50h1v1h-1zM45 50h1v1h-1zM1 51h1v1h-1zM9 51h1v1h-1zM11 51h2v1h-2zM14 51h1v1h-1zM34 51h1v1h-1zM43 51h1v1h-1zM54 51h1v1h-1zM58 51h1v1h-1zM0 52h1v1h-1zM12 52h1v1h-1zM28 52h1v1h-1zM34 52h1v1h-1zM37 52h1v1h-1zM49 52h1v1h-1zM55 52h1v1h-1zM6 53h1v1h-1zM8 53h1v1h-1zM32 53h1v1h-1zM44 53h1v1h-1zM53 53h3v1h-3zM60 53h1v1h-1zM20 54h1v1h-1zM35 54h1v1h-1zM38 54h1v1h-1zM40 54h1v1h-1zM59 54h1v1h-1zM29 55h1v1h-1zM35 55h1v1h-1zM41 55h1v1h-1zM43 55h1v1h-1zM60 55h1v1h-1zM67 55h1v1h-1zM2 56h1v1h-1zM38 56h1v1h-1zM61 56h1v1h-1zM65 56h1v1h-1zM19 57h1v1h-1zM32 57h1v1h-1zM57 57h1v1h-1zM64 57h1v1h-1zM22 58h1v1h-1zM25 58h1v1h-1zM53 58h1v1h-1zM57 58h1v1h-1zM60 58h1v1h-1zM68 58h1v1h-1zM4 59h3v1h-3zM10 59h2v1h-2zM22 59h1v1h-1zM27 59h1v1h-1zM30 59h1v1h-1zM35 59h1v1h-1zM0 60h3v1h-3zM11 60h1v1h-1zM15 60h1v1h-1zM42 60h1v1h-1zM44 60h1v1h-1zM47 60h1v1h-1zM61 60h1v1h-1zM63 60h1v1h-1zM2 61h1v1h-1zM53 61h1v1h-1zM58 61h1v1h-1zM5 62h1v1h-1zM10 62h1v1h-1zM43 62h1v1h-1zM54 62h1v1h-1zM0 63h1v1h-1zM11 63h2v1h-2zM17 63h1v1h-1zM29 63h1v1h-1zM43 63h1v1h-1zM46 63h1v1h-1zM49 63h2v1h-2zM52 63h1v1h-1zM2 64h1v1h-1zM29 64h1v1h-1zM35 64h1v1h-1zM52 64h1v1h-1zM65 64h1v1h-1zM18 65h1v1h-1zM24 65h1v1h-1zM26 65h2v1h-2zM33 65h2v1h-2zM64 65h1v1h-1zM15 66h1v1h-1zM33 66h1v1h-1zM45 66h1v1h-1zM48 66h1v1h-1zM51 66h1v1h-1zM55 66h2v1h-2zM59 66h1v1h-1zM3 67h1v1h-1zM9 67h1v1h-1zM22 67h2v1h-2zM27 67h1v1h-1zM30 67h1v1h-1zM44 67h1v1h-1zM50 67h1v1h-1zM59 67h1v1h-1zM66 67h1v1h-1zM14 68h1v1h-1zM19 68h1v1h-1zM23 68h2v1h-2zM27 68h1v1h-1zM41 68h1v1h-1zM47 68h1v1h-1zM13 69h1v1h-1zM19 69h1v1h-1zM26 69h2v1h-2zM47 69h1v1h-1zM52 69h1v1h-1zM64 69h1v1h-1zM13 70h1v1h-1zM28 70h1v1h-1zM35 70h2v1h-2zM2 71h1v1h-1zM23 71h2v1h-2zM31 71h1v1h-1zM33 71h3v1h-3zM57 71h1v1h-1zM60 71h1v1h-1zM5 72h1v1h-1zM10 72h1v1h-1zM39 72h1v1h-1zM45 72h1v1h-1zM62 72h1v1h-1zM65 72h1v1h-1zM15 73h1v1h-1zM17 73h1v1h-1zM22 73h1v1h-1zM30 73h1v1h-1zM35 73h1v1h-1zM39 73h1v1h-1zM41 73h1v1h-1zM48 73h1v1h-1zM57 73h1v1h-1zM60 73h1v1h-1zM13 74h1v1h-1zM16 74h1v1h-1zM20 74h1v1h-1zM22 74h1v1h-1zM27 74h1v1h-1zM33 74h1v1h-1zM35 74h1v1h-1zM46 74h2v1h-2zM50 74h1v1h-1zM52 74h1v1h-1zM58 74h1v1h-1zM64 74h1v1h-1zM13 75h1v1h-1zM19 75h1v1h-1zM29 75h1v1h-1zM41 75h1v1h-1zM3 76h1v1h-1zM9 76h1v1h-1zM11 76h1v1h-1zM25 76h1v1h-1zM27 76h1v1h-1zM35 76h1v1h-1zM46 76h3v1h-3zM50 76h1v1h-1zM15 77h1v1h-1zM19 77h1v1h-1zM35 77h1v1h-1zM40 77h1v1h-1zM46 77h1v1h-1zM61 77h1v1h-1zM10 78h2v1h-2zM14 78h1v1h-1zM25 78h1v1h-1zM33 78h1v1h-1zM36 78h1v1h-1zM43 78h1v1h-1zM45 78h1v1h-1zM53 78h1v1h-1zM14 79h1v1h-1zM67 79h1v1h-1zM14 80h1v1h-1zM18 80h1v1h-1zM50 80h2v1h-2zM56 80h1v1h-1zM58 80h1v1h-1zM19 81h1v1h-1zM26 81h2v1h-2zM39 81h3v1h-3zM43 81h2v1h-2zM49 81h1v1h-1zM51 81h3v1h-3zM55 81h1v1h-1zM60 81h1v1h-1zM64 81h2v1h-2zM67 81h2v1h-2zM4 82h1v1h-1zM22 82h1v1h-1zM36 82h1v1h-1zM40 82h3v1h-3zM44 82h1v1h-1zM59 82h1v1h-1zM61 82h1v1h-1zM68 82h1v1h-1zM12 83h2v1h-2zM17 83h1v1h-1zM25 83h1v1h-1zM28 83h2v1h-2zM44 83h2v1h-2zM47 83h1v1h-1zM56 83h1v1h-1zM67 83h1v1h-1zM0 84h1v1h-1zM2 84h1v1h-1zM17 84h1v1h-1zM27 84h1v1h-1zM31 84h1v1h-1zM46 84h1v1h-1zM56 84h1v1h-1zM63 84h1v1h-1zM4 85h1v1h-1zM11 85h1v1h-1zM18 85h1v1h-1zM24 85h1v1h-1zM34 85h1v1h-1zM39 85h2v1h-2zM65 85h1v1h-1zM2 86h1v1h-1zM14 86h1v1h-1zM19 86h1v1h-1zM24 86h1v1h-1zM44 86h1v1h-1zM50 86h2v1h-2zM55 86h1v1h-1zM64 86h1v1h-1zM17 87h1v1h-1zM49 87h1v1h-1zM66 87h1v1h-1zM0 88h1v1h-1zM14 88h1v1h-1zM22 88h1v1h-1zM24 88h1v1h-1zM36 88h1v1h-1zM39 88h1v1h-1zM50 88h1v1h-1zM52 88h2v1h-2zM57 88h1v1h-1zM63 88h1v1h-1zM8 89h1v1h-1zM3 90h1v1h-1zM5 90h1v1h-1zM0 91h1v1h-1zM7 91h1v1h-1zM22 91h1v1h-1zM30 91h1v1h-1zM43 91h1v1h-1zM53 91h1v1h-1zM56 91h1v1h-1zM66 91h1v1h-1zM24 92h1v1h-1zM27 92h1v1h-1zM34 92h1v1h-1zM38 92h1v1h-1zM40 92h1v1h-1zM44 92h1v1h-1zM52 92h1v1h-1zM63 92h1v1h-1zM5 93h1v1h-1zM14 93h1v1h-1zM16 93h1v1h-1zM54 93h1v1h-1zM3 94h1v1h-1zM12 94h1v1h-1zM16 94h1v1h-1zM58 94h1v1h-1zM64 94h1v1h-1zM12 95h1v1h-1zM23 95h1v1h-1zM30 95h1v1h-1zM14 96h2v1h-2zM18 96h1v1h-1zM41 96h1v1h-1zM53 96h1v1h-1zM56 96h1v1h-1zM58 96h1v1h-1zM62 96h1v1h-1zM68 96h1v1h-1zM10 97h2v1h-2zM14 97h1v1h-1zM17 97h2v1h-2zM24 97h1v1h-1zM38 97h1v1h-1zM67 97h1v1h-1zM11 98h1v1h-1zM13 98h1v1h-1zM17 98h1v1h-1zM22 98h1v1h-1zM33 98h1v1h-1zM6 99h1v1h-1zM11 99h2v1h-2zM35 99h1v1h-1zM59 99h1v1h-1zM8 100h1v1h-1zM11 100h1v1h-1zM25 100h1v1h-1zM27 100h1v1h-1zM29 100h1v1h-1zM64 100h1v1h-1zM33 101h1v1h-1zM51 101h1v1h-1zM53 101h1v1h-1zM58 101h1v1h-1zM66 101h2v1h-2zM20 102h1v1h-1zM25 102h1v1h-1zM55 102h1v1h-1zM60 102h1v1h-1zM62 102h1v1h-1zM66 102h1v1h-1zM16 103h1v1h-1zM22 103h1v1h-1zM31 103h1v1h-1zM45 103h1v1h-1zM60 103h1v1h-1zM64 103h2v1h-2zM13 104h2v1h-2zM21 104h1v1h-1zM43 104h1v1h-1zM58 104h1v1h-1zM65 104h1v1h-1zM4 105h1v1h-1zM22 105h1v1h-1zM26 105h1v1h-1zM65 105h1v1h-1zM2 106h1v1h-1zM51 106h1v1h-1zM66 106h2v1h-2zM58 107h3v1h-3zM28 108h1v1h-1zM55 108h1v1h-1zM58 108h1v1h-1zM21 109h1v1h-1zM34 109h1v1h-1zM63 109h1v1h-1zM18 110h1v1h-1zM21 110h1v1h-1zM26 110h1v1h-1zM59 110h1v1h-1zM66 110h1v1h-1zM9 111h1v1h-1zM20 111h1v1h-1zM30 111h1v1h-1zM61 111h1v1h-1zM65 111h3v1h-3zM0 112h2v1h-2zM19 112h1v1h-1zM24 112h1v1h-1zM31 112h1v1h-1zM34 112h1v1h-1zM1 113h1v1h-1zM4 113h1v1h-1zM17 113h1v1h-1zM39 113h1v1h-1zM10 114h2v1h-2zM28 114h1v1h-1zM43 114h1v1h-1zM47 114h1v1h-1zM17 115h1v1h-1zM19 115h1v1h-1zM25 115h1v1h-1zM45 115h1v1h-1zM52 115h1v1h-1zM24 116h1v1h-1zM27 116h1v1h-1zM50 116h1v1h-1zM67 116h1v1h-1zM4 117h1v1h-1zM7 117h1v1h-1zM9 118h1v1h-1zM15 118h1v1h-1zM19 118h1v1h-1zM27 118h1v1h-1zM29 118h1v1h-1zM59 118h2v1h-2zM65 118h1v1h-1zM4 119h1v1h-1zM16 119h1v1h-1zM19 119h1v1h-1zM22 119h1v1h-1zM25 119h1v1h-1zM30 119h1v1h-1zM32 119h1v1h-1zM34 119h1v1h-1zM53 119h1v1h-1zM56 119h1v1h-1zM59 119h1v1h-1zM66 119h1v1h-1zM3 120h1v1h-1zM12 120h1v1h-1zM14 120h1v1h-1zM27 120h1v1h-1zM29 120h1v1h-1zM34 120h1v1h-1zM49 120h1v1h-1zM61 120h2v1h-2zM5 121h1v1h-1zM19 121h1v1h-1zM45 121h1v1h-1zM49 121h1v1h-1zM51 121h1v1h-1zM58 121h1v1h-1zM0 122h1v1h-1zM15 122h1v1h-1zM24 122h1v1h-1zM32 122h1v1h-1zM42 122h1v1h-1zM44 122h1v1h-1zM61 122h1v1h-1zM64 122h2v1h-2zM4 123h1v1h-1zM14 123h1v1h-1zM17 123h2v1h-2zM24 123h1v1h-1zM31 123h2v1h-2zM45 123h1v1h-1zM51 123h1v1h-1zM9 124h1v1h-1zM16 124h1v1h-1zM31 124h2v1h-2zM52 124h1v1h-1zM62 124h1v1h-1zM28 125h1v1h-1zM31 125h1v1h-1zM51 125h1v1h-1zM54 125h3v1h-3zM4 126h1v1h-1zM9 126h1v1h-1zM14 126h1v1h-1zM18 126h1v1h-1zM24 126h1v1h-1zM3 127h1v1h-1zM13 127h1v1h-1zM16 127h2v1h-2zM23 127h1v1h-1zM27 127h1v1h-1zM33 127h1v1h-1zM44 127h1v1h-1zM52 127h1v1h-1zM17 128h1v1h-1zM27 128h1v1h-1zM58 128h1v1h-1zM65 128h2v1h-2zM12 129h2v1h-2zM27 129h1v1h-1zM45 129h1v1h-1zM59 129h1v1h-1zM61 129h1v1h-1zM66 129h1v1h-1z"/>
<path fill="#f5ecec" d="M3 0h1v1h-1zM16 0h1v1h-1zM25 0h1v1h-1zM27 0h1v1h-1zM37 0h1v1h-1zM48 0h1v1h-1zM57 0h1v1h-1zM1 1h1v1h-1zM14 1h1v1h-1zM17 1h1v1h-1zM27 1h2v1h-2zM35 1h1v1h-1zM58 1h2v1h-2zM65 1h1v1h-1zM0 2h1v1h-1zM10 2h2v1h-2zM19 2h1v1h-1zM40 2h1v1h-1zM47 2h1v1h-1zM64 2h1v1h-1zM37 3h1v1h-1zM40 3h1v1h-1zM42 3h1v1h-1zM45 3h1v1h-1zM47 3h3v1h-3zM52 3h1v1h-1zM15 4h1v1h-1zM30 4h1v1h-1zM38 4h1v1h-1zM44 4h1v1h-1zM55 4h1v1h-1zM8 5h1v1h-1zM33 5h1v1h-1zM1 6h1v1h-1zM11 6h1v1h-1zM19 6h1v1h-1zM46 6h1v1h-1zM9 7h1v1h-1zM57 7h1v1h-1zM59 7h1v1h-1zM62 7h1v1h-1zM27 8h1v1h-1zM32 8h1v1h-1zM46 8h1v1h-1zM55 8h1v1h-1zM12 9h1v1h-1zM25 9h1v1h-1zM32 9h1v1h-1zM13 10h1v1h-1zM15 10h1v1h-1zM30 10h1v1h-1zM32 10h1v1h-1zM46 10h1v1h-1zM56 10h1v1h-1zM9 11h1v1h-1zM15 11h1v1h-1zM17 11h1v1h-1zM20 11h1v1h-1zM25 11h1v1h-1zM34 11h1v1h-1zM58 11h1v1h-1zM64 11h1v1h-1zM67 11h1v1h-1zM32 12h1v1h-1zM38 12h1v1h-1zM42 12h1v1h-1zM47 12h1v1h-1zM52 12h1v1h-1zM1 13h1v1h-1zM51 13h1v1h-1zM67 13h1v1h-1zM14 14h1v1h-1zM16 14h1v1h-1zM32 14h1v1h-1zM34 14h1v1h-1zM37 14h1v1h-1zM46 14h1v1h-1zM2 15h1v1h-1zM16 15h1v1h-1zM30 15h1v1h-1zM40 15h1v1h-1zM58 15h1v1h-1zM15 16h1v1h-1zM31 16h1v1h-1zM52 16h1v1h-1zM11 17h1v1h-1zM38 17h1v1h-1zM50 17h1v1h-1zM52 17h1v1h-1zM9 18h1v1h-1zM16 18h1v1h-1zM30 18h1v1h-1zM32 18h2v1h-2zM61 18h1v1h-1zM3 19h1v1h-1zM34 19h3v1h-3zM40 19h1v1h-1zM11 20h1v1h-1zM18 20h1v1h-1zM30 20h1v1h-1zM39 20h1v1h-1zM52 20h1v1h-1zM56 20h1v1h-1zM66 20h2v1h-2zM41 21h1v1h-1zM44 21h1v1h-1zM61 21h1v1h-1zM25 22h1v1h-1zM57 22h1v1h-1zM61 22h1v1h-1zM2 23h1v1h-1zM28 23h1v1h-1zM18 24h1v1h-1zM31 24h1v1h-1zM36 24h1v1h-1zM51 24h1v1h-1zM57 24h1v1h-1zM60 24h1v1h-1zM64 24h1v1h-1zM27 25h1v1h-1zM33 25h1v1h-1zM59 25h1v1h-1zM20 26h1v1h-1zM25 26h1v1h-1zM34 26h1v1h-1zM60 26h1v1h-1zM64 26h1v1h-1zM15 27h1v1h-1zM19 27h1v1h-1zM37 27h1v1h-1zM59 27h1v1h-1zM63 27h1v1h-1zM4 28h1v1h-1zM6 28h1v1h-1zM56 28h1v1h-1zM59 28h1v1h-1zM62 28h1v1h-1zM64 28h1v1h-1zM66 28h1v1h-1zM68 28h1v1h-1zM7 29h1v1h-1zM31 29h1v1h-1zM37 29h1v1h-1zM60 29h1v1h-1zM68 29h1v1h-1zM26 30h1v1h-1zM30 30h1v1h-1zM39 30h1v1h-1zM45 30h1v1h-1zM62 30h1v1h-1zM12 31h1v1h-1zM18 31h1v1h-1zM30 31h1v1h-1zM33 31h1v1h-1zM57 31h1v1h-1zM62 31h1v1h-1zM64 31h1v1h-1zM68 31h1v1h-1zM34 32h1v1h-1zM36 32h1v1h-1zM39 33h3v1h-3zM46 33h1v1h-1zM16 34h1v1h-1zM39 34h1v1h-1zM53 34h1v1h-1zM67 34h2v1h-2zM5 35h1v1h-1zM7 35h1v1h-1zM26 35h2v1h-2zM29 35h1v1h-1zM36 35h1v1h-1zM47 35h1v1h-1zM12 36h1v1h-1zM18 36h1v1h-1zM20 36h2v1h-2zM25 36h1v1h-1zM29 36h1v1h-1zM8 37h1v1h-1zM13 37h1v1h-1zM19 37h1v1h-1zM34 37h3v1h-3zM57 37h1v1h-1zM4 38h1v1h-1zM11 38h1v1h-1zM15 38h1v1h-1zM23 38h1v1h-1zM34 38h1v1h-1zM39 38h1v1h-1zM43 38h1v1h-1zM47 38h1v1h-1zM50 38h1v1h-1zM55 38h1v1h-1zM68 38h1v1h-1zM0 39h1v1h-1zM12 39h1v1h-1zM44 39h3v1h-3zM56 39h1v1h-1zM62 39h2v1h-2zM68 39h1v1h-1zM7 40h1v1h-1zM25 40h1v1h-1zM9 41h1v1h-1zM16 41h1v1h-1zM35 41h1v1h-1zM56 41h2v1h-2zM65 41h1v1h-1zM19 42h1v1h-1zM22 42h1v1h-1zM26 42h1v1h-1zM36 42h1v1h-1zM43 42h1v1h-1zM46 42h1v1h-1zM48 42h1v1h-1zM13 43h1v1h-1zM16 43h1v1h-1zM24 43h1v1h-1zM5 44h1v1h-1zM23 44h1v1h-1zM38 44h1v1h-1zM41 44h1v1h-1zM50 44h1v1h-1zM2 45h1v1h-1zM29 45h1v1h-1zM32 45h1v1h-1zM45 45h1v1h-1zM50 45h1v1h-1zM54 45h1v1h-1zM21 46h2v1h-2zM27 46h1v1h-1zM29 46h1v1h-1zM31 46h1v1h-1zM44 46h1v1h-1zM60 46h1v1h-1zM65 46h1v1h-1zM2 47h1v1h-1zM55 47h2v1h-2zM58 47h1v1h-1zM61 47h1v1h-1zM5 48h1v1h-1zM8 48h2v1h-2zM13 48h1v1h-1zM19 48h1v1h-1zM36 48h1v1h-1zM42 48h1v1h-1zM47 48h1v1h-1zM52 48h2v1h-2zM8 49h1v1h-1zM14 49h1v1h-1zM23 49h1v1h-1zM26 49h1v1h-1zM44 49h2v1h-2zM13 50h1v1h-1zM19 50h1v1h-1zM21 50h1v1h-1zM59 50h1v1h-1zM29 51h2v1h-2zM33 51h1v1h-1zM51 51h1v1h-1zM11 52h1v1h-1zM14 52h1v1h-1zM32 52h1v1h-1zM47 52h1v1h-1zM5 53h1v1h-1zM9 53h1v1h-1zM11 53h1v1h-1zM15 53h1v1h-1zM19 53h1v1h-1zM23 53h1v1h-1zM25 53h1v1h-1zM39 53h1v1h-1zM46 53h1v1h-1zM50 53h2v1h-2zM57 53h1v1h-1zM7 54h1v1h-1zM34 54h1v1h-1zM42 54h1v1h-1zM48 54h1v1h-1zM60 54h1v1h-1zM5 55h3v1h-3zM38 55h1v1h-1zM45 55h3v1h-3zM53 55h1v1h-1zM56 55h1v1h-1zM61 55h1v1h-1zM65 55h1v1h-1zM1 56h1v1h-1zM5 56h1v1h-1zM23 56h1v1h-1zM27 56h1v1h-1zM42 56h1v1h-1zM44 56h1v1h-1zM49 56h1v1h-1zM60 56h1v1h-1zM64 56h1v1h-1zM66 56h1v1h-1zM8 57h1v1h-1zM36 57h1v1h-1zM44 57h1v1h-1zM47 57h1v1h-1zM61 57h1v1h-1zM7 58h1v1h-1zM19 58h1v1h-1zM35 58h1v1h-1zM39 58h1v1h-1zM47 58h1v1h-1zM50 58h1v1h-1zM54 58h1v1h-1zM56 58h1v1h-1zM7 59h1v1h-1zM14 59h1v1h-1zM19 59h1v1h-1zM26 59h1v1h-1zM28 59h1v1h-1zM32 59h1v1h-1zM54 59h1v1h-1zM19 60h1v1h-1zM32 60h1v1h-1zM48 60h1v1h-1zM53 60h1v1h-1zM58 60h1v1h-1zM62 60h1v1h-1zM7 61h1v1h-1zM27 61h1v1h-1zM43 61h1v1h-1zM45 61h1v1h-1zM7 62h1v1h-1zM11 62h1v1h-1zM32 62h1v1h-1zM36 62h1v1h-1zM41 62h2v1h-2zM46 62h1v1h-1zM53 62h1v1h-1zM56 62h1v1h-1zM62 62h2v1h-2zM66 62h1v1h-1zM6 63h1v1h-1zM8 63h1v1h-1zM10 63h1v1h-1zM15 63h1v1h-1zM27 63h1v1h-1zM33 63h1v1h-1zM36 63h1v1h-1zM64 63h1v1h-1zM8 64h2v1h-2zM11 64h1v1h-1zM15 64h1v1h-1zM19 64h1v1h-1zM28 64h1v1h-1zM32 64h1v1h-1zM34 64h1v1h-1zM57 64h1v1h-1zM60 64h1v1h-1zM36 65h1v1h-1zM42 65h1v1h-1zM65 65h1v1h-1zM0 66h1v1h-1zM3 66h1v1h-1zM6 66h1v1h-1zM25 66h1v1h-1zM30 66h1v1h-1zM8 67h1v1h-1zM13 67h1v1h-1zM26 67h1v1h-1zM34 67h1v1h-1zM41 67h1v1h-1zM45 67h1v1h-1zM47 67h1v1h-1zM51 67h1v1h-1zM61 67h1v1h-1zM67 67h1v1h-1zM9 68h1v1h-1zM29 68h1v1h-1zM32 68h1v1h-1zM35 68h1v1h-1zM48 68h1v1h-1zM51 68h1v1h-1zM54 68h1v1h-1zM60 68h1v1h-1zM62 68h3v1h-3zM7 69h1v1h-1zM12 69h1v1h-1zM24 69h2v1h-2zM39 69h1v1h-1zM42 69h2v1h-2zM61 69h1v1h-1zM22 70h1v1h-1zM26 70h1v1h-1zM45 70h1v1h-1zM63 70h1v1h-1zM11 71h1v1h-1zM32 71h1v1h-1zM48 71h1v1h-1zM59 71h1v1h-1zM64 71h1v1h-1zM68 71h1v1h-1zM28 72h1v1h-1zM56 72h1v1h-1zM63 72h1v1h-1zM8 73h1v1h-1zM11 73h1v1h-1zM16 73h1v1h-1zM34 73h1v1h-1zM55 73h1v1h-1zM8 74h1v1h-1zM23 74h1v1h-1zM31 74h1v1h-1zM59 74h1v1h-1zM63 74h1v1h-1zM17 75h1v1h-1zM34 75h1v1h-1zM37 75h1v1h-1zM44 75h1v1h-1zM57 75h2v1h-2zM63 75h1v1h-1zM68 75h1v1h-1zM15 76h1v1h-1zM21 76h1v1h-1zM23 76h1v1h-1zM39 76h1v1h-1zM54 76h1v1h-1zM13 77h1v1h-1zM20 77h1v1h-1zM22 77h1v1h-1zM41 77h1v1h-1zM43 77h1v1h-1zM67 77h2v1h-2zM12 78h1v1h-1zM20 78h1v1h-1zM27 78h2v1h-2zM31 78h2v1h-2zM34 78h1v1h-1zM39 78h1v1h-1zM48 78h1v1h-1zM50 78h1v1h-1zM15 79h1v1h-1zM19 79h1v1h-1zM21 79h1v1h-1zM1 80h1v1h-1zM5 80h1v1h-1zM10 80h1v1h-1zM12 80h1v1h-1zM17 80h1v1h-1zM19 80h2v1h-2zM22 80h2v1h-2zM25 80h1v1h-1zM29 80h3v1h-3zM37 80h1v1h-1zM39 80h1v1h-1zM41 80h3v1h-3zM45 80h1v1h-1zM48 80h1v1h-1zM55 80h1v1h-1zM61 80h1v1h-1zM63 80h1v1h-1zM66 80h3v1h-3zM6 81h2v1h-2zM9 81h1v1h-1zM12 81h1v1h-1zM15 81h4v1h-4zM21 81h5v1h-5zM28 81h3v1h-3zM32 81h1v1h-1zM35 81h4v1h-4zM42 81h1v1h-1zM45 81h2v1h-2zM48 81h1v1h-1zM56 81h1v1h-1zM58 81h1v1h-1zM63 81h1v1h-1zM66 81h1v1h-1zM1 82h1v1h-1zM11 82h1v1h-1zM25 82h1v1h-1zM33 82h1v1h-1zM39 82h1v1h-1zM52 82h2v1h-2zM60 82h1v1h-1zM3 83h1v1h-1zM39 83h1v1h-1zM52 83h1v1h-1zM65 83h1v1h-1zM7 84h1v1h-1zM13 84h1v1h-1zM33 84h1v1h-1zM37 84h1v1h-1zM7 85h1v1h-1zM31 85h1v1h-1zM47 85h1v1h-1zM66 85h1v1h-1zM28 86h1v1h-1zM30 86h1v1h-1zM39 86h2v1h-2zM53 86h2v1h-2zM57 86h1v1h-1zM1 87h2v1h-2zM24 87h1v1h-1zM31 87h1v1h-1zM34 87h1v1h-1zM38 87h1v1h-1zM47 87h1v1h-1zM50 87h1v1h-1zM60 87h1v1h-1zM68 87h1v1h-1zM16 88h1v1h-1zM34 88h1v1h-1zM40 88h1v1h-1zM44 88h1v1h-1zM55 88h2v1h-2zM64 88h1v1h-1zM67 88h1v1h-1zM3 89h1v1h-1zM13 89h1v1h-1zM20 89h1v1h-1zM26 89h1v1h-1zM29 89h1v1h-1zM44 89h1v1h-1zM22 90h1v1h-1zM28 90h1v1h-1zM30 90h1v1h-1zM33 90h1v1h-1zM42 90h1v1h-1zM50 90h1v1h-1zM60 90h1v1h-1zM3 91h1v1h-1zM5 91h1v1h-1zM32 91h1v1h-1zM51 91h1v1h-1zM62 91h1v1h-1zM6 92h1v1h-1zM43 92h1v1h-1zM49 92h1v1h-1zM66 92h1v1h-1zM68 92h1v1h-1zM8 93h2v1h-2zM23 93h1v1h-1zM33 93h2v1h-2zM7 94h1v1h-1zM17 94h1v1h-1zM27 94h1v1h-1zM29 94h1v1h-1zM38 94h1v1h-1zM49 94h1v1h-1zM51 94h1v1h-1zM62 94h1v1h-1zM68 94h1v1h-1zM0 95h1v1h-1zM2 95h1v1h-1zM20 95h2v1h-2zM27 95h1v1h-1zM38 95h1v1h-1zM65 95h1v1h-1zM6 96h2v1h-2zM10 96h1v1h-1zM20 96h1v1h-1zM33 96h1v1h-1zM43 96h2v1h-2zM47 96h3v1h-3zM57 96h1v1h-1zM66 96h2v1h-2zM7 97h1v1h-1zM23 97h1v1h-1zM25 97h1v1h-1zM30 97h1v1h-1zM66 97h1v1h-1zM20 98h1v1h-1zM23 98h3v1h-3zM37 98h1v1h-1zM1 99h1v1h-1zM17 99h1v1h-1zM23 99h1v1h-1zM25 99h1v1h-1zM5 100h1v1h-1zM55 100h1v1h-1zM61 100h1v1h-1zM65 100h1v1h-1zM67 100h1v1h-1zM28 101h1v1h-1zM32 101h1v1h-1zM39 101h1v1h-1zM49 101h1v1h-1zM59 101h1v1h-1zM64 101h1v1h-1zM41 102h1v1h-1zM59 102h1v1h-1zM67 102h1v1h-1zM13 103h1v1h-1zM28 103h1v1h-1zM42 103h1v1h-1zM1 104h1v1h-1zM17 104h1v1h-1zM30 104h2v1h-2zM33 104h1v1h-1zM53 104h1v1h-1zM66 104h1v1h-1zM28 105h1v1h-1zM62 105h1v1h-1zM28 106h1v1h-1zM30 106h1v1h-1zM45 106h1v1h-1zM52 106h1v1h-1zM55 106h1v1h-1zM57 106h1v1h-1zM25 107h1v1h-1zM45 107h1v1h-1zM51 107h1v1h-1zM19 108h1v1h-1zM27 108h1v1h-1zM33 108h1v1h-1zM62 108h1v1h-1zM65 108h3v1h-3zM32 109h1v1h-1zM61 109h1v1h-1zM7 110h1v1h-1zM10 110h1v1h-1zM17 110h1v1h-1zM31 110h1v1h-1zM39 110h1v1h-1zM41 110h1v1h-1zM54 110h1v1h-1zM56 110h1v1h-1zM68 110h1v1h-1zM6 111h1v1h-1zM17 111h1v1h-1zM40 111h1v1h-1zM59 111h1v1h-1zM7 112h1v1h-1zM28 112h1v1h-1zM30 112h1v1h-1zM41 112h1v1h-1zM45 112h1v1h-1zM47 112h1v1h-1zM54 112h1v1h-1zM66 112h1v1h-1zM5 113h1v1h-1zM7 113h1v1h-1zM9 113h1v1h-1zM12 113h1v1h-1zM22 113h1v1h-1zM52 113h1v1h-1zM0 114h1v1h-1zM6 114h1v1h-1zM8 114h1v1h-1zM51 114h1v1h-1zM65 114h2v1h-2zM14 115h1v1h-1zM22 115h1v1h-1zM26 115h1v1h-1zM36 115h1v1h-1zM58 115h1v1h-1zM68 115h1v1h-1zM7 116h1v1h-1zM9 116h2v1h-2zM23 116h1v1h-1zM25 116h1v1h-1zM31 116h1v1h-1zM35 116h1v1h-1zM43 116h1v1h-1zM45 116h1v1h-1zM58 116h1v1h-1zM16 117h1v1h-1zM32 117h2v1h-2zM44 117h1v1h-1zM53 117h1v1h-1zM56 117h1v1h-1zM63 117h1v1h-1zM65 117h1v1h-1zM5 118h1v1h-1zM20 118h1v1h-1zM22 118h1v1h-1zM24 118h1v1h-1zM28 118h1v1h-1zM40 118h3v1h-3zM54 118h1v1h-1zM66 118h1v1h-1zM1 119h1v1h-1zM9 119h2v1h-2zM14 119h1v1h-1zM17 119h1v1h-1zM57 119h1v1h-1zM9 120h1v1h-1zM13 120h1v1h-1zM21 120h2v1h-2zM68 120h1v1h-1zM17 121h1v1h-1zM20 121h1v1h-1zM24 121h1v1h-1zM31 121h1v1h-1zM34 121h1v1h-1zM42 121h1v1h-1zM46 121h1v1h-1zM48 121h1v1h-1zM8 122h1v1h-1zM16 122h2v1h-2zM29 122h1v1h-1zM11 123h2v1h-2zM20 123h1v1h-1zM60 123h1v1h-1zM4 124h1v1h-1zM7 124h1v1h-1zM12 124h1v1h-1zM21 124h1v1h-1zM27 124h1v1h-1zM34 124h1v1h-1zM44 124h1v1h-1zM47 124h1v1h-1zM54 124h1v1h-1zM56 124h1v1h-1zM4 125h1v1h-1zM8 125h1v1h-1zM33 125h1v1h-1zM38 125h2v1h-2zM49 125h1v1h-1zM52 125h1v1h-1zM12 126h2v1h-2zM19 126h1v1h-1zM23 126h1v1h-1zM28 126h1v1h-1zM41 126h1v1h-1zM65 126h1v1h-1zM4 127h1v1h-1zM42 127h1v1h-1zM49 127h1v1h-1zM55 127h1v1h-1zM62 127h1v1h-1zM12 128h1v1h-1zM14 128h1v1h-1zM28 128h1v1h-1zM30 128h1v1h-1zM33 128h2v1h-2zM44 128h2v1h-2zM5 129h1v1h-1zM10 129h1v1h-1zM36 129h1v1h-1zM41 129h2v1h-2zM50 129h1v1h-1z"/>
<path fill="#f6dddb" d="M10 0h2v1h-2zM14 0h1v1h-1zM26 0h1v1h-1zM52 0h3v1h-3zM9 1h1v1h-1zM11 1h1v1h-1zM16 1h1v1h-1zM31 1h1v1h-1zM47 1h1v1h-1zM50 1h1v1h-1zM60 1h1v1h-1zM64 1h1v1h-1zM17 2h1v1h-1zM20 2h1v1h-1zM23 2h1v1h-1zM25 2h1v1h-1zM35 2h1v1h-1zM43 2h1v1h-1zM50 2h1v1h-1zM57 2h1v1h-1zM65 2h1v1h-1zM67 2h2v1h-2zM16 3h1v1h-1zM18 3h1v1h-1zM21 3h1v1h-1zM26 3h1v1h-1zM30 3h1v1h-1zM51 3h1v1h-1zM55 3h1v1h-1zM6 4h1v1h-1zM9 4h1v1h-1zM45 4h1v1h-1zM51 4h1v1h-1zM53 4h1v1h-1zM22 5h1v1h-1zM27 5h2v1h-2zM39 5h1v1h-1zM41 5h1v1h-1zM46 5h1v1h-1zM50 5h1v1h-1zM54 5h1v1h-1zM3 6h1v1h-1zM10 6h1v1h-1zM13 6h1v1h-1zM18 6h1v1h-1zM24 6h1v1h-1zM30 6h1v1h-1zM33 6h1v1h-1zM54 6h1v1h-1zM59 6h1v1h-1zM6 7h1v1h-1zM13 7h1v1h-1zM16 7h2v1h-2zM23 7h1v1h-1zM46 7h1v1h-1zM53 7h1v1h-1zM56 7h1v1h-1zM63 7h1v1h-1zM65 7h1v1h-1zM67 7h1v1h-1zM3 8h1v1h-1zM5 8h1v1h-1zM13 8h1v1h-1zM26 8h1v1h-1zM33 8h1v1h-1zM39 8h1v1h-1zM44 8h1v1h-1zM54 8h1v1h-1zM58 8h1v1h-1zM61 8h1v1h-1zM67 8h1v1h-1zM2 9h1v1h-1zM51 9h1v1h-1zM64 9h1v1h-1zM10 10h1v1h-1zM14 10h1v1h-1zM17 10h2v1h-2zM27 10h1v1h-1zM36 10h1v1h-1zM43 10h2v1h-2zM55 10h1v1h-1zM11 11h1v1h-1zM16 11h1v1h-1zM29 11h1v1h-1zM31 11h1v1h-1zM56 11h1v1h-1zM61 11h1v1h-1zM5 12h1v1h-1zM18 12h1v1h-1zM36 12h1v1h-1zM5 13h1v1h-1zM8 13h1v1h-1zM10 13h1v1h-1zM12 13h2v1h-2zM15 13h1v1h-1zM17 13h1v1h-1zM34 13h1v1h-1zM40 13h1v1h-1zM55 13h1v1h-1zM64 13h1v1h-1zM0 14h1v1h-1zM10 14h1v1h-1zM26 14h2v1h-2zM36 14h1v1h-1zM53 14h1v1h-1zM59 14h2v1h-2zM18 15h1v1h-1zM29 15h1v1h-1zM31 15h2v1h-2zM35 15h1v1h-1zM51 15h1v1h-1zM54 15h1v1h-1zM62 15h1v1h-1zM1 16h1v1h-1zM7 16h1v1h-1zM14 16h1v1h-1zM17 16h1v1h-1zM53 16h1v1h-1zM61 16h1v1h-1zM64 16h1v1h-1zM16 17h1v1h-1zM25 17h1v1h-1zM32 17h1v1h-1zM46 17h2v1h-2zM0 18h1v1h-1zM5 18h2v1h-2zM17 18h1v1h-1zM26 18h2v1h-2zM39 18h1v1h-1zM60 18h1v1h-1zM9 19h1v1h-1zM15 19h1v1h-1zM32 19h1v1h-1zM38 19h1v1h-1zM53 19h2v1h-2zM60 19h1v1h-1zM12 20h1v1h-1zM48 20h1v1h-1zM59 20h1v1h-1zM29 21h1v1h-1zM35 21h1v1h-1zM40 21h1v1h-1zM64 21h1v1h-1zM2 22h2v1h-2zM6 22h1v1h-1zM37 22h1v1h-1zM60 22h1v1h-1zM65 22h1v1h-1zM19 23h1v1h-1zM33 23h1v1h-1zM36 23h1v1h-1zM39 23h1v1h-1zM60 23h1v1h-1zM2 24h1v1h-1zM15 24h1v1h-1zM26 24h2v1h-2zM62 24h1v1h-1zM18 25h1v1h-1zM22 25h2v1h-2zM25 25h1v1h-1zM30 25h2v1h-2zM60 25h1v1h-1zM26 26h1v1h-1zM28 26h1v1h-1zM42 26h1v1h-1zM57 26h1v1h-1zM59 26h1v1h-1zM65 26h1v1h-1zM68 26h1v1h-1zM2 27h1v1h-1zM46 27h1v1h-1zM56 27h1v1h-1zM65 27h1v1h-1zM68 27h1v1h-1zM28 28h1v1h-1zM29 29h1v1h-1zM56 29h1v1h-1zM58 29h1v1h-1zM61 29h1v1h-1zM3 30h1v1h-1zM19 30h1v1h-1zM46 30h1v1h-1zM54 31h1v1h-1zM65 31h1v1h-1zM6 32h1v1h-1zM37 32h1v1h-1zM41 32h1v1h-1zM48 32h1v1h-1zM57 32h1v1h-1zM32 33h1v1h-1zM44 33h1v1h-1zM50 33h1v1h-1zM57 33h1v1h-1zM64 33h1v1h-1zM10 34h1v1h-1zM31 34h1v1h-1zM64 34h1v1h-1zM9 35h3v1h-3zM14 35h1v1h-1zM17 35h1v1h-1zM23 35h1v1h-1zM34 35h1v1h-1zM41 35h1v1h-1zM45 35h1v1h-1zM16 36h1v1h-1zM32 36h1v1h-1zM51 36h1v1h-1zM16 37h1v1h-1zM24 37h1v1h-1zM40 37h1v1h-1zM61 37h1v1h-1zM21 38h1v1h-1zM56 38h1v1h-1zM11 39h1v1h-1zM31 39h1v1h-1zM36 39h1v1h-1zM52 39h1v1h-1zM66 39h1v1h-1zM13 40h1v1h-1zM39 40h1v1h-1zM47 40h1v1h-1zM53 40h1v1h-1zM56 40h1v1h-1zM4 41h1v1h-1zM7 41h1v1h-1zM29 41h2v1h-2zM36 41h1v1h-1zM29 42h1v1h-1zM33 42h1v1h-1zM4 43h1v1h-1zM19 43h1v1h-1zM21 43h2v1h-2zM29 43h1v1h-1zM43 43h1v1h-1zM47 43h2v1h-2zM50 43h2v1h-2zM56 43h1v1h-1zM4 44h1v1h-1zM18 44h1v1h-1zM21 44h1v1h-1zM42 44h2v1h-2zM46 44h1v1h-1zM52 44h1v1h-1zM55 44h1v1h-1zM33 45h1v1h-1zM53 45h1v1h-1zM63 45h1v1h-1zM65 45h1v1h-1zM32 46h1v1h-1zM32 47h1v1h-1zM50 47h1v1h-1zM67 47h1v1h-1zM1 48h1v1h-1zM6 48h1v1h-1zM24 48h1v1h-1zM57 48h1v1h-1zM65 48h1v1h-1zM0 49h1v1h-1zM7 49h1v1h-1zM9 49h1v1h-1zM13 49h1v1h-1zM37 49h1v1h-1zM42 49h2v1h-2zM49 49h1v1h-1zM0 50h1v1h-1zM7 50h2v1h-2zM25 50h1v1h-1zM28 50h1v1h-1zM32 50h1v1h-1zM53 50h2v1h-2zM60 50h1v1h-1zM64 50h1v1h-1zM68 50h1v1h-1zM4 51h3v1h-3zM21 51h1v1h-1zM23 51h1v1h-1zM48 51h1v1h-1zM59 51h1v1h-1zM66 51h1v1h-1zM2 52h1v1h-1zM13 52h1v1h-1zM25 52h1v1h-1zM42 52h1v1h-1zM46 52h1v1h-1zM4 53h1v1h-1zM26 53h1v1h-1zM3 54h1v1h-1zM19 54h1v1h-1zM37 54h1v1h-1zM44 54h1v1h-1zM0 55h3v1h-3zM9 55h2v1h-2zM16 55h1v1h-1zM34 55h1v1h-1zM42 55h1v1h-1zM48 55h1v1h-1zM57 55h1v1h-1zM11 56h1v1h-1zM22 56h1v1h-1zM35 56h1v1h-1zM48 56h1v1h-1zM53 56h1v1h-1zM57 56h1v1h-1zM59 56h1v1h-1zM63 56h1v1h-1zM1 57h1v1h-1zM38 57h1v1h-1zM45 57h1v1h-1zM52 57h1v1h-1zM60 57h1v1h-1zM2 58h1v1h-1zM12 58h1v1h-1zM20 58h1v1h-1zM24 58h1v1h-1zM30 58h1v1h-1zM44 58h1v1h-1zM55 58h1v1h-1zM18 59h1v1h-1zM39 59h1v1h-1zM61 59h1v1h-1zM64 59h1v1h-1zM8 60h1v1h-1zM13 60h1v1h-1zM38 60h2v1h-2zM51 60h2v1h-2zM66 60h1v1h-1zM1 61h1v1h-1zM10 61h1v1h-1zM34 61h1v1h-1zM47 61h1v1h-1zM52 61h1v1h-1zM57 61h1v1h-1zM64 61h2v1h-2zM8 62h1v1h-1zM23 62h1v1h-1zM55 62h1v1h-1zM61 62h1v1h-1zM2 63h1v1h-1zM5 63h1v1h-1zM13 63h2v1h-2zM26 63h1v1h-1zM37 63h1v1h-1zM54 63h1v1h-1zM56 63h1v1h-1zM7 64h1v1h-1zM20 64h1v1h-1zM22 64h1v1h-1zM24 64h1v1h-1zM31 64h1v1h-1zM45 64h1v1h-1zM54 64h1v1h-1zM6 65h1v1h-1zM15 65h1v1h-1zM21 65h1v1h-1zM25 65h1v1h-1zM30 65h1v1h-1zM32 65h1v1h-1zM35 65h1v1h-1zM40 65h1v1h-1zM44 65h1v1h-1zM48 65h1v1h-1zM60 65h2v1h-2zM67 65h1v1h-1zM2 66h1v1h-1zM24 66h1v1h-1zM57 66h1v1h-1zM61 66h1v1h-1zM32 67h1v1h-1zM38 67h1v1h-1zM58 67h1v1h-1zM20 68h1v1h-1zM34 68h1v1h-1zM56 68h1v1h-1zM58 68h1v1h-1zM61 68h1v1h-1zM6 69h1v1h-1zM20 69h1v1h-1zM22 69h1v1h-1zM38 69h1v1h-1zM53 69h1v1h-1zM65 69h1v1h-1zM67 69h1v1h-1zM10 70h1v1h-1zM27 70h1v1h-1zM30 70h1v1h-1zM38 70h1v1h-1zM52 70h1v1h-1zM57 70h1v1h-1zM62 70h1v1h-1zM65 70h1v1h-1zM8 71h1v1h-1zM14 71h1v1h-1zM26 71h1v1h-1zM29 71h2v1h-2zM37 71h3v1h-3zM41 72h1v1h-1zM50 72h1v1h-1zM54 72h1v1h-1zM59 72h1v1h-1zM66 72h1v1h-1zM27 73h1v1h-1zM59 73h1v1h-1zM10 74h1v1h-1zM12 74h1v1h-1zM21 74h1v1h-1zM28 74h1v1h-1zM40 74h1v1h-1zM43 74h1v1h-1zM48 74h1v1h-1zM8 75h1v1h-1zM11 75h1v1h-1zM45 75h1v1h-1zM49 75h1v1h-1zM67 75h1v1h-1zM0 76h1v1h-1zM14 76h1v1h-1zM26 76h1v1h-1zM30 76h1v1h-1zM51 76h1v1h-1zM57 76h1v1h-1zM9 77h1v1h-1zM12 77h1v1h-1zM24 77h1v1h-1zM28 77h1v1h-1zM38 77h2v1h-2zM45 77h1v1h-1zM47 77h2v1h-2zM63 77h1v1h-1zM2 78h1v1h-1zM46 78h2v1h-2zM59 78h1v1h-1zM63 78h1v1h-1zM66 78h1v1h-1zM68 78h1v1h-1zM13 79h1v1h-1zM26 79h2v1h-2zM29 79h2v1h-2zM34 79h1v1h-1zM41 79h2v1h-2zM49 79h1v1h-1zM51 79h1v1h-1zM54 79h1v1h-1zM0 80h1v1h-1zM2 80h3v1h-3zM7 80h1v1h-1zM13 80h1v1h-1zM15 80h1v1h-1zM21 80h1v1h-1zM24 80h1v1h-1zM26 80h3v1h-3zM34 80h2v1h-2zM38 80h1v1h-1zM40 80h1v1h-1zM44 80h1v1h-1zM46 80h1v1h-1zM49 80h1v1h-1zM52 80h2v1h-2zM59 80h1v1h-1zM62 80h1v1h-1zM0 81h6v1h-6zM8 81h1v1h-1zM10 81h2v1h-2zM13 81h2v1h-2zM20 81h1v1h-1zM34 81h1v1h-1zM47 81h1v1h-1zM50 81h1v1h-1zM54 81h1v1h-1zM59 81h1v1h-1zM61 81h2v1h-2zM5 82h1v1h-1zM13 82h1v1h-1zM43 82h1v1h-1zM45 82h1v1h-1zM5 83h1v1h-1zM21 83h1v1h-1zM42 83h1v1h-1zM55 83h1v1h-1zM57 83h1v1h-1zM11 84h1v1h-1zM34 84h1v1h-1zM48 84h1v1h-1zM62 84h1v1h-1zM9 85h1v1h-1zM29 85h1v1h-1zM59 85h1v1h-1zM61 85h1v1h-1zM0 86h1v1h-1zM4 86h1v1h-1zM31 86h1v1h-1zM35 86h1v1h-1zM38 86h1v1h-1zM43 86h1v1h-1zM52 86h1v1h-1zM52 87h1v1h-1zM62 87h1v1h-1zM35 88h1v1h-1zM49 88h1v1h-1zM58 88h1v1h-1zM65 88h1v1h-1zM11 89h1v1h-1zM51 89h1v1h-1zM65 89h1v1h-1zM68 89h1v1h-1zM6 90h1v1h-1zM19 90h2v1h-2zM24 90h1v1h-1zM31 90h2v1h-2zM34 90h1v1h-1zM44 90h1v1h-1zM62 90h1v1h-1zM2 91h1v1h-1zM20 91h1v1h-1zM26 91h1v1h-1zM59 91h1v1h-1zM63 91h1v1h-1zM65 91h1v1h-1zM5 92h1v1h-1zM30 92h1v1h-1zM48 92h1v1h-1zM53 92h1v1h-1zM19 93h1v1h-1zM31 93h2v1h-2zM67 93h1v1h-1zM19 94h1v1h-1zM21 94h1v1h-1zM32 94h1v1h-1zM34 94h1v1h-1zM42 94h1v1h-1zM57 94h1v1h-1zM65 94h1v1h-1zM15 95h1v1h-1zM32 95h1v1h-1zM34 95h1v1h-1zM41 95h1v1h-1zM45 95h2v1h-2zM58 95h1v1h-1zM5 96h1v1h-1zM11 96h1v1h-1zM17 96h1v1h-1zM34 96h1v1h-1zM40 96h1v1h-1zM51 96h1v1h-1zM54 96h1v1h-1zM64 96h1v1h-1zM2 97h1v1h-1zM4 97h1v1h-1zM8 97h1v1h-1zM28 97h1v1h-1zM43 97h1v1h-1zM50 97h1v1h-1zM63 97h1v1h-1zM14 98h1v1h-1zM19 98h1v1h-1zM32 98h1v1h-1zM41 98h1v1h-1zM47 98h1v1h-1zM54 98h1v1h-1zM67 98h1v1h-1zM14 99h1v1h-1zM16 99h1v1h-1zM33 99h1v1h-1zM36 99h1v1h-1zM39 99h1v1h-1zM45 99h1v1h-1zM49 99h2v1h-2zM65 99h1v1h-1zM1 100h1v1h-1zM3 100h1v1h-1zM30 100h1v1h-1zM68 100h1v1h-1zM21 101h1v1h-1zM47 101h1v1h-1zM4 102h1v1h-1zM28 102h1v1h-1zM32 102h1v1h-1zM58 102h1v1h-1zM32 103h1v1h-1zM34 103h1v1h-1zM51 103h1v1h-1zM58 103h1v1h-1zM30 105h1v1h-1zM52 105h1v1h-1zM61 105h1v1h-1zM66 105h1v1h-1zM34 106h1v1h-1zM38 106h1v1h-1zM1 108h1v1h-1zM12 108h1v1h-1zM30 108h1v1h-1zM36 108h1v1h-1zM53 108h2v1h-2zM4 109h1v1h-1zM12 109h1v1h-1zM22 109h1v1h-1zM29 109h1v1h-1zM31 109h1v1h-1zM44 109h1v1h-1zM57 109h1v1h-1zM0 110h1v1h-1zM27 110h1v1h-1zM33 110h1v1h-1zM35 110h1v1h-1zM47 110h1v1h-1zM49 110h1v1h-1zM5 111h1v1h-1zM12 111h1v1h-1zM15 111h1v1h-1zM22 111h1v1h-1zM32 111h1v1h-1zM57 111h1v1h-1zM63 111h1v1h-1zM10 112h2v1h-2zM21 112h1v1h-1zM42 112h1v1h-1zM2 113h1v1h-1zM33 113h1v1h-1zM41 113h1v1h-1zM45 113h1v1h-1zM49 113h1v1h-1zM57 113h1v1h-1zM63 113h1v1h-1zM2 114h1v1h-1zM7 114h1v1h-1zM22 114h1v1h-1zM35 114h1v1h-1zM63 114h1v1h-1zM30 115h1v1h-1zM32 115h1v1h-1zM62 115h1v1h-1zM67 115h1v1h-1zM4 116h1v1h-1zM12 116h1v1h-1zM17 116h1v1h-1zM32 116h1v1h-1zM34 116h1v1h-1zM47 116h1v1h-1zM51 116h1v1h-1zM17 117h2v1h-2zM20 117h1v1h-1zM22 117h1v1h-1zM34 117h1v1h-1zM38 117h1v1h-1zM42 117h1v1h-1zM10 118h2v1h-2zM21 118h1v1h-1zM31 118h1v1h-1zM51 118h1v1h-1zM57 118h1v1h-1zM6 119h2v1h-2zM27 119h1v1h-1zM44 119h1v1h-1zM49 119h1v1h-1zM51 119h1v1h-1zM62 119h1v1h-1zM4 120h1v1h-1zM11 120h1v1h-1zM18 120h1v1h-1zM25 120h1v1h-1zM38 121h2v1h-2zM5 122h1v1h-1zM18 122h2v1h-2zM22 122h1v1h-1zM30 122h2v1h-2zM33 122h1v1h-1zM54 122h2v1h-2zM59 122h1v1h-1zM66 122h1v1h-1zM13 123h1v1h-1zM49 123h1v1h-1zM67 123h1v1h-1zM6 124h1v1h-1zM13 124h1v1h-1zM24 124h1v1h-1zM37 124h1v1h-1zM22 125h1v1h-1zM36 125h1v1h-1zM44 125h1v1h-1zM0 126h1v1h-1zM25 126h1v1h-1zM27 126h1v1h-1zM30 126h1v1h-1zM33 126h1v1h-1zM43 126h1v1h-1zM47 126h1v1h-1zM51 126h1v1h-1zM56 126h1v1h-1zM9 127h1v1h-1zM12 127h1v1h-1zM29 127h1v1h-1zM56 127h1v1h-1zM68 127h1v1h-1zM8 128h1v1h-1zM11 128h1v1h-1zM29 128h1v1h-1zM32 128h1v1h-1zM37 128h1v1h-1zM46 128h1v1h-1zM50 128h1v1h-1zM11 129h1v1h-1zM16 129h1v1h-1zM18 129h1v1h-1zM30 129h1v1h-1zM52 129h1v1h-1z"/>
<path fill="#f5cdc7" d="M7 0h1v1h-1zM19 0h1v1h-1zM22 0h2v1h-2zM31 0h1v1h-1zM35 0h1v1h-1zM39 0h1v1h-1zM46 0h1v1h-1zM66 0h1v1h-1zM5 1h1v1h-1zM18 1h1v1h-1zM25 1h1v1h-1zM33 1h1v1h-1zM54 1h1v1h-1zM56 1h1v1h-1zM67 1h1v1h-1zM12 2h1v1h-1zM14 2h3v1h-3zM26 2h1v1h-1zM28 2h1v1h-1zM39 2h1v1h-1zM58 2h1v1h-1zM66 2h1v1h-1zM3 3h1v1h-1zM10 3h1v1h-1zM15 3h1v1h-1zM53 3h1v1h-1zM11 4h1v1h-1zM16 4h2v1h-2zM25 4h1v1h-1zM27 4h1v1h-1zM48 4h1v1h-1zM9 5h2v1h-2zM12 5h1v1h-1zM31 5h2v1h-2zM56 5h1v1h-1zM62 5h1v1h-1zM48 6h1v1h-1zM61 6h1v1h-1zM64 6h1v1h-1zM8 7h1v1h-1zM20 7h1v1h-1zM47 7h1v1h-1zM58 7h1v1h-1zM61 7h1v1h-1zM17 8h1v1h-1zM23 8h1v1h-1zM31 8h1v1h-1zM50 8h1v1h-1zM56 8h1v1h-1zM8 9h1v1h-1zM11 9h1v1h-1zM13 9h1v1h-1zM28 9h1v1h-1zM48 9h1v1h-1zM11 10h1v1h-1zM28 10h1v1h-1zM39 10h1v1h-1zM42 10h1v1h-1zM45 10h1v1h-1zM53 10h1v1h-1zM61 10h1v1h-1zM5 11h1v1h-1zM8 11h1v1h-1zM26 11h1v1h-1zM28 11h1v1h-1zM33 11h1v1h-1zM47 11h1v1h-1zM8 12h1v1h-1zM11 12h1v1h-1zM27 12h1v1h-1zM31 12h1v1h-1zM41 12h1v1h-1zM45 12h1v1h-1zM16 13h1v1h-1zM26 13h1v1h-1zM30 13h1v1h-1zM48 13h1v1h-1zM61 13h2v1h-2zM9 14h1v1h-1zM17 14h1v1h-1zM25 14h1v1h-1zM40 14h1v1h-1zM27 15h2v1h-2zM57 15h1v1h-1zM63 15h1v1h-1zM12 16h1v1h-1zM30 16h1v1h-1zM54 16h1v1h-1zM59 16h1v1h-1zM62 16h1v1h-1zM5 17h1v1h-1zM9 17h1v1h-1zM15 17h1v1h-1zM64 17h2v1h-2zM2 18h1v1h-1zM8 18h1v1h-1zM12 18h2v1h-2zM31 18h1v1h-1zM40 18h1v1h-1zM54 18h3v1h-3zM64 18h1v1h-1zM67 18h1v1h-1zM2 19h1v1h-1zM12 19h1v1h-1zM27 19h1v1h-1zM52 19h1v1h-1zM61 19h1v1h-1zM67 19h1v1h-1zM4 20h1v1h-1zM20 20h1v1h-1zM25 20h1v1h-1zM33 20h1v1h-1zM57 20h1v1h-1zM68 20h1v1h-1zM32 21h1v1h-1zM36 21h1v1h-1zM51 21h1v1h-1zM55 21h1v1h-1zM67 21h1v1h-1zM16 22h1v1h-1zM18 22h1v1h-1zM26 22h1v1h-1zM55 22h1v1h-1zM62 22h1v1h-1zM6 23h1v1h-1zM18 23h1v1h-1zM25 23h1v1h-1zM32 23h1v1h-1zM42 23h1v1h-1zM0 24h1v1h-1zM28 24h1v1h-1zM30 24h1v1h-1zM63 24h1v1h-1zM67 24h1v1h-1zM28 25h1v1h-1zM65 25h1v1h-1zM2 26h1v1h-1zM6 26h1v1h-1zM12 26h2v1h-2zM52 26h1v1h-1zM62 26h1v1h-1zM5 27h1v1h-1zM29 27h1v1h-1zM0 28h1v1h-1zM3 28h1v1h-1zM5 28h1v1h-1zM9 28h1v1h-1zM65 28h1v1h-1zM1 29h1v1h-1zM65 29h1v1h-1zM15 30h1v1h-1zM20 30h1v1h-1zM29 30h1v1h-1zM59 30h2v1h-2zM2 31h1v1h-1zM17 31h1v1h-1zM27 31h1v1h-1zM66 31h1v1h-1zM1 32h2v1h-2zM27 32h1v1h-1zM53 32h1v1h-1zM66 32h1v1h-1zM4 33h1v1h-1zM6 33h1v1h-1zM18 33h1v1h-1zM42 33h1v1h-1zM52 33h1v1h-1zM65 33h2v1h-2zM4 34h1v1h-1zM6 34h1v1h-1zM13 34h1v1h-1zM25 34h1v1h-1zM56 34h2v1h-2zM1 35h1v1h-1zM4 35h1v1h-1zM24 35h1v1h-1zM24 36h1v1h-1zM31 36h1v1h-1zM57 36h1v1h-1zM59 36h1v1h-1zM29 37h1v1h-1zM56 37h1v1h-1zM58 37h1v1h-1zM14 38h1v1h-1zM29 38h2v1h-2zM32 38h1v1h-1zM45 38h1v1h-1zM60 38h2v1h-2zM63 38h1v1h-1zM67 38h1v1h-1zM18 39h1v1h-1zM28 39h2v1h-2zM48 39h1v1h-1zM50 39h1v1h-1zM14 40h1v1h-1zM36 40h1v1h-1zM41 40h1v1h-1zM48 40h1v1h-1zM51 40h1v1h-1zM54 40h2v1h-2zM31 41h1v1h-1zM44 41h1v1h-1zM53 41h1v1h-1zM59 41h1v1h-1zM8 42h1v1h-1zM14 42h1v1h-1zM31 42h1v1h-1zM49 42h1v1h-1zM27 43h1v1h-1zM35 43h1v1h-1zM51 44h1v1h-1zM66 44h1v1h-1zM7 45h1v1h-1zM41 45h1v1h-1zM59 45h1v1h-1zM56 46h1v1h-1zM63 46h1v1h-1zM64 47h1v1h-1zM10 48h1v1h-1zM14 48h2v1h-2zM39 48h1v1h-1zM59 48h1v1h-1zM1 49h1v1h-1zM3 49h1v1h-1zM24 49h1v1h-1zM51 49h1v1h-1zM23 50h1v1h-1zM31 50h1v1h-1zM39 50h1v1h-1zM50 50h1v1h-1zM55 50h1v1h-1zM61 50h2v1h-2zM0 51h1v1h-1zM3 51h1v1h-1zM19 51h1v1h-1zM62 51h1v1h-1zM1 52h1v1h-1zM6 52h1v1h-1zM10 52h1v1h-1zM24 52h1v1h-1zM29 52h1v1h-1zM39 52h1v1h-1zM43 52h1v1h-1zM51 52h1v1h-1zM56 52h1v1h-1zM1 53h1v1h-1zM21 53h1v1h-1zM29 53h1v1h-1zM34 53h1v1h-1zM48 53h1v1h-1zM52 53h1v1h-1zM65 53h1v1h-1zM2 54h1v1h-1zM6 54h1v1h-1zM9 54h1v1h-1zM21 54h4v1h-4zM51 54h1v1h-1zM53 54h2v1h-2zM65 54h1v1h-1zM15 55h1v1h-1zM22 55h1v1h-1zM36 55h2v1h-2zM39 55h1v1h-1zM49 55h1v1h-1zM58 55h1v1h-1zM6 56h1v1h-1zM15 56h1v1h-1zM28 56h1v1h-1zM39 56h1v1h-1zM41 56h1v1h-1zM46 56h1v1h-1zM58 56h1v1h-1zM62 56h1v1h-1zM68 56h1v1h-1zM0 57h1v1h-1zM2 57h1v1h-1zM5 57h1v1h-1zM9 57h1v1h-1zM37 57h1v1h-1zM55 57h1v1h-1zM59 57h1v1h-1zM63 57h1v1h-1zM68 57h1v1h-1zM11 58h1v1h-1zM15 58h1v1h-1zM27 58h1v1h-1zM31 58h2v1h-2zM20 59h1v1h-1zM24 59h1v1h-1zM34 59h1v1h-1zM51 59h1v1h-1zM3 60h1v1h-1zM23 60h1v1h-1zM26 60h1v1h-1zM28 60h1v1h-1zM50 60h1v1h-1zM55 60h1v1h-1zM0 61h1v1h-1zM8 61h1v1h-1zM26 61h1v1h-1zM32 61h2v1h-2zM48 61h1v1h-1zM67 61h1v1h-1zM16 62h1v1h-1zM20 62h1v1h-1zM39 62h1v1h-1zM47 62h1v1h-1zM20 63h1v1h-1zM34 63h1v1h-1zM55 63h1v1h-1zM1 64h1v1h-1zM17 64h1v1h-1zM25 64h1v1h-1zM3 65h1v1h-1zM8 65h1v1h-1zM19 65h1v1h-1zM28 65h1v1h-1zM31 65h1v1h-1zM52 65h1v1h-1zM7 66h1v1h-1zM43 66h1v1h-1zM0 67h1v1h-1zM10 67h2v1h-2zM15 67h1v1h-1zM21 67h1v1h-1zM36 67h2v1h-2zM64 67h2v1h-2zM3 68h1v1h-1zM40 68h1v1h-1zM55 68h1v1h-1zM66 68h3v1h-3zM15 69h1v1h-1zM18 69h1v1h-1zM37 69h1v1h-1zM55 69h1v1h-1zM63 69h1v1h-1zM12 70h1v1h-1zM37 70h1v1h-1zM46 70h1v1h-1zM58 70h1v1h-1zM16 71h1v1h-1zM22 71h1v1h-1zM44 71h1v1h-1zM51 71h1v1h-1zM54 71h1v1h-1zM62 71h1v1h-1zM67 72h1v1h-1zM3 73h1v1h-1zM46 73h1v1h-1zM53 73h1v1h-1zM58 73h1v1h-1zM61 73h1v1h-1zM64 73h1v1h-1zM9 74h1v1h-1zM17 74h1v1h-1zM26 74h1v1h-1zM32 74h1v1h-1zM37 74h1v1h-1zM42 74h1v1h-1zM44 74h1v1h-1zM30 75h1v1h-1zM35 75h1v1h-1zM18 76h1v1h-1zM42 76h1v1h-1zM61 76h1v1h-1zM65 76h1v1h-1zM11 77h1v1h-1zM14 77h1v1h-1zM32 77h1v1h-1zM42 77h1v1h-1zM51 77h1v1h-1zM53 77h1v1h-1zM60 77h1v1h-1zM64 77h1v1h-1zM5 78h1v1h-1zM16 78h1v1h-1zM24 78h1v1h-1zM51 78h1v1h-1zM57 78h1v1h-1zM67 78h1v1h-1zM2 79h1v1h-1zM28 79h1v1h-1zM31 79h1v1h-1zM35 79h1v1h-1zM45 79h1v1h-1zM6 80h1v1h-1zM11 80h1v1h-1zM32 80h2v1h-2zM36 80h1v1h-1zM54 80h1v1h-1zM57 80h1v1h-1zM60 80h1v1h-1zM64 80h2v1h-2zM31 81h1v1h-1zM57 81h1v1h-1zM0 82h1v1h-1zM2 82h1v1h-1zM8 82h1v1h-1zM17 82h1v1h-1zM51 82h1v1h-1zM56 82h1v1h-1zM58 82h1v1h-1zM2 83h1v1h-1zM20 83h1v1h-1zM31 83h1v1h-1zM38 83h1v1h-1zM60 83h1v1h-1zM63 83h1v1h-1zM54 84h1v1h-1zM13 85h1v1h-1zM17 85h1v1h-1zM35 85h1v1h-1zM42 85h1v1h-1zM57 85h1v1h-1zM5 86h1v1h-1zM46 86h1v1h-1zM36 87h1v1h-1zM48 87h1v1h-1zM56 87h1v1h-1zM58 87h1v1h-1zM3 88h1v1h-1zM27 88h1v1h-1zM41 88h1v1h-1zM66 88h1v1h-1zM14 89h1v1h-1zM17 89h1v1h-1zM27 89h1v1h-1zM54 89h1v1h-1zM1 90h2v1h-2zM4 90h1v1h-1zM40 90h2v1h-2zM47 90h1v1h-1zM11 91h1v1h-1zM27 91h2v1h-2zM38 91h2v1h-2zM42 91h1v1h-1zM55 91h1v1h-1zM57 91h1v1h-1zM28 92h1v1h-1zM32 92h1v1h-1zM42 92h1v1h-1zM45 92h1v1h-1zM54 92h1v1h-1zM58 92h4v1h-4zM2 93h1v1h-1zM6 93h1v1h-1zM38 93h1v1h-1zM63 93h1v1h-1zM2 94h1v1h-1zM5 94h1v1h-1zM41 94h1v1h-1zM43 94h1v1h-1zM48 94h1v1h-1zM59 94h1v1h-1zM67 94h1v1h-1zM3 95h1v1h-1zM14 95h1v1h-1zM16 95h1v1h-1zM24 95h1v1h-1zM35 95h1v1h-1zM37 95h1v1h-1zM66 95h1v1h-1zM68 95h1v1h-1zM24 96h1v1h-1zM37 96h1v1h-1zM39 96h1v1h-1zM63 96h1v1h-1zM15 97h1v1h-1zM37 97h1v1h-1zM45 97h2v1h-2zM51 97h1v1h-1zM54 97h2v1h-2zM65 97h1v1h-1zM8 98h1v1h-1zM28 98h1v1h-1zM35 98h1v1h-1zM64 98h1v1h-1zM13 99h1v1h-1zM20 99h1v1h-1zM41 99h2v1h-2zM48 99h1v1h-1zM52 99h1v1h-1zM54 99h2v1h-2zM60 99h1v1h-1zM28 100h1v1h-1zM36 100h1v1h-1zM50 100h2v1h-2zM27 101h1v1h-1zM35 101h1v1h-1zM43 101h2v1h-2zM54 101h1v1h-1zM61 101h1v1h-1zM38 102h1v1h-1zM50 102h1v1h-1zM52 102h1v1h-1zM54 102h1v1h-1zM56 102h1v1h-1zM48 103h1v1h-1zM53 103h1v1h-1zM66 103h1v1h-1zM57 104h1v1h-1zM27 105h1v1h-1zM31 105h1v1h-1zM56 105h1v1h-1zM63 105h1v1h-1zM33 106h1v1h-1zM37 106h1v1h-1zM56 106h1v1h-1zM59 106h1v1h-1zM33 107h1v1h-1zM43 107h1v1h-1zM31 108h1v1h-1zM59 108h1v1h-1zM51 109h3v1h-3zM59 109h1v1h-1zM62 109h1v1h-1zM64 109h2v1h-2zM67 109h1v1h-1zM8 110h1v1h-1zM12 110h1v1h-1zM36 110h1v1h-1zM61 110h1v1h-1zM0 111h1v1h-1zM7 111h2v1h-2zM16 111h1v1h-1zM18 111h2v1h-2zM25 111h1v1h-1zM29 111h1v1h-1zM56 111h1v1h-1zM8 112h1v1h-1zM17 112h1v1h-1zM32 112h1v1h-1zM44 112h1v1h-1zM55 112h2v1h-2zM36 113h1v1h-1zM44 113h1v1h-1zM46 113h1v1h-1zM3 114h1v1h-1zM5 114h1v1h-1zM15 114h1v1h-1zM24 114h1v1h-1zM26 114h1v1h-1zM32 114h1v1h-1zM44 114h2v1h-2zM53 114h1v1h-1zM55 114h1v1h-1zM58 114h1v1h-1zM12 115h1v1h-1zM49 115h1v1h-1zM53 115h1v1h-1zM8 116h1v1h-1zM41 116h2v1h-2zM66 116h1v1h-1zM8 117h1v1h-1zM11 117h1v1h-1zM29 117h2v1h-2zM37 117h1v1h-1zM43 117h1v1h-1zM45 117h1v1h-1zM55 117h1v1h-1zM7 118h1v1h-1zM53 118h1v1h-1zM55 118h1v1h-1zM61 118h1v1h-1zM68 118h1v1h-1zM0 119h1v1h-1zM12 119h1v1h-1zM37 119h1v1h-1zM42 119h1v1h-1zM47 119h1v1h-1zM52 119h1v1h-1zM68 119h1v1h-1zM30 120h1v1h-1zM52 120h1v1h-1zM55 120h2v1h-2zM59 120h1v1h-1zM37 121h1v1h-1zM50 121h1v1h-1zM52 121h1v1h-1zM9 122h1v1h-1zM11 122h1v1h-1zM27 122h1v1h-1zM34 122h1v1h-1zM10 123h1v1h-1zM27 123h1v1h-1zM33 123h1v1h-1zM47 123h2v1h-2zM50 123h1v1h-1zM38 124h1v1h-1zM55 124h1v1h-1zM59 124h1v1h-1zM11 125h1v1h-1zM14 125h1v1h-1zM18 125h1v1h-1zM27 125h1v1h-1zM35 125h1v1h-1zM37 125h1v1h-1zM47 125h1v1h-1zM8 126h1v1h-1zM17 126h1v1h-1zM20 126h1v1h-1zM32 126h1v1h-1zM57 126h1v1h-1zM2 127h1v1h-1zM11 127h1v1h-1zM14 127h1v1h-1zM32 127h1v1h-1zM34 127h2v1h-2zM39 127h1v1h-1zM43 127h1v1h-1zM59 127h1v1h-1zM2 128h1v1h-1zM4 128h1v1h-1zM10 128h1v1h-1zM56 128h1v1h-1zM21 129h2v1h-2zM43 129h1v1h-1z"/>
<path fill="#f3bbb2" d="M8 0h1v1h-1zM28 0h1v1h-1zM36 0h1v1h-1zM60 0h1v1h-1zM2 1h1v1h-1zM6 1h2v1h-2zM46 1h1v1h-1zM61 1h3v1h-3zM66 1h1v1h-1zM2 2h1v1h-1zM8 2h1v1h-1zM21 2h1v1h-1zM27 2h1v1h-1zM51 2h1v1h-1zM53 2h1v1h-1zM61 2h1v1h-1zM8 3h1v1h-1zM23 3h1v1h-1zM35 3h1v1h-1zM38 3h1v1h-1zM61 3h1v1h-1zM63 3h1v1h-1zM66 3h1v1h-1zM20 4h1v1h-1zM22 4h1v1h-1zM24 4h1v1h-1zM31 4h1v1h-1zM60 4h1v1h-1zM5 5h2v1h-2zM18 5h1v1h-1zM34 5h1v1h-1zM55 5h1v1h-1zM63 5h1v1h-1zM15 6h1v1h-1zM23 6h1v1h-1zM14 7h1v1h-1zM24 7h1v1h-1zM55 7h1v1h-1zM60 7h1v1h-1zM7 8h1v1h-1zM18 8h1v1h-1zM22 8h1v1h-1zM40 8h1v1h-1zM60 8h1v1h-1zM68 8h1v1h-1zM3 9h1v1h-1zM17 9h2v1h-2zM23 9h1v1h-1zM39 9h1v1h-1zM20 10h1v1h-1zM33 10h1v1h-1zM35 10h1v1h-1zM57 11h1v1h-1zM59 11h1v1h-1zM62 11h1v1h-1zM3 12h1v1h-1zM16 12h1v1h-1zM39 12h1v1h-1zM50 12h1v1h-1zM55 12h1v1h-1zM62 12h1v1h-1zM0 13h1v1h-1zM3 13h1v1h-1zM7 13h1v1h-1zM14 13h1v1h-1zM18 13h1v1h-1zM12 14h2v1h-2zM35 14h1v1h-1zM65 14h1v1h-1zM68 14h1v1h-1zM0 15h2v1h-2zM9 15h1v1h-1zM61 15h1v1h-1zM64 15h1v1h-1zM4 16h1v1h-1zM26 16h1v1h-1zM63 16h1v1h-1zM18 17h1v1h-1zM56 17h1v1h-1zM62 17h1v1h-1zM67 17h1v1h-1zM52 18h1v1h-1zM1 19h1v1h-1zM5 19h1v1h-1zM17 19h1v1h-1zM25 19h1v1h-1zM31 19h1v1h-1zM62 19h1v1h-1zM65 19h1v1h-1zM3 20h1v1h-1zM5 20h1v1h-1zM14 20h1v1h-1zM31 20h1v1h-1zM36 20h1v1h-1zM2 21h1v1h-1zM33 21h1v1h-1zM57 21h1v1h-1zM5 22h1v1h-1zM7 22h1v1h-1zM17 22h1v1h-1zM32 22h1v1h-1zM46 22h1v1h-1zM58 22h1v1h-1zM10 23h1v1h-1zM16 23h1v1h-1zM26 23h1v1h-1zM5 24h1v1h-1zM13 25h1v1h-1zM55 25h1v1h-1zM57 25h1v1h-1zM10 26h1v1h-1zM30 26h1v1h-1zM51 26h1v1h-1zM67 26h1v1h-1zM1 27h1v1h-1zM4 27h1v1h-1zM7 27h1v1h-1zM12 27h1v1h-1zM17 27h1v1h-1zM57 27h1v1h-1zM67 27h1v1h-1zM1 28h1v1h-1zM11 28h1v1h-1zM18 28h1v1h-1zM31 28h1v1h-1zM0 29h1v1h-1zM2 29h1v1h-1zM16 29h1v1h-1zM55 29h1v1h-1zM7 30h1v1h-1zM23 30h2v1h-2zM61 30h1v1h-1zM28 31h1v1h-1zM31 31h1v1h-1zM55 31h1v1h-1zM63 31h1v1h-1zM16 32h1v1h-1zM25 32h1v1h-1zM33 32h1v1h-1zM35 32h1v1h-1zM38 32h1v1h-1zM50 32h2v1h-2zM5 33h1v1h-1zM16 33h2v1h-2zM27 33h1v1h-1zM49 33h1v1h-1zM61 33h3v1h-3zM8 34h1v1h-1zM18 34h1v1h-1zM26 34h1v1h-1zM28 34h1v1h-1zM60 34h1v1h-1zM65 34h1v1h-1zM15 35h1v1h-1zM30 35h1v1h-1zM57 35h1v1h-1zM65 35h2v1h-2zM50 36h1v1h-1zM61 36h2v1h-2zM5 37h1v1h-1zM12 37h1v1h-1zM15 37h1v1h-1zM18 37h1v1h-1zM25 37h1v1h-1zM27 37h1v1h-1zM31 37h1v1h-1zM37 37h1v1h-1zM47 37h1v1h-1zM51 37h1v1h-1zM62 37h2v1h-2zM66 37h1v1h-1zM0 38h1v1h-1zM7 38h1v1h-1zM10 38h1v1h-1zM31 38h1v1h-1zM33 38h1v1h-1zM54 38h1v1h-1zM57 38h1v1h-1zM65 38h2v1h-2zM53 39h1v1h-1zM59 39h1v1h-1zM61 39h1v1h-1zM34 40h1v1h-1zM22 41h1v1h-1zM51 41h2v1h-2zM55 41h1v1h-1zM63 41h1v1h-1zM30 42h1v1h-1zM60 42h1v1h-1zM17 43h1v1h-1zM28 43h1v1h-1zM36 43h2v1h-2zM46 43h1v1h-1zM63 43h1v1h-1zM66 43h1v1h-1zM31 44h1v1h-1zM33 44h2v1h-2zM47 44h1v1h-1zM56 44h1v1h-1zM62 45h1v1h-1zM34 46h1v1h-1zM59 46h1v1h-1zM61 46h1v1h-1zM66 46h1v1h-1zM59 47h1v1h-1zM62 47h1v1h-1zM65 47h1v1h-1zM17 48h1v1h-1zM21 48h1v1h-1zM30 48h1v1h-1zM58 48h1v1h-1zM64 48h1v1h-1zM20 49h1v1h-1zM41 49h1v1h-1zM53 49h1v1h-1zM56 49h1v1h-1zM2 50h1v1h-1zM6 50h1v1h-1zM26 50h2v1h-2zM30 50h1v1h-1zM33 50h1v1h-1zM7 51h1v1h-1zM17 51h1v1h-1zM24 51h1v1h-1zM28 51h1v1h-1zM37 51h1v1h-1zM53 51h1v1h-1zM5 52h1v1h-1zM21 52h3v1h-3zM26 52h1v1h-1zM45 52h1v1h-1zM0 53h1v1h-1zM20 53h1v1h-1zM24 53h1v1h-1zM36 53h1v1h-1zM43 53h1v1h-1zM58 53h1v1h-1zM67 53h1v1h-1zM1 54h1v1h-1zM12 54h1v1h-1zM16 54h1v1h-1zM26 54h1v1h-1zM29 54h1v1h-1zM33 54h1v1h-1zM43 54h1v1h-1zM61 54h1v1h-1zM67 54h1v1h-1zM20 55h1v1h-1zM66 55h1v1h-1zM45 56h1v1h-1zM54 56h1v1h-1zM56 56h1v1h-1zM3 57h1v1h-1zM31 57h1v1h-1zM48 57h2v1h-2zM54 57h1v1h-1zM4 58h1v1h-1zM13 58h1v1h-1zM16 58h1v1h-1zM29 58h1v1h-1zM9 59h1v1h-1zM23 59h1v1h-1zM57 59h1v1h-1zM4 60h1v1h-1zM9 60h1v1h-1zM16 60h1v1h-1zM21 60h1v1h-1zM27 60h1v1h-1zM34 60h1v1h-1zM56 60h2v1h-2zM15 61h1v1h-1zM17 61h1v1h-1zM24 61h2v1h-2zM46 61h1v1h-1zM61 61h1v1h-1zM63 61h1v1h-1zM1 62h1v1h-1zM3 62h1v1h-1zM17 62h1v1h-1zM26 62h2v1h-2zM50 62h1v1h-1zM9 63h1v1h-1zM24 63h1v1h-1zM32 63h1v1h-1zM53 63h1v1h-1zM12 64h1v1h-1zM14 64h1v1h-1zM16 64h1v1h-1zM18 64h1v1h-1zM27 64h1v1h-1zM30 64h1v1h-1zM2 65h1v1h-1zM46 65h1v1h-1zM55 65h1v1h-1zM53 66h1v1h-1zM39 67h1v1h-1zM55 67h1v1h-1zM57 67h1v1h-1zM60 67h1v1h-1zM15 68h1v1h-1zM21 68h1v1h-1zM28 68h1v1h-1zM30 68h1v1h-1zM37 68h1v1h-1zM46 68h1v1h-1zM50 68h1v1h-1zM1 69h1v1h-1zM30 69h1v1h-1zM35 69h1v1h-1zM60 69h1v1h-1zM66 69h1v1h-1zM56 70h1v1h-1zM60 70h2v1h-2zM18 71h2v1h-2zM27 71h1v1h-1zM47 71h1v1h-1zM63 71h1v1h-1zM65 71h2v1h-2zM0 72h2v1h-2zM0 73h1v1h-1zM31 73h1v1h-1zM54 73h1v1h-1zM56 73h1v1h-1zM67 73h2v1h-2zM18 74h1v1h-1zM36 74h1v1h-1zM51 74h1v1h-1zM53 74h1v1h-1zM57 74h1v1h-1zM60 74h2v1h-2zM65 74h1v1h-1zM12 75h1v1h-1zM14 75h1v1h-1zM18 75h1v1h-1zM38 75h1v1h-1zM42 75h1v1h-1zM46 75h2v1h-2zM52 75h1v1h-1zM55 75h1v1h-1zM60 75h1v1h-1zM5 76h1v1h-1zM31 76h1v1h-1zM59 76h1v1h-1zM66 76h1v1h-1zM68 76h1v1h-1zM3 77h1v1h-1zM17 77h1v1h-1zM36 77h1v1h-1zM58 77h1v1h-1zM65 77h1v1h-1zM8 78h1v1h-1zM15 78h1v1h-1zM37 78h2v1h-2zM40 78h1v1h-1zM42 78h1v1h-1zM23 79h1v1h-1zM25 79h1v1h-1zM32 79h1v1h-1zM36 79h1v1h-1zM55 79h1v1h-1zM60 79h1v1h-1zM62 79h1v1h-1zM64 79h2v1h-2zM9 80h1v1h-1zM16 80h1v1h-1zM47 80h1v1h-1zM33 81h1v1h-1zM7 82h1v1h-1zM27 82h1v1h-1zM55 82h1v1h-1zM67 82h1v1h-1zM7 83h2v1h-2zM27 83h1v1h-1zM30 83h1v1h-1zM32 83h1v1h-1zM37 83h1v1h-1zM41 83h1v1h-1zM50 83h1v1h-1zM54 83h1v1h-1zM58 83h2v1h-2zM9 84h1v1h-1zM49 85h1v1h-1zM62 85h1v1h-1zM27 86h1v1h-1zM33 86h1v1h-1zM59 86h1v1h-1zM66 86h1v1h-1zM30 87h1v1h-1zM35 87h1v1h-1zM45 87h2v1h-2zM57 87h1v1h-1zM6 88h1v1h-1zM10 88h1v1h-1zM21 88h1v1h-1zM28 88h1v1h-1zM32 88h1v1h-1zM60 88h3v1h-3zM2 89h1v1h-1zM10 89h1v1h-1zM16 89h1v1h-1zM35 89h1v1h-1zM64 89h1v1h-1zM7 90h1v1h-1zM9 90h1v1h-1zM49 90h1v1h-1zM55 90h1v1h-1zM44 91h2v1h-2zM47 91h1v1h-1zM54 91h1v1h-1zM7 93h1v1h-1zM22 93h1v1h-1zM25 93h1v1h-1zM27 93h1v1h-1zM51 93h2v1h-2zM55 93h2v1h-2zM66 93h1v1h-1zM68 93h1v1h-1zM1 94h1v1h-1zM6 94h1v1h-1zM28 94h1v1h-1zM46 94h1v1h-1zM1 95h1v1h-1zM5 95h1v1h-1zM50 95h1v1h-1zM54 95h2v1h-2zM59 95h2v1h-2zM67 95h1v1h-1zM55 96h1v1h-1zM65 96h1v1h-1zM1 97h1v1h-1zM13 97h1v1h-1zM27 97h1v1h-1zM32 97h1v1h-1zM44 97h1v1h-1zM47 97h1v1h-1zM62 97h1v1h-1zM0 98h2v1h-2zM10 98h1v1h-1zM12 98h1v1h-1zM16 98h1v1h-1zM42 98h1v1h-1zM45 98h1v1h-1zM60 98h1v1h-1zM63 98h1v1h-1zM65 98h1v1h-1zM68 98h1v1h-1zM2 99h1v1h-1zM21 99h1v1h-1zM28 99h1v1h-1zM40 99h1v1h-1zM43 99h1v1h-1zM47 99h1v1h-1zM58 99h1v1h-1zM62 99h2v1h-2zM67 99h2v1h-2zM10 100h1v1h-1zM34 100h1v1h-1zM43 100h1v1h-1zM41 101h1v1h-1zM50 101h1v1h-1zM35 102h1v1h-1zM43 102h1v1h-1zM30 103h1v1h-1zM41 103h1v1h-1zM44 103h1v1h-1zM57 103h1v1h-1zM19 104h1v1h-1zM34 104h1v1h-1zM50 104h1v1h-1zM68 104h1v1h-1zM0 105h1v1h-1zM38 105h1v1h-1zM55 105h1v1h-1zM67 105h1v1h-1zM27 106h1v1h-1zM32 106h1v1h-1zM35 106h1v1h-1zM42 106h1v1h-1zM50 106h1v1h-1zM36 107h1v1h-1zM44 107h1v1h-1zM56 107h1v1h-1zM27 109h2v1h-2zM6 110h1v1h-1zM22 110h1v1h-1zM24 110h1v1h-1zM28 110h1v1h-1zM37 110h1v1h-1zM46 110h1v1h-1zM50 110h2v1h-2zM13 111h1v1h-1zM27 111h1v1h-1zM41 111h2v1h-2zM44 111h1v1h-1zM51 111h1v1h-1zM33 112h1v1h-1zM36 112h1v1h-1zM39 112h1v1h-1zM34 113h1v1h-1zM17 114h1v1h-1zM29 114h2v1h-2zM33 114h1v1h-1zM38 114h1v1h-1zM50 114h1v1h-1zM54 114h1v1h-1zM34 115h1v1h-1zM43 115h1v1h-1zM54 115h2v1h-2zM60 115h1v1h-1zM65 115h1v1h-1zM11 116h1v1h-1zM15 116h2v1h-2zM44 116h1v1h-1zM53 116h2v1h-2zM59 116h1v1h-1zM12 117h1v1h-1zM28 117h1v1h-1zM41 117h1v1h-1zM50 117h1v1h-1zM4 118h1v1h-1zM14 118h1v1h-1zM32 118h1v1h-1zM44 118h1v1h-1zM56 118h1v1h-1zM11 119h1v1h-1zM24 119h1v1h-1zM35 119h1v1h-1zM8 120h1v1h-1zM17 120h1v1h-1zM28 120h1v1h-1zM36 120h1v1h-1zM38 120h1v1h-1zM43 120h2v1h-2zM48 120h1v1h-1zM51 120h1v1h-1zM64 120h1v1h-1zM22 121h1v1h-1zM30 121h1v1h-1zM35 121h1v1h-1zM47 121h1v1h-1zM37 122h1v1h-1zM50 122h1v1h-1zM56 122h2v1h-2zM60 122h1v1h-1zM15 123h1v1h-1zM28 124h1v1h-1zM33 124h1v1h-1zM41 124h2v1h-2zM48 124h2v1h-2zM53 124h1v1h-1zM62 125h1v1h-1zM29 126h1v1h-1zM34 126h1v1h-1zM37 126h1v1h-1zM49 126h1v1h-1zM64 126h1v1h-1zM45 127h1v1h-1zM47 127h1v1h-1zM24 128h1v1h-1zM35 128h1v1h-1zM42 128h1v1h-1zM47 128h2v1h-2zM17 129h1v1h-1zM34 129h2v1h-2zM38 129h1v1h-1zM53 129h1v1h-1z"/>
<path fill="#f2aa9d" d="M0 0h2v1h-2zM24 0h1v1h-1zM51 0h1v1h-1zM58 0h1v1h-1zM62 0h4v1h-4zM3 1h1v1h-1zM8 1h1v1h-1zM12 1h1v1h-1zM21 1h2v1h-2zM24 1h1v1h-1zM1 2h1v1h-1zM3 2h1v1h-1zM5 2h1v1h-1zM7 2h1v1h-1zM22 2h1v1h-1zM24 2h1v1h-1zM30 2h1v1h-1zM60 2h1v1h-1zM4 3h1v1h-1zM9 3h1v1h-1zM24 3h1v1h-1zM28 3h1v1h-1zM39 3h1v1h-1zM50 3h1v1h-1zM60 3h1v1h-1zM67 3h1v1h-1zM18 4h1v1h-1zM23 4h1v1h-1zM37 4h1v1h-1zM46 4h1v1h-1zM56 4h2v1h-2zM11 5h1v1h-1zM26 5h1v1h-1zM36 5h1v1h-1zM52 5h1v1h-1zM58 5h2v1h-2zM67 5h1v1h-1zM5 6h1v1h-1zM17 6h1v1h-1zM25 6h1v1h-1zM55 6h1v1h-1zM57 6h2v1h-2zM62 6h1v1h-1zM0 7h1v1h-1zM5 7h1v1h-1zM12 7h1v1h-1zM68 7h1v1h-1zM2 8h1v1h-1zM9 8h1v1h-1zM16 8h1v1h-1zM19 8h1v1h-1zM59 8h1v1h-1zM63 8h1v1h-1zM65 8h1v1h-1zM6 9h2v1h-2zM10 9h1v1h-1zM16 9h1v1h-1zM20 9h1v1h-1zM47 9h1v1h-1zM53 9h1v1h-1zM56 9h1v1h-1zM66 9h3v1h-3zM2 10h1v1h-1zM19 10h1v1h-1zM24 10h2v1h-2zM51 10h1v1h-1zM54 10h1v1h-1zM67 10h1v1h-1zM0 11h1v1h-1zM2 11h2v1h-2zM7 11h1v1h-1zM18 11h1v1h-1zM24 11h1v1h-1zM30 11h1v1h-1zM60 11h1v1h-1zM68 11h1v1h-1zM2 12h1v1h-1zM10 12h1v1h-1zM12 12h1v1h-1zM15 12h1v1h-1zM23 12h1v1h-1zM28 12h2v1h-2zM33 12h1v1h-1zM48 12h1v1h-1zM63 12h1v1h-1zM11 13h1v1h-1zM24 13h1v1h-1zM63 13h1v1h-1zM68 13h1v1h-1zM20 14h1v1h-1zM23 14h1v1h-1zM58 14h1v1h-1zM62 14h1v1h-1zM67 14h1v1h-1zM3 15h1v1h-1zM8 15h1v1h-1zM11 15h1v1h-1zM17 15h1v1h-1zM39 15h1v1h-1zM55 15h1v1h-1zM13 16h1v1h-1zM20 16h1v1h-1zM23 16h1v1h-1zM56 16h1v1h-1zM60 16h1v1h-1zM65 16h1v1h-1zM68 16h1v1h-1zM8 17h1v1h-1zM13 17h1v1h-1zM17 17h1v1h-1zM28 17h1v1h-1zM10 18h1v1h-1zM25 18h1v1h-1zM10 19h1v1h-1zM56 19h1v1h-1zM66 19h1v1h-1zM68 19h1v1h-1zM10 20h1v1h-1zM15 20h1v1h-1zM60 20h1v1h-1zM1 21h1v1h-1zM3 21h1v1h-1zM24 21h1v1h-1zM31 21h1v1h-1zM34 21h1v1h-1zM48 21h1v1h-1zM54 21h1v1h-1zM20 22h1v1h-1zM5 23h1v1h-1zM17 23h1v1h-1zM24 23h1v1h-1zM27 23h1v1h-1zM6 24h1v1h-1zM10 24h1v1h-1zM0 25h1v1h-1zM10 25h1v1h-1zM20 25h1v1h-1zM24 25h1v1h-1zM64 25h1v1h-1zM1 26h1v1h-1zM3 26h1v1h-1zM5 26h1v1h-1zM7 26h1v1h-1zM18 26h1v1h-1zM31 26h1v1h-1zM55 26h1v1h-1zM58 26h1v1h-1zM61 26h1v1h-1zM3 27h1v1h-1zM10 27h1v1h-1zM20 27h1v1h-1zM23 27h2v1h-2zM26 27h1v1h-1zM53 27h1v1h-1zM62 27h1v1h-1zM66 27h1v1h-1zM2 28h1v1h-1zM13 28h1v1h-1zM19 28h2v1h-2zM22 28h1v1h-1zM24 28h1v1h-1zM50 28h1v1h-1zM11 29h1v1h-1zM15 29h1v1h-1zM23 29h1v1h-1zM26 29h1v1h-1zM28 29h1v1h-1zM8 30h1v1h-1zM13 30h1v1h-1zM16 30h2v1h-2zM0 31h1v1h-1zM16 31h1v1h-1zM21 31h1v1h-1zM23 31h1v1h-1zM60 31h1v1h-1zM20 32h1v1h-1zM32 32h1v1h-1zM54 32h1v1h-1zM56 32h1v1h-1zM60 32h1v1h-1zM2 33h2v1h-2zM26 33h1v1h-1zM5 34h1v1h-1zM7 34h1v1h-1zM12 34h1v1h-1zM8 35h1v1h-1zM12 35h1v1h-1zM28 35h1v1h-1zM54 35h1v1h-1zM62 35h1v1h-1zM28 36h1v1h-1zM58 36h1v1h-1zM68 36h1v1h-1zM53 37h1v1h-1zM59 37h1v1h-1zM64 37h1v1h-1zM67 37h1v1h-1zM27 38h1v1h-1zM58 38h1v1h-1zM62 38h1v1h-1zM64 38h1v1h-1zM6 39h1v1h-1zM30 39h1v1h-1zM33 39h1v1h-1zM67 39h1v1h-1zM29 40h1v1h-1zM32 40h2v1h-2zM61 40h1v1h-1zM68 40h1v1h-1zM27 41h1v1h-1zM50 41h1v1h-1zM54 41h1v1h-1zM58 41h1v1h-1zM60 41h1v1h-1zM62 41h1v1h-1zM34 42h1v1h-1zM52 42h1v1h-1zM31 43h1v1h-1zM38 43h1v1h-1zM52 43h1v1h-1zM54 43h1v1h-1zM61 43h1v1h-1zM67 43h1v1h-1zM32 44h1v1h-1zM53 44h1v1h-1zM10 45h1v1h-1zM46 45h1v1h-1zM64 45h1v1h-1zM68 45h1v1h-1zM28 46h1v1h-1zM58 46h1v1h-1zM28 47h1v1h-1zM66 47h1v1h-1zM0 48h1v1h-1zM27 48h1v1h-1zM31 48h1v1h-1zM51 48h1v1h-1zM61 48h1v1h-1zM12 49h1v1h-1zM17 49h1v1h-1zM35 49h1v1h-1zM46 49h2v1h-2zM52 49h1v1h-1zM54 49h1v1h-1zM63 49h1v1h-1zM22 50h1v1h-1zM56 50h1v1h-1zM67 50h1v1h-1zM2 51h1v1h-1zM16 51h1v1h-1zM27 51h1v1h-1zM50 51h1v1h-1zM60 51h1v1h-1zM65 51h1v1h-1zM8 52h1v1h-1zM15 52h1v1h-1zM30 52h1v1h-1zM52 52h1v1h-1zM61 52h3v1h-3zM3 53h1v1h-1zM7 53h1v1h-1zM28 53h1v1h-1zM62 53h2v1h-2zM11 54h1v1h-1zM15 54h1v1h-1zM25 54h1v1h-1zM32 54h1v1h-1zM55 54h1v1h-1zM62 54h1v1h-1zM8 55h1v1h-1zM25 55h1v1h-1zM31 55h1v1h-1zM0 56h1v1h-1zM9 56h1v1h-1zM29 56h1v1h-1zM34 56h1v1h-1zM37 56h1v1h-1zM14 57h1v1h-1zM20 57h1v1h-1zM25 57h1v1h-1zM33 57h2v1h-2zM50 57h1v1h-1zM56 57h1v1h-1zM5 58h1v1h-1zM10 58h1v1h-1zM65 58h1v1h-1zM8 59h1v1h-1zM12 59h1v1h-1zM15 59h1v1h-1zM5 60h1v1h-1zM7 60h1v1h-1zM10 60h1v1h-1zM12 60h1v1h-1zM20 60h1v1h-1zM6 61h1v1h-1zM18 61h1v1h-1zM29 61h1v1h-1zM0 62h1v1h-1zM9 62h1v1h-1zM12 62h1v1h-1zM15 62h1v1h-1zM19 62h1v1h-1zM22 62h1v1h-1zM24 62h1v1h-1zM1 63h1v1h-1zM66 63h1v1h-1zM33 64h1v1h-1zM4 65h1v1h-1zM22 65h1v1h-1zM51 65h1v1h-1zM54 65h1v1h-1zM57 65h1v1h-1zM59 65h1v1h-1zM62 65h2v1h-2zM66 66h1v1h-1zM40 67h1v1h-1zM52 67h1v1h-1zM2 68h1v1h-1zM5 68h1v1h-1zM38 68h1v1h-1zM65 68h1v1h-1zM2 69h1v1h-1zM17 69h1v1h-1zM28 69h1v1h-1zM7 70h1v1h-1zM32 70h1v1h-1zM50 70h1v1h-1zM55 70h1v1h-1zM66 70h1v1h-1zM9 71h1v1h-1zM17 71h1v1h-1zM36 71h1v1h-1zM46 71h1v1h-1zM57 72h1v1h-1zM6 73h1v1h-1zM28 73h1v1h-1zM2 74h1v1h-1zM14 74h1v1h-1zM54 74h1v1h-1zM67 74h1v1h-1zM16 75h1v1h-1zM25 75h1v1h-1zM27 75h1v1h-1zM36 75h1v1h-1zM51 75h1v1h-1zM64 75h1v1h-1zM12 76h1v1h-1zM32 76h1v1h-1zM23 77h1v1h-1zM25 77h1v1h-1zM33 77h1v1h-1zM50 77h1v1h-1zM52 77h1v1h-1zM59 77h1v1h-1zM3 78h1v1h-1zM7 78h1v1h-1zM26 78h1v1h-1zM52 78h1v1h-1zM54 78h1v1h-1zM61 78h1v1h-1zM65 78h1v1h-1zM8 79h1v1h-1zM12 79h1v1h-1zM17 79h1v1h-1zM33 79h1v1h-1zM38 79h1v1h-1zM68 79h1v1h-1zM8 80h1v1h-1zM12 82h1v1h-1zM34 82h1v1h-1zM54 82h1v1h-1zM9 83h2v1h-2zM35 83h1v1h-1zM48 83h1v1h-1zM62 83h1v1h-1zM64 83h1v1h-1zM4 84h1v1h-1zM10 84h1v1h-1zM38 85h1v1h-1zM45 85h1v1h-1zM58 85h1v1h-1zM60 85h1v1h-1zM32 86h1v1h-1zM47 86h1v1h-1zM60 86h1v1h-1zM3 87h1v1h-1zM41 87h2v1h-2zM53 87h1v1h-1zM30 88h1v1h-1zM48 88h1v1h-1zM54 88h1v1h-1zM68 88h1v1h-1zM9 89h1v1h-1zM15 89h1v1h-1zM18 89h1v1h-1zM23 89h1v1h-1zM25 89h1v1h-1zM31 89h1v1h-1zM37 89h1v1h-1zM40 89h1v1h-1zM43 89h1v1h-1zM57 89h1v1h-1zM27 90h1v1h-1zM43 90h1v1h-1zM45 90h1v1h-1zM48 90h1v1h-1zM56 90h1v1h-1zM31 91h1v1h-1zM35 91h2v1h-2zM52 91h1v1h-1zM60 91h2v1h-2zM4 92h1v1h-1zM39 92h1v1h-1zM62 92h1v1h-1zM39 93h2v1h-2zM43 93h1v1h-1zM47 93h1v1h-1zM33 94h1v1h-1zM35 94h1v1h-1zM44 94h2v1h-2zM50 94h1v1h-1zM54 94h1v1h-1zM4 95h1v1h-1zM7 95h3v1h-3zM18 95h2v1h-2zM40 95h1v1h-1zM43 95h1v1h-1zM20 97h2v1h-2zM41 97h2v1h-2zM53 97h1v1h-1zM58 97h3v1h-3zM3 98h1v1h-1zM38 98h1v1h-1zM43 98h1v1h-1zM46 98h1v1h-1zM52 98h1v1h-1zM58 98h1v1h-1zM66 98h1v1h-1zM32 99h1v1h-1zM13 100h2v1h-2zM31 100h1v1h-1zM38 100h1v1h-1zM41 100h1v1h-1zM48 100h1v1h-1zM54 100h1v1h-1zM56 100h1v1h-1zM31 101h1v1h-1zM42 101h1v1h-1zM55 101h1v1h-1zM33 102h2v1h-2zM39 102h1v1h-1zM54 103h3v1h-3zM27 104h1v1h-1zM32 104h1v1h-1zM36 104h2v1h-2zM56 104h1v1h-1zM62 104h1v1h-1zM16 105h1v1h-1zM34 105h1v1h-1zM45 105h1v1h-1zM49 105h1v1h-1zM54 105h1v1h-1zM57 105h1v1h-1zM41 106h1v1h-1zM46 106h2v1h-2zM39 107h1v1h-1zM41 107h1v1h-1zM50 107h1v1h-1zM44 108h2v1h-2zM61 108h1v1h-1zM36 109h1v1h-1zM49 109h2v1h-2zM54 109h1v1h-1zM68 109h1v1h-1zM38 110h1v1h-1zM52 110h1v1h-1zM1 111h1v1h-1zM36 111h1v1h-1zM50 111h1v1h-1zM46 112h1v1h-1zM50 112h2v1h-2zM42 113h1v1h-1zM47 113h1v1h-1zM37 114h1v1h-1zM39 114h1v1h-1zM42 114h1v1h-1zM4 115h1v1h-1zM7 115h1v1h-1zM11 115h1v1h-1zM47 115h1v1h-1zM56 115h1v1h-1zM63 115h1v1h-1zM28 116h1v1h-1zM46 116h1v1h-1zM52 116h1v1h-1zM57 116h1v1h-1zM47 117h1v1h-1zM51 117h1v1h-1zM36 118h1v1h-1zM31 119h1v1h-1zM41 119h1v1h-1zM43 119h1v1h-1zM32 120h1v1h-1zM37 120h1v1h-1zM39 120h1v1h-1zM46 120h1v1h-1zM57 120h1v1h-1zM44 121h1v1h-1zM55 121h1v1h-1zM38 122h1v1h-1zM43 122h1v1h-1zM52 122h1v1h-1zM8 123h1v1h-1zM41 123h1v1h-1zM15 124h1v1h-1zM18 124h1v1h-1zM11 126h1v1h-1zM42 126h1v1h-1zM50 127h1v1h-1zM64 127h1v1h-1zM39 128h1v1h-1zM49 128h1v1h-1zM52 128h2v1h-2zM14 129h1v1h-1zM48 129h2v1h-2z"/>
<path fill="#f09888" d="M20 0h1v1h-1zM56 0h1v1h-1zM61 0h1v1h-1zM67 0h1v1h-1zM13 2h1v1h-1zM18 2h1v1h-1zM38 2h1v1h-1zM55 2h1v1h-1zM62 2h1v1h-1zM12 3h1v1h-1zM27 3h1v1h-1zM46 3h1v1h-1zM59 3h1v1h-1zM64 3h2v1h-2zM68 3h1v1h-1zM1 4h1v1h-1zM3 4h1v1h-1zM19 4h1v1h-1zM21 4h1v1h-1zM28 4h2v1h-2zM43 4h1v1h-1zM64 4h1v1h-1zM15 5h1v1h-1zM20 5h1v1h-1zM64 5h1v1h-1zM7 6h1v1h-1zM9 6h1v1h-1zM20 6h1v1h-1zM51 6h1v1h-1zM60 6h1v1h-1zM63 6h1v1h-1zM4 7h1v1h-1zM7 7h1v1h-1zM66 7h1v1h-1zM0 8h1v1h-1zM14 8h1v1h-1zM20 8h1v1h-1zM25 8h1v1h-1zM64 8h1v1h-1zM9 9h1v1h-1zM15 9h1v1h-1zM26 9h1v1h-1zM57 9h2v1h-2zM62 9h1v1h-1zM4 10h1v1h-1zM8 10h1v1h-1zM66 10h1v1h-1zM1 11h1v1h-1zM6 11h1v1h-1zM19 11h1v1h-1zM63 11h1v1h-1zM66 11h1v1h-1zM1 12h1v1h-1zM9 12h1v1h-1zM13 12h1v1h-1zM24 12h1v1h-1zM57 12h2v1h-2zM68 12h1v1h-1zM19 13h1v1h-1zM5 14h2v1h-2zM63 14h1v1h-1zM10 15h1v1h-1zM60 15h1v1h-1zM67 15h2v1h-2zM58 16h1v1h-1zM3 17h2v1h-2zM10 17h1v1h-1zM12 17h1v1h-1zM21 17h1v1h-1zM61 17h1v1h-1zM63 17h1v1h-1zM3 18h1v1h-1zM11 18h1v1h-1zM19 18h1v1h-1zM58 18h1v1h-1zM4 19h1v1h-1zM11 19h1v1h-1zM26 19h1v1h-1zM28 19h1v1h-1zM46 19h1v1h-1zM63 19h1v1h-1zM0 20h2v1h-2zM6 20h1v1h-1zM16 20h2v1h-2zM19 20h1v1h-1zM22 20h1v1h-1zM26 20h1v1h-1zM61 20h1v1h-1zM10 21h1v1h-1zM20 21h1v1h-1zM30 21h1v1h-1zM38 21h1v1h-1zM52 21h1v1h-1zM56 21h1v1h-1zM63 21h1v1h-1zM66 21h1v1h-1zM22 22h1v1h-1zM27 22h1v1h-1zM1 23h1v1h-1zM7 23h1v1h-1zM20 23h1v1h-1zM66 23h1v1h-1zM4 24h1v1h-1zM7 24h1v1h-1zM9 24h1v1h-1zM13 24h2v1h-2zM68 24h1v1h-1zM7 25h2v1h-2zM14 25h1v1h-1zM17 25h1v1h-1zM21 25h1v1h-1zM9 26h1v1h-1zM19 26h1v1h-1zM27 26h1v1h-1zM54 26h1v1h-1zM8 27h1v1h-1zM13 27h1v1h-1zM32 27h1v1h-1zM8 28h1v1h-1zM12 28h1v1h-1zM14 28h1v1h-1zM27 28h1v1h-1zM10 29h1v1h-1zM18 29h1v1h-1zM20 29h1v1h-1zM2 30h1v1h-1zM4 30h1v1h-1zM10 30h1v1h-1zM14 30h1v1h-1zM21 30h1v1h-1zM1 31h1v1h-1zM3 31h1v1h-1zM8 31h2v1h-2zM14 31h1v1h-1zM44 31h1v1h-1zM19 32h1v1h-1zM22 32h1v1h-1zM26 32h1v1h-1zM29 32h3v1h-3zM58 32h1v1h-1zM62 32h1v1h-1zM20 33h1v1h-1zM31 33h1v1h-1zM60 33h1v1h-1zM24 34h1v1h-1zM58 34h1v1h-1zM13 35h1v1h-1zM46 35h1v1h-1zM58 35h1v1h-1zM68 35h1v1h-1zM27 36h1v1h-1zM52 36h1v1h-1zM63 36h2v1h-2zM7 37h1v1h-1zM11 37h1v1h-1zM28 37h1v1h-1zM52 37h1v1h-1zM52 38h2v1h-2zM59 38h1v1h-1zM24 39h1v1h-1zM35 39h1v1h-1zM60 39h1v1h-1zM31 40h1v1h-1zM50 40h1v1h-1zM52 40h1v1h-1zM58 40h1v1h-1zM63 40h1v1h-1zM67 40h1v1h-1zM17 41h1v1h-1zM28 41h1v1h-1zM61 41h1v1h-1zM50 42h2v1h-2zM58 42h2v1h-2zM65 42h1v1h-1zM53 43h1v1h-1zM68 43h1v1h-1zM29 44h1v1h-1zM59 44h1v1h-1zM66 45h2v1h-2zM30 47h1v1h-1zM63 47h1v1h-1zM12 48h1v1h-1zM22 48h1v1h-1zM33 48h1v1h-1zM35 48h1v1h-1zM68 48h1v1h-1zM10 49h1v1h-1zM22 49h1v1h-1zM31 49h1v1h-1zM40 49h1v1h-1zM50 49h1v1h-1zM1 50h1v1h-1zM11 50h1v1h-1zM16 50h1v1h-1zM34 50h1v1h-1zM57 50h1v1h-1zM63 50h1v1h-1zM66 50h1v1h-1zM13 51h1v1h-1zM32 51h1v1h-1zM63 51h1v1h-1zM9 52h1v1h-1zM27 52h1v1h-1zM50 52h1v1h-1zM58 52h1v1h-1zM68 52h1v1h-1zM2 53h1v1h-1zM59 53h1v1h-1zM0 54h1v1h-1zM5 54h1v1h-1zM8 54h1v1h-1zM13 54h1v1h-1zM30 54h1v1h-1zM46 54h2v1h-2zM57 54h1v1h-1zM68 54h1v1h-1zM4 55h1v1h-1zM19 55h1v1h-1zM27 55h1v1h-1zM32 55h2v1h-2zM59 55h1v1h-1zM8 56h1v1h-1zM10 56h1v1h-1zM13 56h1v1h-1zM18 56h1v1h-1zM21 56h1v1h-1zM25 56h1v1h-1zM32 56h1v1h-1zM55 56h1v1h-1zM6 57h1v1h-1zM17 57h1v1h-1zM23 57h1v1h-1zM27 57h2v1h-2zM51 57h1v1h-1zM66 57h1v1h-1zM14 58h1v1h-1zM18 58h1v1h-1zM28 58h1v1h-1zM16 59h1v1h-1zM21 59h1v1h-1zM25 59h1v1h-1zM18 60h1v1h-1zM30 60h1v1h-1zM33 60h1v1h-1zM4 61h1v1h-1zM16 61h1v1h-1zM19 61h1v1h-1zM21 61h1v1h-1zM28 61h1v1h-1zM30 61h1v1h-1zM36 61h1v1h-1zM39 61h1v1h-1zM13 62h1v1h-1zM25 62h1v1h-1zM30 62h2v1h-2zM7 65h1v1h-1zM37 65h1v1h-1zM47 65h1v1h-1zM5 66h1v1h-1zM50 66h1v1h-1zM65 66h1v1h-1zM2 67h1v1h-1zM5 67h1v1h-1zM24 67h1v1h-1zM54 67h1v1h-1zM62 67h2v1h-2zM68 67h1v1h-1zM52 68h1v1h-1zM3 69h1v1h-1zM36 69h1v1h-1zM50 69h2v1h-2zM54 69h1v1h-1zM56 69h3v1h-3zM3 70h1v1h-1zM54 70h1v1h-1zM59 70h1v1h-1zM64 70h1v1h-1zM3 71h1v1h-1zM6 71h1v1h-1zM67 71h1v1h-1zM2 72h1v1h-1zM4 72h1v1h-1zM6 72h2v1h-2zM52 73h1v1h-1zM29 74h2v1h-2zM62 74h1v1h-1zM15 75h1v1h-1zM21 75h1v1h-1zM32 75h1v1h-1zM50 75h1v1h-1zM6 77h1v1h-1zM16 77h1v1h-1zM62 77h1v1h-1zM19 78h1v1h-1zM60 78h1v1h-1zM9 79h1v1h-1zM11 79h1v1h-1zM16 79h1v1h-1zM18 79h1v1h-1zM24 79h1v1h-1zM37 79h1v1h-1zM44 79h1v1h-1zM50 79h1v1h-1zM53 79h1v1h-1zM6 82h1v1h-1zM9 82h2v1h-2zM18 82h1v1h-1zM47 82h1v1h-1zM1 83h1v1h-1zM6 83h1v1h-1zM24 83h1v1h-1zM53 83h1v1h-1zM68 83h1v1h-1zM32 85h1v1h-1zM50 85h2v1h-2zM55 85h1v1h-1zM68 85h1v1h-1zM42 86h1v1h-1zM48 86h1v1h-1zM61 86h1v1h-1zM40 87h1v1h-1zM44 87h1v1h-1zM59 87h1v1h-1zM42 88h1v1h-1zM47 88h1v1h-1zM1 89h1v1h-1zM4 89h1v1h-1zM7 89h1v1h-1zM28 89h1v1h-1zM30 89h1v1h-1zM38 89h1v1h-1zM50 89h1v1h-1zM38 90h1v1h-1zM46 90h1v1h-1zM53 90h1v1h-1zM59 90h1v1h-1zM61 90h1v1h-1zM46 91h1v1h-1zM48 91h1v1h-1zM1 92h1v1h-1zM36 92h2v1h-2zM41 92h1v1h-1zM57 92h1v1h-1zM21 93h1v1h-1zM28 93h2v1h-2zM37 93h1v1h-1zM50 93h1v1h-1zM58 93h1v1h-1zM60 93h3v1h-3zM37 94h1v1h-1zM40 94h1v1h-1zM47 94h1v1h-1zM56 94h1v1h-1zM60 94h1v1h-1zM6 95h1v1h-1zM42 95h1v1h-1zM49 95h1v1h-1zM56 95h2v1h-2zM64 95h1v1h-1zM35 96h1v1h-1zM46 96h1v1h-1zM3 97h1v1h-1zM5 97h1v1h-1zM22 97h1v1h-1zM57 97h1v1h-1zM68 97h1v1h-1zM4 98h1v1h-1zM6 98h1v1h-1zM18 98h1v1h-1zM36 98h1v1h-1zM53 98h1v1h-1zM5 99h1v1h-1zM26 99h1v1h-1zM37 99h2v1h-2zM46 99h1v1h-1zM57 99h1v1h-1zM32 100h2v1h-2zM37 100h1v1h-1zM42 100h1v1h-1zM44 100h1v1h-1zM36 101h2v1h-2zM45 101h1v1h-1zM57 101h1v1h-1zM31 102h1v1h-1zM36 102h2v1h-2zM47 102h1v1h-1zM53 102h1v1h-1zM57 102h1v1h-1zM37 103h2v1h-2zM28 104h2v1h-2zM49 104h1v1h-1zM32 105h1v1h-1zM41 105h1v1h-1zM46 105h1v1h-1zM50 105h1v1h-1zM44 106h1v1h-1zM48 106h1v1h-1zM37 107h1v1h-1zM57 107h1v1h-1zM37 108h1v1h-1zM52 108h1v1h-1zM25 109h1v1h-1zM30 109h1v1h-1zM56 109h1v1h-1zM2 110h1v1h-1zM4 110h1v1h-1zM45 110h1v1h-1zM2 111h1v1h-1zM24 111h1v1h-1zM31 111h1v1h-1zM45 111h1v1h-1zM52 111h1v1h-1zM62 111h1v1h-1zM15 112h1v1h-1zM49 112h1v1h-1zM27 113h1v1h-1zM35 113h1v1h-1zM1 114h1v1h-1zM13 114h1v1h-1zM16 114h1v1h-1zM48 114h2v1h-2zM52 114h1v1h-1zM1 115h1v1h-1zM16 115h1v1h-1zM27 115h1v1h-1zM33 115h1v1h-1zM41 115h2v1h-2zM51 115h1v1h-1zM57 115h1v1h-1zM66 115h1v1h-1zM13 116h2v1h-2zM36 116h1v1h-1zM48 116h1v1h-1zM10 117h1v1h-1zM15 117h1v1h-1zM35 117h1v1h-1zM39 117h1v1h-1zM17 118h1v1h-1zM30 118h1v1h-1zM37 118h1v1h-1zM43 118h1v1h-1zM64 118h1v1h-1zM48 119h1v1h-1zM41 120h1v1h-1zM47 120h1v1h-1zM43 121h1v1h-1zM53 121h1v1h-1zM20 122h1v1h-1zM36 122h1v1h-1zM49 122h1v1h-1zM53 122h1v1h-1zM37 123h1v1h-1zM11 124h1v1h-1zM35 124h2v1h-2zM39 124h1v1h-1zM51 124h1v1h-1zM43 125h1v1h-1zM45 125h1v1h-1zM53 125h1v1h-1zM31 126h1v1h-1zM38 126h1v1h-1zM48 126h1v1h-1zM53 126h1v1h-1zM55 126h1v1h-1zM53 127h1v1h-1zM18 128h1v1h-1zM55 128h1v1h-1zM33 129h1v1h-1zM37 129h1v1h-1zM47 129h1v1h-1zM56 129h1v1h-1z"/>
<path fill="#ee8979" d="M5 0h1v1h-1zM15 0h1v1h-1zM50 0h1v1h-1zM68 0h1v1h-1zM68 1h1v1h-1zM6 2h1v1h-1zM59 2h1v1h-1zM63 2h1v1h-1zM1 3h2v1h-2zM5 3h1v1h-1zM17 3h1v1h-1zM22 3h1v1h-1zM31 3h1v1h-1zM41 3h1v1h-1zM12 4h1v1h-1zM26 4h1v1h-1zM33 4h1v1h-1zM52 4h1v1h-1zM54 4h1v1h-1zM61 4h1v1h-1zM65 4h1v1h-1zM67 4h1v1h-1zM2 5h1v1h-1zM14 5h1v1h-1zM57 5h1v1h-1zM61 5h1v1h-1zM0 6h1v1h-1zM14 6h1v1h-1zM21 6h1v1h-1zM28 6h1v1h-1zM1 7h2v1h-2zM11 7h1v1h-1zM18 7h2v1h-2zM6 8h1v1h-1zM11 8h2v1h-2zM28 8h1v1h-1zM5 9h1v1h-1zM21 9h1v1h-1zM46 9h1v1h-1zM63 9h1v1h-1zM65 9h1v1h-1zM1 10h1v1h-1zM6 10h1v1h-1zM12 10h1v1h-1zM23 10h1v1h-1zM26 10h1v1h-1zM13 11h1v1h-1zM22 11h1v1h-1zM14 12h1v1h-1zM25 12h1v1h-1zM59 12h1v1h-1zM65 12h1v1h-1zM6 13h1v1h-1zM20 13h1v1h-1zM23 13h1v1h-1zM65 13h2v1h-2zM1 14h1v1h-1zM64 14h1v1h-1zM5 15h2v1h-2zM14 15h1v1h-1zM24 16h1v1h-1zM6 17h1v1h-1zM26 17h1v1h-1zM30 17h1v1h-1zM4 18h1v1h-1zM7 18h1v1h-1zM14 18h1v1h-1zM28 18h1v1h-1zM57 18h1v1h-1zM65 18h1v1h-1zM18 19h1v1h-1zM59 19h1v1h-1zM8 20h1v1h-1zM23 20h1v1h-1zM0 21h1v1h-1zM5 21h1v1h-1zM11 21h1v1h-1zM16 21h2v1h-2zM26 21h1v1h-1zM68 21h1v1h-1zM23 22h2v1h-2zM68 22h1v1h-1zM9 23h1v1h-1zM11 23h1v1h-1zM14 23h1v1h-1zM8 24h1v1h-1zM21 24h2v1h-2zM0 26h1v1h-1zM14 26h2v1h-2zM9 27h1v1h-1zM5 29h2v1h-2zM13 29h1v1h-1zM17 29h1v1h-1zM22 29h1v1h-1zM25 29h1v1h-1zM27 29h1v1h-1zM5 30h1v1h-1zM9 30h1v1h-1zM11 30h1v1h-1zM18 30h1v1h-1zM25 30h1v1h-1zM5 31h1v1h-1zM10 31h1v1h-1zM19 31h1v1h-1zM24 31h1v1h-1zM8 32h1v1h-1zM13 32h1v1h-1zM18 32h1v1h-1zM39 32h1v1h-1zM59 32h1v1h-1zM28 33h1v1h-1zM30 33h1v1h-1zM33 33h1v1h-1zM48 33h1v1h-1zM54 33h1v1h-1zM67 33h1v1h-1zM0 34h1v1h-1zM9 34h1v1h-1zM17 34h1v1h-1zM22 34h1v1h-1zM22 35h1v1h-1zM52 35h1v1h-1zM61 35h1v1h-1zM65 36h2v1h-2zM23 37h1v1h-1zM32 37h1v1h-1zM43 37h1v1h-1zM68 37h1v1h-1zM65 39h1v1h-1zM27 40h2v1h-2zM33 41h1v1h-1zM27 42h1v1h-1zM53 42h2v1h-2zM61 42h1v1h-1zM33 43h2v1h-2zM59 43h1v1h-1zM65 43h1v1h-1zM30 45h1v1h-1zM57 45h1v1h-1zM31 47h1v1h-1zM29 48h1v1h-1zM50 48h1v1h-1zM56 48h1v1h-1zM66 48h2v1h-2zM4 49h1v1h-1zM27 49h1v1h-1zM39 49h1v1h-1zM58 49h1v1h-1zM61 49h1v1h-1zM68 49h1v1h-1zM15 50h1v1h-1zM18 50h1v1h-1zM24 50h1v1h-1zM8 51h1v1h-1zM15 51h1v1h-1zM18 51h1v1h-1zM31 51h1v1h-1zM64 51h1v1h-1zM67 51h2v1h-2zM7 52h1v1h-1zM18 52h1v1h-1zM31 52h1v1h-1zM33 52h1v1h-1zM57 52h1v1h-1zM59 52h1v1h-1zM10 53h1v1h-1zM12 53h1v1h-1zM17 53h2v1h-2zM27 53h1v1h-1zM31 53h1v1h-1zM68 53h1v1h-1zM14 54h1v1h-1zM17 54h1v1h-1zM28 54h1v1h-1zM58 54h1v1h-1zM14 55h1v1h-1zM18 55h1v1h-1zM23 55h1v1h-1zM28 55h1v1h-1zM30 55h1v1h-1zM55 55h1v1h-1zM63 55h1v1h-1zM14 56h1v1h-1zM26 56h1v1h-1zM30 56h1v1h-1zM33 56h1v1h-1zM47 56h1v1h-1zM51 56h1v1h-1zM4 57h1v1h-1zM7 57h1v1h-1zM11 57h1v1h-1zM22 57h1v1h-1zM39 57h1v1h-1zM46 57h1v1h-1zM53 57h1v1h-1zM8 58h1v1h-1zM17 58h1v1h-1zM33 58h1v1h-1zM6 60h1v1h-1zM17 60h1v1h-1zM24 60h1v1h-1zM54 60h1v1h-1zM9 61h1v1h-1zM12 61h3v1h-3zM23 61h1v1h-1zM54 61h1v1h-1zM18 62h1v1h-1zM52 62h1v1h-1zM28 63h1v1h-1zM30 63h1v1h-1zM56 65h1v1h-1zM66 65h1v1h-1zM68 65h1v1h-1zM64 66h1v1h-1zM6 67h2v1h-2zM59 69h1v1h-1zM68 69h1v1h-1zM1 70h1v1h-1zM5 70h1v1h-1zM53 70h1v1h-1zM50 71h1v1h-1zM5 74h1v1h-1zM55 74h1v1h-1zM68 74h1v1h-1zM9 75h1v1h-1zM22 75h1v1h-1zM24 75h1v1h-1zM48 75h1v1h-1zM53 75h1v1h-1zM62 75h1v1h-1zM65 75h1v1h-1zM6 76h1v1h-1zM16 76h1v1h-1zM55 76h1v1h-1zM21 77h1v1h-1zM56 77h1v1h-1zM64 78h1v1h-1zM39 79h1v1h-1zM43 79h1v1h-1zM47 79h1v1h-1zM56 79h1v1h-1zM58 79h1v1h-1zM63 79h1v1h-1zM66 79h1v1h-1zM32 82h1v1h-1zM36 83h1v1h-1zM51 83h1v1h-1zM61 83h1v1h-1zM41 85h1v1h-1zM43 85h1v1h-1zM36 86h1v1h-1zM41 86h1v1h-1zM58 86h1v1h-1zM27 87h1v1h-1zM33 87h1v1h-1zM43 87h1v1h-1zM37 88h1v1h-1zM43 88h1v1h-1zM59 88h1v1h-1zM0 89h1v1h-1zM24 89h1v1h-1zM33 89h1v1h-1zM39 89h1v1h-1zM35 90h2v1h-2zM52 90h1v1h-1zM57 90h1v1h-1zM46 92h2v1h-2zM1 93h1v1h-1zM15 93h1v1h-1zM30 93h1v1h-1zM35 93h2v1h-2zM46 93h1v1h-1zM59 93h1v1h-1zM39 94h1v1h-1zM66 94h1v1h-1zM28 95h1v1h-1zM39 95h1v1h-1zM47 95h1v1h-1zM61 96h1v1h-1zM64 97h1v1h-1zM2 98h1v1h-1zM7 98h1v1h-1zM57 98h1v1h-1zM3 99h1v1h-1zM7 99h1v1h-1zM35 100h1v1h-1zM39 100h1v1h-1zM45 100h1v1h-1zM52 100h2v1h-2zM48 101h1v1h-1zM39 103h1v1h-1zM35 104h1v1h-1zM45 104h1v1h-1zM55 104h1v1h-1zM39 105h1v1h-1zM51 105h1v1h-1zM53 105h1v1h-1zM36 106h1v1h-1zM53 106h2v1h-2zM35 107h1v1h-1zM42 107h1v1h-1zM47 107h1v1h-1zM48 108h1v1h-1zM56 108h1v1h-1zM35 109h1v1h-1zM39 109h1v1h-1zM41 109h1v1h-1zM45 109h1v1h-1zM44 110h1v1h-1zM48 110h1v1h-1zM55 110h1v1h-1zM57 110h1v1h-1zM4 111h1v1h-1zM37 111h2v1h-2zM35 112h1v1h-1zM43 112h1v1h-1zM48 112h1v1h-1zM43 113h1v1h-1zM34 114h1v1h-1zM8 115h1v1h-1zM10 115h1v1h-1zM44 115h1v1h-1zM55 116h1v1h-1zM61 116h1v1h-1zM33 118h1v1h-1zM50 118h1v1h-1zM13 119h1v1h-1zM28 119h1v1h-1zM36 119h1v1h-1zM54 119h1v1h-1zM33 120h1v1h-1zM42 120h1v1h-1zM4 122h1v1h-1zM41 122h1v1h-1zM46 122h3v1h-3zM38 123h1v1h-1zM52 123h1v1h-1zM45 124h1v1h-1zM57 124h1v1h-1zM46 126h1v1h-1zM61 126h1v1h-1zM41 127h1v1h-1zM51 127h1v1h-1zM57 127h1v1h-1zM13 128h1v1h-1zM39 129h1v1h-1zM55 129h1v1h-1z"/>
<path fill="#ec7a6a" d="M4 0h1v1h-1zM14 3h1v1h-1zM25 3h1v1h-1zM56 3h2v1h-2zM5 4h1v1h-1zM58 4h1v1h-1zM66 4h1v1h-1zM68 4h1v1h-1zM1 5h1v1h-1zM23 5h1v1h-1zM4 6h1v1h-1zM67 6h1v1h-1zM22 7h1v1h-1zM4 8h1v1h-1zM62 8h1v1h-1zM1 9h1v1h-1zM24 9h1v1h-1zM50 9h1v1h-1zM60 9h1v1h-1zM58 10h2v1h-2zM63 10h3v1h-3zM21 12h1v1h-1zM26 12h1v1h-1zM2 13h1v1h-1zM21 13h1v1h-1zM7 14h2v1h-2zM24 14h1v1h-1zM4 15h1v1h-1zM19 15h1v1h-1zM23 15h1v1h-1zM59 15h1v1h-1zM66 16h1v1h-1zM20 17h1v1h-1zM59 17h2v1h-2zM18 18h1v1h-1zM63 18h1v1h-1zM68 18h1v1h-1zM6 19h1v1h-1zM13 19h1v1h-1zM20 19h1v1h-1zM23 19h1v1h-1zM30 19h1v1h-1zM33 19h1v1h-1zM58 19h1v1h-1zM64 19h1v1h-1zM4 21h1v1h-1zM14 21h1v1h-1zM28 21h1v1h-1zM60 21h1v1h-1zM0 22h2v1h-2zM11 22h2v1h-2zM0 23h1v1h-1zM23 23h1v1h-1zM12 24h1v1h-1zM23 24h1v1h-1zM6 25h1v1h-1zM28 27h1v1h-1zM15 28h1v1h-1zM23 28h1v1h-1zM24 29h1v1h-1zM12 30h1v1h-1zM4 31h1v1h-1zM6 31h1v1h-1zM20 31h1v1h-1zM56 31h1v1h-1zM3 32h2v1h-2zM7 32h1v1h-1zM58 33h2v1h-2zM11 34h1v1h-1zM20 34h2v1h-2zM50 35h1v1h-1zM53 35h1v1h-1zM50 37h1v1h-1zM65 37h1v1h-1zM51 38h1v1h-1zM34 39h1v1h-1zM51 39h1v1h-1zM68 41h1v1h-1zM32 42h1v1h-1zM66 42h1v1h-1zM57 43h1v1h-1zM60 43h1v1h-1zM64 43h1v1h-1zM30 44h1v1h-1zM63 44h1v1h-1zM65 44h1v1h-1zM67 44h2v1h-2zM62 48h1v1h-1zM18 49h1v1h-1zM29 49h1v1h-1zM36 49h1v1h-1zM57 49h1v1h-1zM64 49h1v1h-1zM67 49h1v1h-1zM17 50h1v1h-1zM26 51h1v1h-1zM16 52h1v1h-1zM20 52h1v1h-1zM54 52h1v1h-1zM14 53h1v1h-1zM22 53h1v1h-1zM66 53h1v1h-1zM27 54h1v1h-1zM11 55h3v1h-3zM21 55h1v1h-1zM26 55h1v1h-1zM52 55h1v1h-1zM54 55h1v1h-1zM3 56h1v1h-1zM7 56h1v1h-1zM16 56h2v1h-2zM19 56h1v1h-1zM10 57h1v1h-1zM15 57h1v1h-1zM24 57h1v1h-1zM26 57h1v1h-1zM30 57h1v1h-1zM42 57h1v1h-1zM67 57h1v1h-1zM31 60h1v1h-1zM68 60h1v1h-1zM56 61h1v1h-1zM4 62h1v1h-1zM28 62h1v1h-1zM21 63h1v1h-1zM5 65h1v1h-1zM50 65h1v1h-1zM58 65h1v1h-1zM0 69h1v1h-1zM5 69h1v1h-1zM0 70h1v1h-1zM6 70h1v1h-1zM13 71h1v1h-1zM28 71h1v1h-1zM56 71h1v1h-1zM2 75h1v1h-1zM6 75h1v1h-1zM43 75h1v1h-1zM59 75h1v1h-1zM56 76h1v1h-1zM58 76h1v1h-1zM7 77h1v1h-1zM54 77h2v1h-2zM66 77h1v1h-1zM1 78h1v1h-1zM55 78h2v1h-2zM7 79h1v1h-1zM52 79h1v1h-1zM56 85h1v1h-1zM45 86h1v1h-1zM28 87h1v1h-1zM61 87h1v1h-1zM5 89h1v1h-1zM34 89h1v1h-1zM36 89h1v1h-1zM47 89h1v1h-1zM53 89h1v1h-1zM55 89h2v1h-2zM67 89h1v1h-1zM58 90h1v1h-1zM58 91h1v1h-1zM4 93h1v1h-1zM18 93h1v1h-1zM44 93h1v1h-1zM53 93h1v1h-1zM61 94h1v1h-1zM17 95h1v1h-1zM48 95h1v1h-1zM61 95h1v1h-1zM63 95h1v1h-1zM1 96h1v1h-1zM35 97h1v1h-1zM49 97h1v1h-1zM56 97h1v1h-1zM5 98h1v1h-1zM44 98h1v1h-1zM56 99h1v1h-1zM61 99h1v1h-1zM49 100h1v1h-1zM57 100h1v1h-1zM38 101h1v1h-1zM56 101h1v1h-1zM42 102h1v1h-1zM46 102h1v1h-1zM35 103h1v1h-1zM43 103h1v1h-1zM49 103h1v1h-1zM47 104h2v1h-2zM52 104h1v1h-1zM54 104h1v1h-1zM35 105h2v1h-2zM42 105h1v1h-1zM48 107h1v1h-1zM42 108h1v1h-1zM47 108h1v1h-1zM49 108h1v1h-1zM43 109h1v1h-1zM55 109h1v1h-1zM32 110h1v1h-1zM42 110h2v1h-2zM33 111h1v1h-1zM47 111h1v1h-1zM49 111h1v1h-1zM53 111h1v1h-1zM58 111h1v1h-1zM38 112h1v1h-1zM4 114h1v1h-1zM13 115h1v1h-1zM28 115h1v1h-1zM35 115h1v1h-1zM38 115h1v1h-1zM38 116h2v1h-2zM31 117h1v1h-1zM48 117h1v1h-1zM67 117h1v1h-1zM35 118h1v1h-1zM47 118h2v1h-2zM39 119h1v1h-1zM45 119h1v1h-1zM35 120h1v1h-1zM1 122h1v1h-1zM28 122h1v1h-1zM36 123h1v1h-1zM46 124h1v1h-1zM57 125h1v1h-1zM35 126h1v1h-1zM18 127h1v1h-1zM38 127h1v1h-1zM38 128h1v1h-1zM41 128h1v1h-1zM46 129h1v1h-1z"/>
<path fill="#ea6c5a" d="M17 0h1v1h-1zM21 0h1v1h-1zM0 1h1v1h-1zM11 3h1v1h-1zM13 3h1v1h-1zM62 3h1v1h-1zM0 4h1v1h-1zM2 4h1v1h-1zM4 4h1v1h-1zM8 4h1v1h-1zM63 4h1v1h-1zM0 5h1v1h-1zM19 5h1v1h-1zM60 5h1v1h-1zM66 5h1v1h-1zM68 6h1v1h-1zM25 7h1v1h-1zM64 7h1v1h-1zM21 8h1v1h-1zM24 8h1v1h-1zM0 9h1v1h-1zM59 9h1v1h-1zM21 10h1v1h-1zM60 10h1v1h-1zM62 10h1v1h-1zM0 12h1v1h-1zM7 12h1v1h-1zM22 12h1v1h-1zM3 14h1v1h-1zM19 14h1v1h-1zM21 14h1v1h-1zM20 15h1v1h-1zM65 15h2v1h-2zM19 16h1v1h-1zM21 16h2v1h-2zM14 17h1v1h-1zM24 17h1v1h-1zM21 18h1v1h-1zM24 18h1v1h-1zM59 18h1v1h-1zM62 18h1v1h-1zM7 19h1v1h-1zM24 19h1v1h-1zM9 20h1v1h-1zM13 20h1v1h-1zM24 20h1v1h-1zM8 21h1v1h-1zM25 21h1v1h-1zM53 21h1v1h-1zM62 21h1v1h-1zM8 22h3v1h-3zM13 22h1v1h-1zM19 22h1v1h-1zM13 23h1v1h-1zM21 23h1v1h-1zM20 24h1v1h-1zM24 24h1v1h-1zM15 25h1v1h-1zM19 25h1v1h-1zM24 26h1v1h-1zM6 27h1v1h-1zM7 28h1v1h-1zM10 28h1v1h-1zM21 28h1v1h-1zM3 29h2v1h-2zM8 29h1v1h-1zM12 29h1v1h-1zM0 30h1v1h-1zM15 31h1v1h-1zM0 32h1v1h-1zM5 32h1v1h-1zM11 32h1v1h-1zM14 32h1v1h-1zM21 32h1v1h-1zM28 32h1v1h-1zM63 32h1v1h-1zM1 33h1v1h-1zM7 33h2v1h-2zM14 33h1v1h-1zM19 33h1v1h-1zM51 35h1v1h-1zM59 35h2v1h-2zM59 40h1v1h-1zM62 40h1v1h-1zM65 40h2v1h-2zM67 42h2v1h-2zM62 44h1v1h-1zM24 45h1v1h-1zM60 45h2v1h-2zM4 48h1v1h-1zM32 48h1v1h-1zM34 48h1v1h-1zM30 49h1v1h-1zM32 49h1v1h-1zM55 49h1v1h-1zM59 49h1v1h-1zM65 49h1v1h-1zM3 52h1v1h-1zM53 52h1v1h-1zM65 52h1v1h-1zM64 53h1v1h-1zM50 54h1v1h-1zM12 56h1v1h-1zM31 56h1v1h-1zM14 60h1v1h-1zM37 60h1v1h-1zM22 61h1v1h-1zM21 62h1v1h-1zM0 65h2v1h-2zM57 68h1v1h-1zM8 69h1v1h-1zM33 69h1v1h-1zM5 71h1v1h-1zM2 73h1v1h-1zM7 73h1v1h-1zM1 74h1v1h-1zM3 74h1v1h-1zM6 74h1v1h-1zM66 74h1v1h-1zM7 75h1v1h-1zM26 75h1v1h-1zM31 75h1v1h-1zM33 75h1v1h-1zM1 76h1v1h-1zM4 76h1v1h-1zM0 77h3v1h-3zM5 77h1v1h-1zM0 78h1v1h-1zM17 78h1v1h-1zM1 79h1v1h-1zM6 79h1v1h-1zM59 79h1v1h-1zM61 79h1v1h-1zM62 86h1v1h-1zM12 89h1v1h-1zM41 89h1v1h-1zM60 89h1v1h-1zM66 89h1v1h-1zM41 93h2v1h-2zM36 95h1v1h-1zM44 95h1v1h-1zM6 97h1v1h-1zM26 97h1v1h-1zM36 97h1v1h-1zM48 97h1v1h-1zM50 98h1v1h-1zM44 99h1v1h-1zM63 100h1v1h-1zM44 104h1v1h-1zM44 105h1v1h-1zM43 106h1v1h-1zM46 107h1v1h-1zM32 108h1v1h-1zM34 108h1v1h-1zM41 108h1v1h-1zM51 108h1v1h-1zM37 109h2v1h-2zM42 109h1v1h-1zM46 109h2v1h-2zM43 111h1v1h-1zM48 111h1v1h-1zM37 112h1v1h-1zM37 113h1v1h-1zM36 114h1v1h-1zM41 114h1v1h-1zM56 114h1v1h-1zM48 115h1v1h-1zM33 116h1v1h-1zM38 119h1v1h-1zM46 119h1v1h-1zM55 119h1v1h-1zM35 122h1v1h-1zM39 122h1v1h-1zM39 123h1v1h-1zM43 124h1v1h-1zM39 126h1v1h-1zM28 127h1v1h-1z"/>
<path fill="#e85d4b" d="M4 1h1v1h-1zM59 4h1v1h-1zM3 5h1v1h-1zM7 5h1v1h-1zM65 5h1v1h-1zM26 6h1v1h-1zM21 7h1v1h-1zM66 8h1v1h-1zM4 9h1v1h-1zM7 10h1v1h-1zM68 10h1v1h-1zM56 12h1v1h-1zM61 12h1v1h-1zM4 13h1v1h-1zM19 17h1v1h-1zM66 17h1v1h-1zM68 17h1v1h-1zM20 18h1v1h-1zM66 18h1v1h-1zM7 20h1v1h-1zM19 21h1v1h-1zM59 21h1v1h-1zM4 22h1v1h-1zM14 22h1v1h-1zM15 23h1v1h-1zM3 24h1v1h-1zM11 24h1v1h-1zM4 25h1v1h-1zM11 25h2v1h-2zM8 26h1v1h-1zM11 27h1v1h-1zM22 27h1v1h-1zM9 29h1v1h-1zM14 29h1v1h-1zM7 31h1v1h-1zM13 31h1v1h-1zM22 31h1v1h-1zM15 32h1v1h-1zM17 32h1v1h-1zM24 32h1v1h-1zM10 33h2v1h-2zM15 33h1v1h-1zM21 33h1v1h-1zM23 33h1v1h-1zM55 33h1v1h-1zM14 34h2v1h-2zM19 34h1v1h-1zM23 34h1v1h-1zM20 35h1v1h-1zM31 35h2v1h-2zM28 38h1v1h-1zM60 40h1v1h-1zM66 41h1v1h-1zM63 42h1v1h-1zM58 43h1v1h-1zM62 43h1v1h-1zM58 44h1v1h-1zM61 44h1v1h-1zM28 48h1v1h-1zM60 48h1v1h-1zM63 48h1v1h-1zM34 49h1v1h-1zM60 49h1v1h-1zM66 49h1v1h-1zM9 50h1v1h-1zM10 51h1v1h-1zM22 51h1v1h-1zM4 52h1v1h-1zM67 52h1v1h-1zM16 53h1v1h-1zM4 54h1v1h-1zM56 54h1v1h-1zM66 54h1v1h-1zM50 56h1v1h-1zM12 57h1v1h-1zM17 59h1v1h-1zM22 60h1v1h-1zM0 68h1v1h-1zM6 68h1v1h-1zM4 69h1v1h-1zM0 71h2v1h-2zM7 71h1v1h-1zM52 71h1v1h-1zM4 73h1v1h-1zM0 74h1v1h-1zM28 75h1v1h-1zM66 75h1v1h-1zM2 76h1v1h-1zM7 76h1v1h-1zM4 78h1v1h-1zM0 79h1v1h-1zM3 79h1v1h-1zM46 79h1v1h-1zM57 79h1v1h-1zM45 88h1v1h-1zM22 89h1v1h-1zM49 89h1v1h-1zM61 89h1v1h-1zM45 93h1v1h-1zM48 93h2v1h-2zM62 95h1v1h-1zM0 97h1v1h-1zM64 99h1v1h-1zM45 102h1v1h-1zM33 103h1v1h-1zM41 104h2v1h-2zM33 105h1v1h-1zM47 105h1v1h-1zM38 108h2v1h-2zM33 109h1v1h-1zM48 109h1v1h-1zM34 111h2v1h-2zM39 111h1v1h-1zM46 114h1v1h-1zM18 115h1v1h-1zM46 115h1v1h-1zM37 116h1v1h-1zM36 117h1v1h-1zM46 117h1v1h-1zM38 118h1v1h-1zM49 118h1v1h-1zM54 120h1v1h-1zM46 125h1v1h-1zM36 127h2v1h-2zM46 127h1v1h-1zM36 128h1v1h-1z"/>
<path fill="#e64e3c" d="M2 0h1v1h-1zM59 0h1v1h-1zM4 2h1v1h-1zM9 2h1v1h-1zM0 3h1v1h-1zM6 3h2v1h-2zM7 4h1v1h-1zM14 4h1v1h-1zM62 4h1v1h-1zM4 5h1v1h-1zM13 5h1v1h-1zM21 5h1v1h-1zM24 5h1v1h-1zM6 6h1v1h-1zM22 6h1v1h-1zM66 6h1v1h-1zM19 9h1v1h-1zM22 9h1v1h-1zM0 10h1v1h-1zM5 10h1v1h-1zM22 10h1v1h-1zM4 11h1v1h-1zM21 11h1v1h-1zM23 11h1v1h-1zM4 12h1v1h-1zM6 12h1v1h-1zM19 12h2v1h-2zM60 12h1v1h-1zM64 12h1v1h-1zM66 12h2v1h-2zM22 13h1v1h-1zM59 13h1v1h-1zM2 14h1v1h-1zM4 14h1v1h-1zM22 14h1v1h-1zM66 14h1v1h-1zM7 15h1v1h-1zM13 15h1v1h-1zM21 15h2v1h-2zM24 15h1v1h-1zM22 17h2v1h-2zM22 18h2v1h-2zM14 19h1v1h-1zM19 19h1v1h-1zM21 19h2v1h-2zM21 20h1v1h-1zM6 21h2v1h-2zM9 21h1v1h-1zM12 21h2v1h-2zM15 21h1v1h-1zM18 21h1v1h-1zM21 21h3v1h-3zM15 22h1v1h-1zM21 22h1v1h-1zM63 22h1v1h-1zM3 23h2v1h-2zM8 23h1v1h-1zM22 23h1v1h-1zM19 24h1v1h-1zM9 25h1v1h-1zM4 26h1v1h-1zM11 26h1v1h-1zM21 26h3v1h-3zM14 27h1v1h-1zM21 27h1v1h-1zM25 27h1v1h-1zM19 29h1v1h-1zM21 29h1v1h-1zM22 30h1v1h-1zM11 31h1v1h-1zM9 32h2v1h-2zM12 32h1v1h-1zM23 32h1v1h-1zM65 32h1v1h-1zM0 33h1v1h-1zM9 33h1v1h-1zM12 33h2v1h-2zM22 33h1v1h-1zM24 33h2v1h-2zM63 35h1v1h-1zM67 35h1v1h-1zM53 36h1v1h-1zM33 37h1v1h-1zM60 37h1v1h-1zM64 40h1v1h-1zM28 42h1v1h-1zM62 42h1v1h-1zM64 42h1v1h-1zM27 44h2v1h-2zM60 44h1v1h-1zM64 44h1v1h-1zM28 49h1v1h-1zM33 49h1v1h-1zM62 49h1v1h-1zM14 50h1v1h-1zM65 50h1v1h-1zM17 52h1v1h-1zM19 52h1v1h-1zM64 52h1v1h-1zM66 52h1v1h-1zM18 54h1v1h-1zM63 54h2v1h-2zM17 55h1v1h-1zM4 56h1v1h-1zM24 56h1v1h-1zM52 56h1v1h-1zM13 57h1v1h-1zM16 57h1v1h-1zM18 57h1v1h-1zM21 57h1v1h-1zM29 57h1v1h-1zM16 63h1v1h-1zM4 66h1v1h-1zM4 68h1v1h-1zM46 69h1v1h-1zM2 70h1v1h-1zM4 70h1v1h-1zM4 71h1v1h-1zM55 71h1v1h-1zM1 73h1v1h-1zM5 73h1v1h-1zM4 74h1v1h-1zM7 74h1v1h-1zM56 74h1v1h-1zM0 75h2v1h-2zM3 75h3v1h-3zM54 75h1v1h-1zM56 75h1v1h-1zM61 75h1v1h-1zM4 77h1v1h-1zM6 78h1v1h-1zM58 78h1v1h-1zM62 78h1v1h-1zM4 79h2v1h-2zM22 79h1v1h-1zM0 83h1v1h-1zM4 83h1v1h-1zM11 83h1v1h-1zM33 83h2v1h-2zM46 85h1v1h-1zM46 88h1v1h-1zM32 89h1v1h-1zM42 89h1v1h-1zM45 89h2v1h-2zM48 89h1v1h-1zM52 89h1v1h-1zM58 89h2v1h-2zM62 89h2v1h-2zM37 90h1v1h-1zM53 95h1v1h-1zM39 98h1v1h-1zM56 98h1v1h-1zM46 100h2v1h-2zM46 101h1v1h-1zM48 102h1v1h-1zM46 103h2v1h-2zM38 104h2v1h-2zM46 104h1v1h-1zM37 105h1v1h-1zM43 105h1v1h-1zM48 105h1v1h-1zM35 108h1v1h-1zM43 108h1v1h-1zM46 108h1v1h-1zM46 111h1v1h-1zM37 115h1v1h-1zM39 115h1v1h-1zM39 118h1v1h-1zM46 118h1v1h-1zM46 123h1v1h-1zM48 127h1v1h-1z"/>
</g>
<rect x="216.00" y="26.30" width="10.30" height="5.30" fill="#e8561e"/>
<rect x="226.30" y="26.30" width="6.00" height="5.30" fill="#c9c9cc"/>
<rect x="232.30" y="26.30" width="50.70" height="5.30" fill="#e8561e"/>
<rect x="283.00" y="26.30" width="5.00" height="5.30" fill="#c9c9cc"/>
<rect x="288.00" y="26.30" width="1.70" height="5.30" fill="#e8561e"/>
<rect x="289.70" y="26.30" width="3.90" height="5.30" fill="#c9c9cc"/>
<rect x="293.60" y="26.30" width="2.30" height="5.30" fill="#e8561e"/>
<rect x="295.90" y="26.30" width="12.10" height="5.30" fill="#c9c9cc"/>
<rect x="308.00" y="26.30" width="2.00" height="5.30" fill="#e8561e"/>
<rect x="310.00" y="26.30" width="3.90" height="5.30" fill="#c9c9cc"/>
<rect x="313.90" y="26.30" width="2.00" height="5.30" fill="#e8561e"/>
<rect x="315.90" y="26.30" width="26.80" height="5.30" fill="#c9c9cc"/>
<rect x="342.70" y="26.30" width="1.40" height="5.30" fill="#d04020"/>
<rect x="344.10" y="26.30" width="12.70" height="5.30" fill="#c9c9cc"/>
<rect x="216.00" y="32.30" width="16.30" height="6.40" fill="#f8c800"/>
<rect x="232.30" y="32.30" width="4.90" height="6.40" fill="#f0c6d6"/>
<rect x="237.20" y="32.30" width="3.40" height="6.40" fill="#7a3a9a"/>
<rect x="240.60" y="32.30" width="2.30" height="6.40" fill="#f0c6d6"/>
<rect x="242.90" y="32.30" width="2.90" height="6.40" fill="#7a2a78"/>
<rect x="245.80" y="32.30" width="1.20" height="6.40" fill="#f0c6d6"/>
<rect x="247.00" y="32.30" width="6.00" height="6.40" fill="#111111"/>
<rect x="253.00" y="32.30" width="5.20" height="6.40" fill="#dcdce2"/>
<rect x="258.20" y="32.30" width="3.20" height="6.40" fill="#e04020"/>
<rect x="261.40" y="32.30" width="1.10" height="6.40" fill="#f0c6d6"/>
<rect x="262.50" y="32.30" width="3.80" height="6.40" fill="#8ab43a"/>
<rect x="266.30" y="32.30" width="1.20" height="6.40" fill="#e06030"/>
<rect x="267.50" y="32.30" width="5.20" height="6.40" fill="#f0c6d6"/>
<rect x="272.70" y="32.30" width="2.80" height="6.40" fill="#d02838"/>
<rect x="275.50" y="32.30" width="1.80" height="6.40" fill="#151515"/>
<rect x="277.30" y="32.30" width="4.00" height="6.40" fill="#dcdce2"/>
<rect x="281.30" y="32.30" width="2.90" height="6.40" fill="#7a3a9a"/>
<rect x="284.20" y="32.30" width="3.50" height="6.40" fill="#e03090"/>
<rect x="287.70" y="32.30" width="1.70" height="6.40" fill="#7a3a9a"/>
<rect x="289.40" y="32.30" width="3.50" height="6.40" fill="#a04050"/>
<rect x="292.90" y="32.30" width="0.70" height="6.40" fill="#7a3a9a"/>
<rect x="293.60" y="32.30" width="4.30" height="6.40" fill="#dcdce2"/>
<rect x="297.90" y="32.30" width="11.80" height="6.40" fill="#f04020"/>
<rect x="309.70" y="32.30" width="4.20" height="6.40" fill="#dcdce2"/>
<rect x="313.90" y="32.30" width="2.00" height="6.40" fill="#c02030"/>
<rect x="315.90" y="32.30" width="1.90" height="6.40" fill="#dcdce2"/>
<rect x="317.80" y="32.30" width="2.30" height="6.40" fill="#1a2a7a"/>
<rect x="320.10" y="32.30" width="1.90" height="6.40" fill="#dcdce2"/>
<rect x="322.00" y="32.30" width="12.00" height="6.40" fill="#f8c800"/>
<rect x="334.00" y="32.30" width="1.80" height="6.40" fill="#e04020"/>
<rect x="335.80" y="32.30" width="6.20" height="6.40" fill="#dcdce2"/>
<rect x="342.00" y="32.30" width="2.10" height="6.40" fill="#f8c800"/>
<rect x="344.10" y="32.30" width="3.80" height="6.40" fill="#dcdce2"/>
<rect x="347.90" y="32.30" width="2.10" height="6.40" fill="#f8c800"/>
<rect x="350.00" y="32.30" width="6.80" height="6.40" fill="#dcdce2"/>
<rect x="216.00" y="39.80" width="3.40" height="5.40" fill="#3a2c98"/>
<rect x="219.40" y="39.80" width="1.40" height="5.40" fill="#c02050"/>
<rect x="220.80" y="39.80" width="3.00" height="5.40" fill="#3a2c98"/>
<rect x="223.80" y="39.80" width="1.20" height="5.40" fill="#c02050"/>
<rect x="225.00" y="39.80" width="4.80" height="5.40" fill="#3a2c98"/>
<rect x="229.80" y="39.80" width="1.20" height="5.40" fill="#c02050"/>
<rect x="231.00" y="39.80" width="1.30" height="5.40" fill="#3a2c98"/>
<rect x="232.30" y="39.80" width="4.90" height="5.40" fill="#b01830"/>
<rect x="237.20" y="39.80" width="19.60" height="5.40" fill="#f03c1c"/>
<rect x="256.80" y="39.80" width="4.60" height="5.40" fill="#3a2c98"/>
<rect x="261.40" y="39.80" width="2.90" height="5.40" fill="#f03c1c"/>
<rect x="264.30" y="39.80" width="0.90" height="5.40" fill="#3a2c98"/>
<rect x="265.20" y="39.80" width="1.10" height="5.40" fill="#f03c1c"/>
<rect x="266.30" y="39.80" width="1.20" height="5.40" fill="#3a2c98"/>
<rect x="267.50" y="39.80" width="2.30" height="5.40" fill="#e04050"/>
<rect x="269.80" y="39.80" width="2.60" height="5.40" fill="#3a2c98"/>
<rect x="272.40" y="39.80" width="1.40" height="5.40" fill="#f03c1c"/>
<rect x="273.80" y="39.80" width="4.00" height="5.40" fill="#3a2c98"/>
<rect x="277.80" y="39.80" width="1.80" height="5.40" fill="#f03c1c"/>
<rect x="279.60" y="39.80" width="2.30" height="5.40" fill="#3a2c98"/>
<rect x="281.90" y="39.80" width="1.70" height="5.40" fill="#f03c1c"/>
<rect x="283.60" y="39.80" width="2.30" height="5.40" fill="#3a2c98"/>
<rect x="285.90" y="39.80" width="1.80" height="5.40" fill="#f03c1c"/>
<rect x="287.70" y="39.80" width="4.00" height="5.40" fill="#3a2c98"/>
<rect x="291.70" y="39.80" width="2.30" height="5.40" fill="#f03c1c"/>
<rect x="294.00" y="39.80" width="56.00" height="5.40" fill="#3a2c98"/>
<rect x="350.00" y="39.80" width="2.40" height="5.40" fill="#e03040"/>
<rect x="352.40" y="39.80" width="2.10" height="5.40" fill="#a01030"/>
<rect x="354.50" y="39.80" width="2.30" height="5.40" fill="#e03040"/>
<rect x="216.00" y="46.00" width="16.30" height="5.70" fill="#18a89c"/>
<rect x="232.30" y="46.00" width="39.30" height="5.70" fill="#b060c0"/>
<rect x="271.60" y="46.00" width="26.00" height="5.70" fill="#f8c800"/>
<rect x="297.60" y="46.00" width="20.20" height="5.70" fill="#e8481c"/>
<rect x="317.80" y="46.00" width="16.60" height="5.70" fill="#20a070"/>
<rect x="334.40" y="46.00" width="22.40" height="5.70" fill="#e8883a"/>
<line x1="233.50" y1="25.30" x2="233.50" y2="261.50" stroke="#1a1a1a" stroke-width="1.1"/>
<line x1="271.50" y1="25.30" x2="271.50" y2="261.50" stroke="#1a1a1a" stroke-width="1.1"/>
<path d="M233.3,21.1 V18.5 H271.2 V21.1 M252,18.5 V16.6" stroke="#3a62b0" stroke-width="0.8" fill="none"/>
<text x="252.00" y="11.75" font-size="5.7" text-anchor="middle" fill="#3a5a9a" stroke="#3a5a9a" textLength="22" lengthAdjust="spacingAndGlyphs">MLC-like</text>
<text x="287.00" y="19.68" font-size="8.0" stroke="#222222" textLength="57" lengthAdjust="spacingAndGlyphs">Japanese cohort</text>
<text x="360.20" y="31.25" font-size="5.7" stroke="#222222" textLength="20.7" lengthAdjust="spacingAndGlyphs">Relapse</text>
<text x="360.20" y="38.25" font-size="5.7" stroke="#222222">Subtype</text>
<text x="360.20" y="44.95" font-size="5.7" stroke="#222222" textLength="28.4" lengthAdjust="spacingAndGlyphs">MLC score</text>
<text x="360.20" y="51.25" font-size="5.7" stroke="#222222">Cluster</text>
<text x="360.20" y="65.45" font-size="5.7" stroke="#222222">Z-score</text>
<defs><linearGradient id="zg" x1="0" y1="0" x2="0" y2="1"><stop offset="0" stop-color="#b01a1e"/><stop offset="0.1" stop-color="#e0281a"/><stop offset="0.28" stop-color="#f0502e"/><stop offset="0.42" stop-color="#f4a68a"/><stop offset="0.5" stop-color="#f6f2f0"/><stop offset="0.58" stop-color="#bcc0e2"/><stop offset="0.72" stop-color="#6e74c4"/><stop offset="0.86" stop-color="#3a3a98"/><stop offset="1" stop-color="#24226e"/></linearGradient></defs>
<rect x="367.90" y="70.90" width="4.60" height="70.80" fill="url(#zg)"/>
<text x="375.60" y="73.62" font-size="5.6" stroke="#222222">4</text>
<text x="375.60" y="90.92" font-size="5.6" stroke="#222222">2</text>
<text x="375.60" y="108.32" font-size="5.6" stroke="#222222">0</text>
<text x="375.60" y="126.42" font-size="5.6" stroke="#222222">−2</text>
<text x="375.60" y="143.42" font-size="5.6" stroke="#222222">−4</text>
<text x="395.00" y="30.75" font-size="5.7" stroke="#222222" textLength="20.5" lengthAdjust="spacingAndGlyphs">Relapse</text>
<rect x="395.00" y="35.10" width="7.80" height="7.60" fill="#e8501c"/>
<text x="406.10" y="40.95" font-size="5.7" stroke="#222222">Yes</text>
<rect x="395.00" y="42.70" width="7.80" height="7.60" fill="#cfcfd2"/>
<text x="406.10" y="48.65" font-size="5.7" stroke="#222222">No</text>
<text x="395.00" y="62.05" font-size="5.7" stroke="#222222">Subtype</text>
<rect x="395.00" y="66.20" width="7.80" height="8.13" fill="#c8102e"/>
<text x="406.10" y="72.37" font-size="5.75" stroke="#222222">Hyperdiploid</text>
<rect x="395.00" y="74.32" width="7.80" height="8.13" fill="#6a2d9a"/>
<text x="406.10" y="80.49" font-size="5.75" stroke="#222222">TCF3::PBX1</text>
<rect x="395.00" y="82.44" width="7.80" height="8.13" fill="#f8c800"/>
<text x="406.10" y="88.61" font-size="5.75" stroke="#222222">ETV6::RUNX1</text>
<rect x="395.00" y="90.56" width="7.80" height="8.13" fill="#6ab42d"/>
<text x="406.10" y="96.73" font-size="5.75" stroke="#222222">BCR::ABL1</text>
<rect x="395.00" y="98.68" width="7.80" height="8.13" fill="#f4b8c8"/>
<text x="406.10" y="104.85" font-size="5.75" stroke="#222222">BCR::ABL1-like</text>
<rect x="395.00" y="106.80" width="7.80" height="8.13" fill="#1c4a8a"/>
<text x="406.10" y="112.97" font-size="5.75" stroke="#222222">CRLF2-r</text>
<rect x="395.00" y="114.92" width="7.80" height="8.13" fill="#0a0a0a"/>
<text x="406.10" y="121.09" font-size="5.75" stroke="#222222">KMT2A-r</text>
<rect x="395.00" y="123.04" width="7.80" height="8.13" fill="#14504a"/>
<text x="406.10" y="129.21" font-size="5.75" stroke="#222222">ZNF384-r</text>
<rect x="395.00" y="131.16" width="7.80" height="8.13" fill="#e0287a"/>
<text x="406.10" y="137.33" font-size="5.75" stroke="#222222">MEF2D-r</text>
<rect x="395.00" y="139.28" width="7.80" height="8.13" fill="#6cc080"/>
<text x="406.10" y="145.45" font-size="5.75" stroke="#222222">TCF3::HLF</text>
<rect x="395.00" y="147.40" width="7.80" height="8.13" fill="#b8501a"/>
<text x="406.10" y="153.57" font-size="5.75" stroke="#222222">PAX5-r</text>
<rect x="395.00" y="155.52" width="7.80" height="8.13" fill="#d2d2d4"/>
<text x="406.10" y="161.69" font-size="5.75" stroke="#222222">Others</text>
<text x="395.00" y="175.65" font-size="5.7" stroke="#222222">MLC score</text>
<rect x="395.00" y="180.00" width="7.80" height="8.10" fill="#d0102c"/>
<text x="406.10" y="186.05" font-size="5.7" stroke="#222222">High</text>
<rect x="395.00" y="188.10" width="7.80" height="8.10" fill="#1a4a80"/>
<text x="406.10" y="194.15" font-size="5.7" stroke="#222222">Low</text>
<text x="395.00" y="207.45" font-size="5.7" stroke="#222222">Cluster</text>
<rect x="395.00" y="211.50" width="7.80" height="8.20" fill="#18a89c"/>
<text x="406.10" y="217.65" font-size="5.7" stroke="#222222">Cluster1</text>
<rect x="395.00" y="219.70" width="7.80" height="8.20" fill="#b060c0"/>
<text x="406.10" y="225.85" font-size="5.7" stroke="#222222">Cluster2</text>
<rect x="395.00" y="227.90" width="7.80" height="8.20" fill="#f8c800"/>
<text x="406.10" y="234.05" font-size="5.7" stroke="#222222">Cluster3</text>
<rect x="395.00" y="236.10" width="7.80" height="8.20" fill="#e8481c"/>
<text x="406.10" y="242.25" font-size="5.7" stroke="#222222">Cluster4</text>
<rect x="395.00" y="244.30" width="7.80" height="8.20" fill="#20a070"/>
<text x="406.10" y="250.45" font-size="5.7" stroke="#222222">Cluster5</text>
<rect x="395.00" y="252.50" width="7.80" height="8.20" fill="#e08840"/>
<text x="406.10" y="258.65" font-size="5.7" stroke="#222222">Cluster6</text>
<path d="M214,73.8 H191.4 V180.5 H204.3 M204.3,144 V217 M204.3,144 H210.5 M210.5,125.6 V163.7 M210.5,125.6 H213.9 M210.5,163.7 H212 M212,150 V178 M212,150 H214 M212,178 H214 M204.3,217 H210.4 M210.4,201.2 V233 M210.4,201.2 H215.3 M210.4,233 H213.4 M213.4,221.3 V244.8 M213.4,221.3 H215 M213.4,244.8 H215" stroke="#666666" stroke-width="0.8" fill="none"/>
<path d="M213.4,54 V261" stroke="#8a8e90" stroke-width="0.8" fill="none"/>
<rect x="214.5" y="54.0" width="1.6" height="3.9" fill="#2a2a30" opacity="0.95"/>
<rect x="214.5" y="57.9" width="1.6" height="2.9" fill="#2a2a30" opacity="0.85"/>
<rect x="214.5" y="60.8" width="1.6" height="4.1" fill="#2a2a30" opacity="0.7"/>
<rect x="214.5" y="64.9" width="1.6" height="3.2" fill="#2a2a30" opacity="0.7"/>
<rect x="214.5" y="68.2" width="1.6" height="3.6" fill="#2a2a30" opacity="0.35"/>
<rect x="214.5" y="71.7" width="1.6" height="4.9" fill="#2a2a30" opacity="0.5"/>
<rect x="214.5" y="76.6" width="1.6" height="3.2" fill="#2a2a30" opacity="0.7"/>
<rect x="214.5" y="79.9" width="1.6" height="4.7" fill="#2a2a30" opacity="0.95"/>
<rect x="214.5" y="84.6" width="1.6" height="4.6" fill="#2a2a30" opacity="0.35"/>
<rect x="214.5" y="89.1" width="1.6" height="1.9" fill="#2a2a30" opacity="0.35"/>
<rect x="214.5" y="91.1" width="1.6" height="4.9" fill="#2a2a30" opacity="0.85"/>
<rect x="214.5" y="95.9" width="1.6" height="4.1" fill="#2a2a30" opacity="0.85"/>
<rect x="214.5" y="100.1" width="1.6" height="2.9" fill="#2a2a30" opacity="0.35"/>
<rect x="214.5" y="103.0" width="1.6" height="4.6" fill="#2a2a30" opacity="0.7"/>
<rect x="214.5" y="107.5" width="1.6" height="2.2" fill="#2a2a30" opacity="0.95"/>
<rect x="214.5" y="109.8" width="1.6" height="1.8" fill="#2a2a30" opacity="0.35"/>
<rect x="214.5" y="111.6" width="1.6" height="4.4" fill="#2a2a30" opacity="0.7"/>
<rect x="214.5" y="115.9" width="1.6" height="3.1" fill="#2a2a30" opacity="0.35"/>
<rect x="214.5" y="119.0" width="1.6" height="3.4" fill="#2a2a30" opacity="0.95"/>
<rect x="214.5" y="122.4" width="1.6" height="4.5" fill="#2a2a30" opacity="0.5"/>
<rect x="214.5" y="126.9" width="1.6" height="4.3" fill="#2a2a30" opacity="0.85"/>
<rect x="214.5" y="131.2" width="1.6" height="4.3" fill="#2a2a30" opacity="0.35"/>
<rect x="214.5" y="135.6" width="1.6" height="4.5" fill="#2a2a30" opacity="0.95"/>
<rect x="214.5" y="140.1" width="1.6" height="3.6" fill="#2a2a30" opacity="0.35"/>
<rect x="214.5" y="143.7" width="1.6" height="4.1" fill="#2a2a30" opacity="0.95"/>
<rect x="214.5" y="147.8" width="1.6" height="4.0" fill="#2a2a30" opacity="0.95"/>
<rect x="214.5" y="151.8" width="1.6" height="1.7" fill="#2a2a30" opacity="0.7"/>
<rect x="214.5" y="153.5" width="1.6" height="4.7" fill="#2a2a30" opacity="0.85"/>
<rect x="214.5" y="158.2" width="1.6" height="2.3" fill="#2a2a30" opacity="0.35"/>
<rect x="214.5" y="160.5" width="1.6" height="1.9" fill="#2a2a30" opacity="0.5"/>
<rect x="214.5" y="162.3" width="1.6" height="4.9" fill="#2a2a30" opacity="0.7"/>
<rect x="214.5" y="167.2" width="1.6" height="3.1" fill="#2a2a30" opacity="0.85"/>
<rect x="214.5" y="170.3" width="1.6" height="3.3" fill="#2a2a30" opacity="0.95"/>
<rect x="214.5" y="173.6" width="1.6" height="4.1" fill="#2a2a30" opacity="0.7"/>
<rect x="214.5" y="177.7" width="1.6" height="1.8" fill="#2a2a30" opacity="0.35"/>
<rect x="214.5" y="179.6" width="1.6" height="1.5" fill="#2a2a30" opacity="0.85"/>
<rect x="214.5" y="181.1" width="1.6" height="4.8" fill="#2a2a30" opacity="0.85"/>
<rect x="214.5" y="185.9" width="1.6" height="4.3" fill="#2a2a30" opacity="0.35"/>
<rect x="214.5" y="190.2" width="1.6" height="4.1" fill="#2a2a30" opacity="0.7"/>
<rect x="214.5" y="194.3" width="1.6" height="3.7" fill="#2a2a30" opacity="0.35"/>
<rect x="214.5" y="198.0" width="1.6" height="2.0" fill="#2a2a30" opacity="0.85"/>
<rect x="214.5" y="200.0" width="1.6" height="4.9" fill="#2a2a30" opacity="0.5"/>
<rect x="214.5" y="204.8" width="1.6" height="3.6" fill="#2a2a30" opacity="0.95"/>
<rect x="214.5" y="208.4" width="1.6" height="4.7" fill="#2a2a30" opacity="0.7"/>
<rect x="214.5" y="213.1" width="1.6" height="4.5" fill="#2a2a30" opacity="0.85"/>
<rect x="214.5" y="217.6" width="1.6" height="1.6" fill="#2a2a30" opacity="0.85"/>
<rect x="214.5" y="219.2" width="1.6" height="4.5" fill="#2a2a30" opacity="0.85"/>
<rect x="214.5" y="223.7" width="1.6" height="1.7" fill="#2a2a30" opacity="0.35"/>
<rect x="214.5" y="225.3" width="1.6" height="1.6" fill="#2a2a30" opacity="0.5"/>
<rect x="214.5" y="227.0" width="1.6" height="3.3" fill="#2a2a30" opacity="0.5"/>
<rect x="214.5" y="230.2" width="1.6" height="2.6" fill="#2a2a30" opacity="0.7"/>
<rect x="214.5" y="232.8" width="1.6" height="3.8" fill="#2a2a30" opacity="0.5"/>
<rect x="214.5" y="236.6" width="1.6" height="3.9" fill="#2a2a30" opacity="0.85"/>
<rect x="214.5" y="240.6" width="1.6" height="3.3" fill="#2a2a30" opacity="0.7"/>
<rect x="214.5" y="243.9" width="1.6" height="2.5" fill="#2a2a30" opacity="0.5"/>
<rect x="214.5" y="246.4" width="1.6" height="3.0" fill="#2a2a30" opacity="0.95"/>
<rect x="214.5" y="249.3" width="1.6" height="2.4" fill="#2a2a30" opacity="0.35"/>
<rect x="214.5" y="251.8" width="1.6" height="3.7" fill="#2a2a30" opacity="0.7"/>
<rect x="214.5" y="255.5" width="1.6" height="1.8" fill="#2a2a30" opacity="0.5"/>
<rect x="214.5" y="257.2" width="1.6" height="3.6" fill="#2a2a30" opacity="0.7"/>
<rect x="214.5" y="260.8" width="1.6" height="0.2" fill="#2a2a30" opacity="0.85"/>
</g>
<rect x="0.5" y="0.5" width="519" height="660" fill="none" stroke="#5a5a5a" stroke-width="1"/>
</svg></body></html>
